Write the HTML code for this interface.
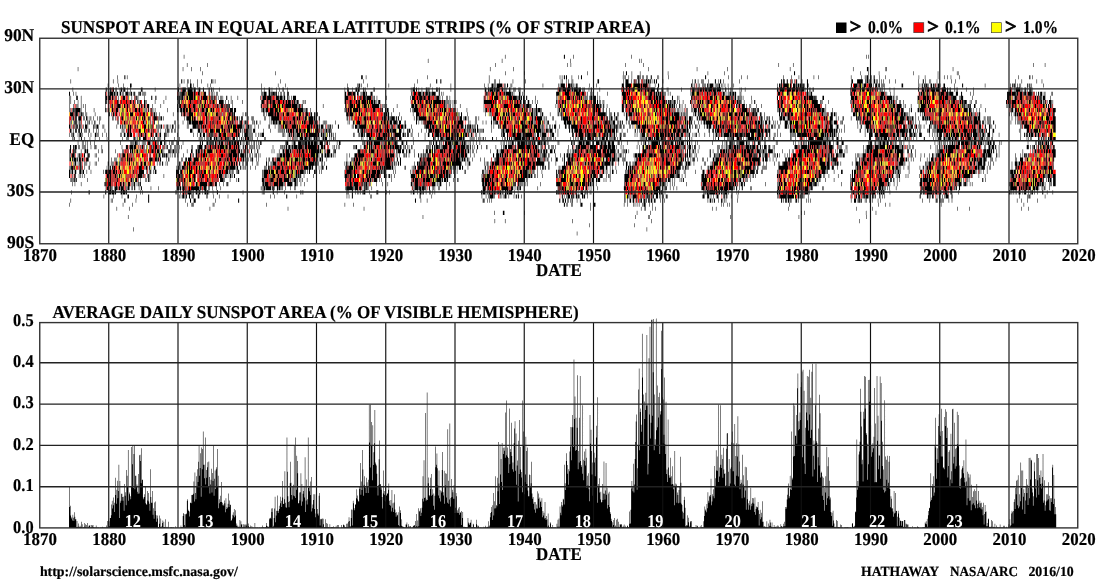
<!DOCTYPE html>
<html><head><meta charset="utf-8"><title>Sunspot butterfly diagram</title>
<style>html,body{margin:0;padding:0;background:#fff;overflow:hidden}svg{display:block}</style>
</head><body>
<svg width="1112" height="581" viewBox="0 0 1112 581" font-family="'Liberation Serif', serif" font-weight="bold" stroke="#000" stroke-width="0.2" style="text-rendering:geometricPrecision">
<rect width="1112" height="581" fill="#fff" stroke="none"/>
<g stroke="none"><g transform="translate(69.000 40.305) scale(0.51713 4.11000)" fill="none" stroke-width="1"><path stroke="#000" d="M222 4h1m620 0h1m113 0h2m16 0h1m111 0h1m454 0h1m3 0h1m-853 1h1m142 0h1m131 0h1m133 0h1m2 0h1m-879 1h1m38 0h1m556 0h1m138 0h1m6 0h1m105 0h1m33 0h1m261 0h1m27 0h1m464 0h1m21 0h1m-1871 1h1m202 0h1m15 0h1m17 0h1m559 0h1m44 0h1m260 0h1m93 0h1m58 0h1m120 0h1m121 0h1m26 0h3m33 0h2m128 0h1m-1452 1h1m140 0h1m444 0h1m35 0h1m121 0h1m69 0h1m4 0h2m9 0h1m15 0h1m53 0h1m76 0h1m31 0h1m134 0h2m126 0h1m15 0h1m19 0h1m66 0h1m46 0h1m36 0h1m1 0h1m-1627 1h1m13 0h2m3 0h1m452 0h3m6 0h1m118 0h1m118 0h1m136 0h1m3 0h1m3 0h2m2 0h2m9 0h1m12 0h1m4 0h2m79 0h1m1 0h1m2 0h1m5 0h1m5 0h1m10 0h3m1 0h1m1 0h1m3 0h2m5 0h1m1 0h1m6 0h2m11 0h1m1 0h1m18 0h1m70 0h2m43 0h1m24 0h1m10 0h1m69 0h1m15 0h1m13 0h1m28 0h1m8 0h1m62 0h1m19 0h1m6 0h1m1 0h1m1 0h3m5 0h1m4 0h2m9 0h1m10 0h1m64 0h1m11 0h1m24 0h1m11 0h1m5 0h1m6 0h1m16 0h1m113 0h1m20 0h2m4 0h1m-1861 1h1m81 0h1m8 0h1m122 0h2m3 0h1m6 0h2m3 0h1m13 0h1m7 0h1m18 0h2m1 0h1m3 0h1m125 0h1m160 0h1m103 0h1m36 0h2m6 0h2m92 0h1m9 0h1m1 0h1m7 0h1m25 0h1m23 0h1m68 0h1m2 0h1m7 0h1m2 0h1m6 0h1m1 0h1m46 0h1m1 0h2m47 0h1m3 0h6m5 0h1m4 0h2m1 0h1m1 0h1m2 0h2m1 0h1m2 0h1m1 0h1m2 0h2m2 0h3m1 0h3m1 0h2m2 0h1m3 0h2m2 0h2m11 0h1m56 0h1m4 0h2m4 0h1m6 0h1m1 0h2m9 0h1m12 0h2m5 0h1m2 0h2m4 0h1m30 0h1m80 0h2m2 0h3m4 0h2m5 0h2m2 0h1m2 0h1m3 0h2m9 0h1m9 0h2m84 0h3m8 0h11m5 0h2m1 0h3m1 0h1m2 0h1m1 0h1m3 0h3m2 0h1m1 0h1m3 0h1m3 0h1m3 0h1m10 0h1m11 0h1m43 0h1m8 0h2m3 0h1m6 0h1m2 0h1m11 0h1m27 0h1m7 0h1m115 0h1m11 0h1m28 0h1m9 0h1m-1807 1h1m19 0h1m9 0h1m12 0h3m93 0h1m13 0h1m5 0h3m3 0h1m7 0h1m19 0h1m4 0h1m98 0h1m31 0h1m13 0h1m119 0h1m18 0h1m1 0h1m1 0h2m2 0h1m11 0h1m40 0h1m49 0h1m29 0h1m39 0h1m64 0h1m6 0h1m5 0h1m1 0h3m1 0h1m1 0h1m2 0h11m4 0h2m3 0h2m5 0h1m1 0h1m59 0h1m29 0h1m2 0h1m1 0h8m3 0h1m2 0h5m1 0h2m1 0h1m1 0h1m3 0h2m1 0h1m22 0h1m13 0h1m48 0h4m3 0h11m4 0h14m1 0h3m1 0h9m2 0h1m1 0h1m9 0h1m5 0h2m62 0h2m1 0h1m2 0h1m3 0h1m2 0h1m2 0h1m5 0h2m1 0h1m1 0h1m3 0h2m1 0h1m1 0h7m3 0h1m2 0h1m1 0h1m1 0h3m2 0h1m2 0h1m3 0h1m5 0h1m10 0h1m84 0h1m2 0h3m1 0h2m2 0h11m2 0h3m3 0h5m1 0h2m1 0h3m1 0h3m2 0h3m1 0h1m4 0h3m82 0h2m4 0h7m1 0h1m1 0h4m1 0h1m1 0h1m1 0h5m4 0h7m2 0h1m3 0h4m2 0h3m3 0h1m1 0h1m1 0h2m33 0h3m29 0h1m2 0h1m3 0h2m2 0h2m1 0h3m1 0h2m4 0h3m2 0h2m1 0h2m2 0h1m1 0h3m1 0h1m6 0h3m18 0h1m14 0h2m42 0h1m48 0h1m3 0h2m1 0h2m1 0h1m3 0h1m2 0h1m2 0h1m12 0h2m2 0h2m2 0h1m22 0h1m-1878 1h1m63 0h2m2 0h1m3 0h2m1 0h1m1 0h3m3 0h2m6 0h1m1 0h3m2 0h4m4 0h1m4 0h1m20 0h2m1 0h1m23 0h1m43 0h3m3 0h1m2 0h7m2 0h1m1 0h9m2 0h4m4 0h1m1 0h3m5 0h2m9 0h2m3 0h2m2 0h1m10 0h1m81 0h1m4 0h1m8 0h3m3 0h1m8 0h1m5 0h1m5 0h2m7 0h1m110 0h1m4 0h3m7 0h1m5 0h3m1 0h4m7 0h2m2 0h1m15 0h2m70 0h1m1 0h1m1 0h4m2 0h2m3 0h1m5 0h1m7 0h2m1 0h1m1 0h2m5 0h1m7 0h3m2 0h2m21 0h1m65 0h3m3 0h2m1 0h8m1 0h3m1 0h7m4 0h3m2 0h2m1 0h1m5 0h2m1 0h1m4 0h1m1 0h1m1 0h1m5 0h1m1 0h2m7 0h1m64 0h1m1 0h4m1 0h1m1 0h8m1 0h6m1 0h1m1 0h3m1 0h8m1 0h5m2 0h1m2 0h2m8 0h1m3 0h2m3 0h1m11 0h1m41 0h1m2 0h3m3 0h3m3 0h2m1 0h2m1 0h5m4 0h1m1 0h5m1 0h3m1 0h1m2 0h4m1 0h5m1 0h9m4 0h3m5 0h1m1 0h2m7 0h1m1 0h1m25 0h1m16 0h1m3 0h5m1 0h1m1 0h1m1 0h3m1 0h5m1 0h3m1 0h6m1 0h8m1 0h6m1 0h9m3 0h1m4 0h2m4 0h1m3 0h1m17 0h1m2 0h1m6 0h1m61 0h3m2 0h10m4 0h9m1 0h6m1 0h6m1 0h3m1 0h6m1 0h1m3 0h2m2 0h1m2 0h1m3 0h2m71 0h2m1 0h8m1 0h1m1 0h1m1 0h1m1 0h3m1 0h6m4 0h4m1 0h1m2 0h1m1 0h3m3 0h2m1 0h2m2 0h1m2 0h2m2 0h1m3 0h1m9 0h1m7 0h1m46 0h2m5 0h5m1 0h2m1 0h5m1 0h2m1 0h8m1 0h7m5 0h8m2 0h2m3 0h2m7 0h1m2 0h1m2 0h1m16 0h1m13 0h1m69 0h3m1 0h1m3 0h1m1 0h1m1 0h8m1 0h2m2 0h1m2 0h1m1 0h2m2 0h1m3 0h3m1 0h2m-1863 1h2m6 0h1m4 0h1m56 0h2m3 0h1m1 0h1m1 0h7m1 0h2m1 0h1m1 0h3m3 0h3m2 0h1m1 0h1m3 0h5m1 0h1m1 0h1m1 0h3m2 0h1m1 0h2m6 0h1m1 0h3m2 0h1m1 0h1m1 0h1m2 0h1m60 0h1m2 0h1m1 0h2m1 0h7m1 0h1m1 0h1m1 0h11m1 0h4m4 0h4m2 0h1m2 0h1m1 0h5m5 0h2m3 0h1m1 0h1m2 0h1m4 0h1m1 0h1m84 0h1m1 0h2m1 0h5m4 0h3m1 0h2m1 0h5m1 0h3m3 0h1m3 0h2m4 0h2m5 0h3m108 0h3m3 0h8m1 0h6m3 0h3m4 0h1m1 0h1m1 0h5m1 0h2m7 0h4m75 0h2m3 0h4m2 0h1m1 0h6m1 0h1m1 0h3m2 0h5m1 0h3m1 0h2m1 0h7m6 0h2m3 0h1m2 0h1m81 0h3m1 0h2m1 0h1m2 0h1m2 0h5m2 0h4m3 0h4m4 0h3m1 0h11m1 0h2m2 0h1m9 0h3m3 0h1m65 0h7m1 0h1m2 0h1m5 0h8m2 0h1m1 0h1m3 0h1m1 0h2m1 0h8m1 0h1m2 0h5m2 0h1m2 0h1m5 0h1m1 0h2m9 0h1m19 0h1m27 0h8m2 0h2m2 0h2m4 0h1m6 0h3m6 0h1m1 0h2m2 0h1m2 0h3m2 0h2m1 0h6m1 0h1m1 0h3m1 0h3m1 0h3m1 0h2m1 0h2m1 0h1m1 0h1m1 0h1m4 0h1m3 0h1m39 0h1m1 0h6m3 0h6m2 0h2m4 0h1m1 0h1m3 0h3m1 0h2m3 0h1m1 0h2m1 0h5m2 0h1m2 0h1m3 0h1m2 0h4m2 0h1m3 0h1m1 0h1m1 0h2m3 0h3m1 0h3m7 0h1m1 0h1m69 0h1m1 0h4m1 0h1m2 0h3m6 0h4m1 0h1m3 0h4m5 0h3m3 0h1m2 0h1m1 0h1m8 0h4m2 0h1m1 0h3m74 0h3m1 0h1m2 0h2m2 0h1m2 0h1m2 0h3m2 0h1m2 0h1m4 0h2m4 0h4m3 0h1m1 0h1m1 0h1m1 0h1m3 0h1m2 0h2m1 0h7m1 0h1m2 0h1m6 0h1m6 0h1m48 0h2m1 0h3m1 0h4m1 0h2m1 0h2m1 0h1m1 0h1m4 0h5m1 0h2m2 0h1m1 0h3m1 0h8m1 0h1m1 0h5m1 0h8m5 0h4m6 0h2m16 0h1m5 0h1m64 0h8m1 0h8m1 0h4m2 0h5m1 0h2m1 0h4m1 0h1m1 0h8m1 0h2m2 0h1m2 0h1m3 0h2m2 0h4m3 0h1m1 0h1m12 0h2m-1901 1h1m1 0h1m10 0h3m6 0h1m46 0h4m2 0h5m2 0h3m2 0h1m1 0h1m1 0h1m2 0h1m6 0h1m1 0h5m3 0h1m2 0h1m5 0h1m4 0h1m1 0h1m1 0h2m1 0h1m11 0h1m13 0h2m6 0h2m18 0h1m21 0h3m1 0h3m1 0h4m1 0h1m1 0h1m2 0h4m1 0h8m1 0h4m3 0h1m3 0h1m2 0h2m2 0h8m1 0h1m2 0h2m1 0h2m1 0h2m1 0h2m1 0h1m1 0h1m2 0h1m3 0h1m1 0h1m2 0h1m6 0h2m7 0h1m12 0h1m43 0h1m3 0h8m1 0h9m1 0h1m3 0h1m2 0h6m1 0h6m2 0h3m4 0h2m1 0h1m4 0h1m2 0h6m94 0h7m1 0h1m4 0h1m1 0h1m2 0h2m1 0h1m4 0h1m3 0h3m2 0h6m1 0h9m1 0h2m2 0h2m4 0h1m17 0h1m46 0h1m2 0h6m4 0h3m1 0h7m1 0h5m1 0h1m2 0h5m2 0h1m1 0h1m2 0h1m1 0h1m1 0h6m1 0h1m4 0h1m6 0h1m1 0h1m4 0h1m65 0h2m1 0h1m3 0h1m3 0h1m4 0h2m2 0h8m2 0h1m1 0h1m1 0h1m1 0h2m4 0h2m4 0h7m1 0h8m1 0h1m1 0h4m1 0h2m2 0h2m4 0h2m16 0h1m39 0h1m2 0h1m2 0h1m1 0h2m1 0h1m8 0h7m1 0h2m2 0h3m1 0h2m2 0h2m1 0h4m1 0h2m1 0h1m1 0h1m1 0h2m1 0h1m1 0h1m3 0h1m1 0h4m1 0h1m1 0h4m2 0h1m4 0h1m44 0h6m2 0h1m1 0h2m4 0h3m17 0h1m3 0h1m1 0h1m1 0h1m2 0h1m1 0h7m3 0h4m1 0h5m1 0h4m1 0h5m1 0h1m13 0h2m8 0h1m2 0h1m23 0h3m1 0h1m1 0h2m2 0h2m2 0h2m4 0h2m4 0h1m4 0h2m3 0h6m2 0h2m2 0h3m2 0h2m4 0h5m1 0h1m1 0h8m1 0h1m1 0h1m1 0h1m1 0h1m1 0h3m3 0h2m1 0h1m1 0h1m1 0h1m2 0h1m15 0h1m49 0h2m5 0h3m1 0h2m11 0h1m4 0h1m1 0h3m6 0h2m10 0h4m1 0h4m1 0h9m1 0h3m1 0h1m11 0h3m52 0h6m1 0h5m2 0h1m2 0h1m3 0h2m5 0h1m1 0h1m4 0h1m4 0h1m2 0h1m2 0h1m1 0h2m2 0h1m1 0h1m1 0h6m1 0h4m2 0h11m2 0h2m3 0h1m1 0h1m39 0h4m1 0h1m2 0h1m1 0h7m1 0h5m5 0h4m4 0h1m1 0h1m1 0h1m2 0h4m2 0h2m1 0h7m1 0h1m1 0h1m1 0h2m1 0h8m5 0h1m1 0h1m1 0h4m18 0h1m66 0h5m1 0h2m1 0h1m3 0h1m1 0h4m1 0h2m2 0h5m1 0h1m1 0h1m4 0h3m1 0h1m1 0h3m1 0h2m4 0h3m2 0h2m1 0h2m1 0h3m2 0h5m9 0h1m-1897 1h1m1 0h1m6 0h1m6 0h1m5 0h1m46 0h3m2 0h1m5 0h1m2 0h1m2 0h1m5 0h3m5 0h2m7 0h2m2 0h1m2 0h4m3 0h2m2 0h1m3 0h2m1 0h1m1 0h2m6 0h3m1 0h1m16 0h1m16 0h1m26 0h2m1 0h2m2 0h2m2 0h1m3 0h1m5 0h1m2 0h2m1 0h2m1 0h1m7 0h2m1 0h1m1 0h2m1 0h1m3 0h1m1 0h3m5 0h2m1 0h2m2 0h5m2 0h1m5 0h9m3 0h1m5 0h1m4 0h1m2 0h1m18 0h1m36 0h5m1 0h1m2 0h1m1 0h3m2 0h4m1 0h6m2 0h1m1 0h5m5 0h3m1 0h1m1 0h3m1 0h6m2 0h2m1 0h4m1 0h1m1 0h3m8 0h1m1 0h1m2 0h1m75 0h3m1 0h1m1 0h1m2 0h5m2 0h1m4 0h4m1 0h4m1 0h1m1 0h9m1 0h3m1 0h2m2 0h4m1 0h3m1 0h1m1 0h1m2 0h4m59 0h1m2 0h1m2 0h4m3 0h3m1 0h4m3 0h1m3 0h5m1 0h3m1 0h3m2 0h16m1 0h3m1 0h2m1 0h2m1 0h1m1 0h1m2 0h1m1 0h1m3 0h1m2 0h2m1 0h1m53 0h16m2 0h2m2 0h3m7 0h2m2 0h2m2 0h1m2 0h1m3 0h1m3 0h2m2 0h2m2 0h3m2 0h3m1 0h1m1 0h2m1 0h1m2 0h5m4 0h3m6 0h1m4 0h1m3 0h1m36 0h2m1 0h1m2 0h2m1 0h1m1 0h4m2 0h3m1 0h1m2 0h2m3 0h1m3 0h2m2 0h3m6 0h1m4 0h1m1 0h2m1 0h4m3 0h1m3 0h2m4 0h4m2 0h2m2 0h1m1 0h1m4 0h1m1 0h1m36 0h2m1 0h3m2 0h1m1 0h1m1 0h3m1 0h4m2 0h1m2 0h1m1 0h1m21 0h1m2 0h1m1 0h4m2 0h4m2 0h3m1 0h2m1 0h1m3 0h5m1 0h2m2 0h2m1 0h3m1 0h1m1 0h2m1 0h3m3 0h1m3 0h1m6 0h1m13 0h2m1 0h1m1 0h1m2 0h1m1 0h1m3 0h4m1 0h3m1 0h3m4 0h2m1 0h5m5 0h1m1 0h3m4 0h1m4 0h3m5 0h1m1 0h1m2 0h2m3 0h2m5 0h4m4 0h4m1 0h3m1 0h1m4 0h1m14 0h1m4 0h2m42 0h1m1 0h2m1 0h2m1 0h4m3 0h1m5 0h1m7 0h2m1 0h1m3 0h2m1 0h2m7 0h1m2 0h1m2 0h3m4 0h1m1 0h2m2 0h12m5 0h2m1 0h1m11 0h1m42 0h1m1 0h1m1 0h4m2 0h1m1 0h1m5 0h1m3 0h3m6 0h5m6 0h1m2 0h3m1 0h1m3 0h3m1 0h2m1 0h2m5 0h1m4 0h1m1 0h3m1 0h3m1 0h3m1 0h1m2 0h1m5 0h2m5 0h1m27 0h2m1 0h1m1 0h4m1 0h3m1 0h3m1 0h3m1 0h2m4 0h1m11 0h1m6 0h4m2 0h1m1 0h1m1 0h1m1 0h1m1 0h2m1 0h2m1 0h6m2 0h2m1 0h1m2 0h3m1 0h4m1 0h5m6 0h1m2 0h1m7 0h2m57 0h2m1 0h4m1 0h2m1 0h9m3 0h2m1 0h1m1 0h4m2 0h1m1 0h1m3 0h2m2 0h4m3 0h2m3 0h1m3 0h2m4 0h4m2 0h2m1 0h2m2 0h1m3 0h5m2 0h1m-1902 1h1m6 0h1m4 0h1m1 0h1m1 0h1m5 0h1m3 0h1m3 0h1m38 0h1m5 0h1m5 0h3m2 0h1m2 0h2m1 0h7m2 0h1m3 0h3m1 0h1m1 0h3m1 0h1m6 0h2m1 0h2m7 0h2m2 0h2m1 0h1m2 0h3m3 0h4m6 0h1m15 0h1m31 0h2m2 0h4m2 0h1m1 0h5m1 0h1m1 0h1m2 0h2m2 0h1m2 0h6m4 0h1m1 0h2m1 0h2m1 0h2m1 0h3m3 0h2m1 0h2m3 0h1m2 0h1m3 0h1m1 0h2m1 0h2m1 0h2m2 0h5m1 0h2m1 0h1m1 0h3m1 0h3m5 0h1m54 0h2m3 0h2m2 0h2m1 0h3m3 0h2m2 0h8m1 0h2m2 0h2m1 0h1m1 0h4m3 0h12m1 0h11m1 0h1m1 0h2m1 0h1m1 0h2m39 0h1m42 0h2m1 0h1m2 0h1m1 0h8m1 0h2m4 0h6m4 0h2m1 0h6m2 0h2m1 0h1m3 0h15m2 0h1m2 0h1m1 0h1m2 0h1m3 0h1m19 0h1m27 0h6m1 0h4m1 0h2m1 0h1m3 0h4m1 0h1m1 0h2m3 0h2m3 0h2m1 0h1m2 0h4m2 0h2m1 0h1m1 0h2m7 0h3m1 0h1m1 0h1m3 0h1m1 0h2m4 0h1m13 0h1m45 0h1m3 0h1m2 0h1m1 0h1m1 0h2m1 0h4m2 0h1m1 0h3m6 0h1m3 0h1m2 0h9m6 0h2m3 0h12m1 0h2m2 0h1m2 0h1m1 0h1m1 0h7m1 0h2m9 0h2m36 0h1m3 0h1m1 0h1m1 0h3m1 0h2m2 0h1m1 0h2m3 0h1m4 0h1m1 0h1m7 0h1m4 0h1m1 0h2m1 0h1m2 0h2m3 0h1m2 0h2m1 0h2m1 0h2m1 0h1m1 0h2m2 0h3m1 0h7m1 0h2m1 0h1m2 0h2m5 0h1m28 0h4m3 0h4m2 0h2m1 0h2m2 0h2m5 0h1m1 0h1m3 0h1m4 0h2m3 0h2m1 0h1m2 0h1m3 0h1m3 0h1m1 0h3m4 0h2m4 0h4m1 0h6m1 0h1m2 0h3m1 0h4m1 0h4m1 0h2m2 0h1m5 0h2m3 0h1m5 0h1m11 0h1m3 0h2m3 0h1m1 0h2m1 0h4m2 0h1m1 0h1m1 0h2m2 0h2m1 0h2m5 0h4m1 0h1m4 0h1m1 0h2m6 0h1m1 0h2m4 0h2m3 0h5m1 0h3m1 0h1m5 0h2m1 0h1m1 0h3m3 0h6m3 0h1m5 0h1m1 0h1m10 0h1m9 0h1m30 0h3m3 0h4m4 0h1m4 0h2m2 0h2m3 0h1m2 0h1m3 0h3m1 0h1m2 0h3m2 0h1m3 0h4m1 0h3m1 0h1m3 0h1m2 0h2m1 0h13m2 0h1m7 0h1m50 0h1m1 0h2m1 0h4m2 0h2m3 0h3m2 0h2m9 0h5m3 0h1m11 0h1m1 0h1m2 0h3m7 0h1m3 0h2m1 0h3m1 0h6m2 0h10m4 0h1m2 0h1m10 0h1m14 0h2m2 0h10m1 0h1m1 0h4m9 0h1m4 0h1m5 0h1m2 0h2m1 0h3m2 0h1m2 0h1m1 0h1m1 0h1m2 0h5m3 0h2m1 0h1m2 0h3m1 0h1m1 0h1m1 0h3m1 0h2m1 0h1m1 0h1m1 0h2m1 0h3m6 0h3m10 0h1m49 0h1m1 0h1m2 0h3m2 0h4m2 0h2m1 0h2m2 0h1m1 0h1m3 0h2m1 0h3m7 0h1m3 0h1m2 0h1m1 0h1m3 0h2m1 0h1m3 0h2m6 0h4m2 0h2m2 0h2m2 0h3m1 0h1m-1901 1h1m1 0h1m2 0h1m1 0h3m1 0h10m1 0h1m7 0h1m16 0h1m21 0h2m1 0h1m2 0h2m5 0h3m2 0h1m1 0h5m3 0h1m3 0h2m1 0h2m5 0h2m3 0h2m3 0h1m2 0h1m1 0h5m2 0h4m3 0h1m2 0h2m2 0h2m3 0h2m2 0h1m1 0h2m1 0h1m3 0h1m23 0h1m18 0h2m1 0h1m2 0h4m1 0h5m1 0h4m2 0h5m2 0h1m1 0h4m4 0h2m2 0h1m2 0h6m1 0h1m1 0h4m4 0h4m1 0h3m6 0h1m3 0h1m1 0h2m4 0h1m1 0h2m1 0h1m1 0h3m2 0h6m2 0h4m49 0h1m1 0h4m2 0h5m3 0h8m2 0h6m1 0h3m10 0h2m2 0h1m1 0h1m1 0h1m2 0h1m4 0h7m1 0h11m1 0h1m1 0h1m1 0h2m1 0h1m5 0h1m65 0h2m1 0h2m1 0h3m1 0h4m2 0h10m1 0h3m1 0h1m2 0h1m5 0h3m2 0h1m1 0h1m1 0h1m4 0h6m2 0h1m5 0h2m1 0h3m4 0h2m1 0h4m9 0h1m32 0h1m3 0h1m1 0h10m4 0h2m1 0h1m1 0h1m1 0h1m4 0h3m2 0h1m1 0h4m1 0h2m1 0h1m4 0h1m1 0h2m1 0h3m1 0h3m1 0h5m2 0h1m1 0h1m2 0h3m2 0h2m1 0h2m3 0h1m18 0h1m32 0h1m2 0h4m4 0h3m1 0h1m5 0h1m1 0h5m4 0h1m5 0h2m2 0h2m3 0h2m2 0h1m1 0h2m5 0h2m2 0h1m1 0h2m1 0h1m1 0h1m1 0h3m2 0h1m1 0h1m1 0h3m3 0h1m1 0h1m2 0h3m2 0h1m1 0h4m1 0h5m1 0h1m31 0h1m1 0h3m2 0h2m1 0h5m3 0h1m2 0h1m7 0h4m4 0h1m1 0h2m3 0h1m3 0h1m4 0h2m3 0h2m2 0h1m4 0h1m1 0h4m1 0h2m2 0h5m4 0h2m5 0h1m5 0h1m23 0h4m3 0h1m2 0h1m1 0h1m1 0h2m1 0h1m1 0h5m2 0h3m2 0h2m4 0h1m1 0h1m2 0h1m7 0h2m6 0h1m1 0h1m1 0h2m1 0h3m1 0h1m1 0h1m2 0h2m2 0h1m2 0h2m4 0h2m1 0h4m2 0h2m1 0h1m1 0h1m2 0h1m2 0h1m1 0h1m2 0h1m3 0h1m3 0h1m4 0h1m1 0h1m6 0h1m1 0h1m2 0h6m2 0h3m1 0h2m2 0h4m1 0h1m3 0h1m3 0h1m3 0h3m2 0h1m5 0h2m3 0h1m1 0h2m9 0h1m3 0h2m1 0h1m3 0h2m1 0h2m7 0h1m2 0h1m1 0h2m1 0h11m2 0h2m3 0h1m1 0h1m1 0h3m1 0h2m2 0h3m36 0h1m1 0h4m3 0h5m5 0h1m2 0h5m11 0h2m13 0h2m1 0h4m1 0h2m1 0h4m1 0h3m1 0h2m1 0h8m1 0h6m2 0h1m12 0h1m36 0h1m1 0h1m3 0h8m1 0h2m3 0h4m2 0h4m3 0h1m4 0h1m1 0h3m2 0h1m5 0h1m3 0h2m1 0h2m1 0h1m3 0h4m3 0h2m2 0h5m2 0h1m1 0h2m1 0h6m2 0h5m11 0h1m2 0h2m11 0h3m1 0h10m3 0h1m1 0h1m2 0h4m2 0h3m1 0h3m1 0h1m3 0h1m2 0h4m5 0h2m1 0h2m2 0h1m1 0h1m1 0h1m2 0h1m1 0h4m6 0h4m1 0h1m1 0h1m3 0h8m2 0h4m1 0h1m2 0h1m6 0h1m4 0h1m11 0h1m47 0h1m1 0h4m3 0h4m2 0h2m1 0h1m2 0h2m5 0h1m3 0h1m1 0h1m1 0h3m3 0h1m6 0h2m1 0h2m2 0h2m2 0h2m1 0h1m2 0h2m5 0h4m3 0h1m1 0h6m-1906 1h7m1 0h1m1 0h5m2 0h1m1 0h1m1 0h2m1 0h2m4 0h1m1 0h1m15 0h1m26 0h2m3 0h1m2 0h3m3 0h2m5 0h1m2 0h2m1 0h1m1 0h1m2 0h1m1 0h1m3 0h1m2 0h6m6 0h1m5 0h3m4 0h5m1 0h1m9 0h2m1 0h1m1 0h3m2 0h1m4 0h1m26 0h1m8 0h1m6 0h2m2 0h4m1 0h1m2 0h1m1 0h9m8 0h2m1 0h1m2 0h2m1 0h1m3 0h1m1 0h4m1 0h1m1 0h2m5 0h2m2 0h1m2 0h4m1 0h2m2 0h1m1 0h1m1 0h1m1 0h1m1 0h1m3 0h1m2 0h5m1 0h3m1 0h3m15 0h1m4 0h2m33 0h2m4 0h1m2 0h11m1 0h4m1 0h5m2 0h2m2 0h3m4 0h6m1 0h1m2 0h1m7 0h1m1 0h1m3 0h5m1 0h1m1 0h2m3 0h5m1 0h1m2 0h1m1 0h2m4 0h2m1 0h1m1 0h2m55 0h5m1 0h8m2 0h2m6 0h3m1 0h3m3 0h1m2 0h2m1 0h1m1 0h1m3 0h1m4 0h2m4 0h1m7 0h1m5 0h1m1 0h2m1 0h3m1 0h3m4 0h1m15 0h1m25 0h1m5 0h7m3 0h1m2 0h2m2 0h1m4 0h1m1 0h1m1 0h2m2 0h2m3 0h2m2 0h3m2 0h2m6 0h1m1 0h2m2 0h1m1 0h1m1 0h1m1 0h2m1 0h1m4 0h1m4 0h2m1 0h2m1 0h1m3 0h2m10 0h1m34 0h1m6 0h1m2 0h2m4 0h1m1 0h7m5 0h1m1 0h1m1 0h4m2 0h3m1 0h3m3 0h2m1 0h5m4 0h2m4 0h1m1 0h1m4 0h4m2 0h1m1 0h2m1 0h1m1 0h5m2 0h2m1 0h3m5 0h1m2 0h3m13 0h1m14 0h2m2 0h1m1 0h2m1 0h1m4 0h3m2 0h1m2 0h1m3 0h1m6 0h4m1 0h2m9 0h1m5 0h1m2 0h2m2 0h1m4 0h1m2 0h2m3 0h2m1 0h15m1 0h1m5 0h1m1 0h1m1 0h1m4 0h2m4 0h1m1 0h1m10 0h1m3 0h3m2 0h7m1 0h2m2 0h1m1 0h3m1 0h2m6 0h1m1 0h1m2 0h1m4 0h1m1 0h3m1 0h1m4 0h1m3 0h3m4 0h1m1 0h3m11 0h3m1 0h2m2 0h1m1 0h3m1 0h10m1 0h1m2 0h2m2 0h1m1 0h2m2 0h1m1 0h1m10 0h1m2 0h3m3 0h2m1 0h6m2 0h3m1 0h2m1 0h1m1 0h3m5 0h1m7 0h1m1 0h1m2 0h2m4 0h1m1 0h3m1 0h1m1 0h3m2 0h7m1 0h1m2 0h6m2 0h3m1 0h5m1 0h2m2 0h7m1 0h1m1 0h1m1 0h5m1 0h4m5 0h2m1 0h1m4 0h1m28 0h2m2 0h3m1 0h1m2 0h4m1 0h5m1 0h5m1 0h1m6 0h1m6 0h2m3 0h1m1 0h5m3 0h1m4 0h3m2 0h1m1 0h1m1 0h1m2 0h1m1 0h2m4 0h4m2 0h1m1 0h1m1 0h2m1 0h1m4 0h4m2 0h3m1 0h1m32 0h5m1 0h2m3 0h3m1 0h1m4 0h3m1 0h1m1 0h8m2 0h2m2 0h3m5 0h2m2 0h1m3 0h1m1 0h1m8 0h2m3 0h1m2 0h3m2 0h7m1 0h2m2 0h5m1 0h4m1 0h1m1 0h1m2 0h1m11 0h1m9 0h1m3 0h1m2 0h3m2 0h1m1 0h2m1 0h1m1 0h1m1 0h1m1 0h1m1 0h1m2 0h2m3 0h1m1 0h6m3 0h1m2 0h1m1 0h1m2 0h1m2 0h1m4 0h1m3 0h2m1 0h1m3 0h1m2 0h2m7 0h2m3 0h1m1 0h2m2 0h3m1 0h3m1 0h1m1 0h1m1 0h1m3 0h1m2 0h3m56 0h1m3 0h1m4 0h1m1 0h3m1 0h3m1 0h4m1 0h1m1 0h2m5 0h3m1 0h1m4 0h2m6 0h1m2 0h1m2 0h1m5 0h1m1 0h3m5 0h3m1 0h3m1 0h1m1 0h1m2 0h3m-1906 1h1m3 0h1m1 0h1m1 0h2m2 0h3m3 0h6m4 0h2m3 0h2m1 0h1m3 0h1m1 0h1m4 0h1m7 0h1m2 0h1m2 0h1m22 0h2m3 0h1m3 0h1m1 0h1m5 0h4m4 0h2m1 0h1m1 0h1m2 0h1m1 0h2m2 0h1m1 0h1m3 0h3m2 0h2m1 0h1m3 0h2m1 0h4m5 0h3m1 0h1m5 0h7m1 0h2m2 0h2m1 0h2m2 0h1m27 0h1m12 0h1m3 0h9m1 0h3m1 0h4m4 0h1m4 0h1m3 0h1m6 0h3m2 0h2m7 0h2m1 0h1m1 0h1m2 0h1m1 0h4m5 0h1m1 0h2m3 0h1m1 0h4m3 0h3m1 0h3m1 0h2m1 0h2m2 0h1m3 0h3m11 0h1m5 0h2m1 0h1m21 0h2m8 0h1m2 0h16m4 0h1m1 0h2m3 0h1m3 0h1m3 0h1m2 0h1m2 0h6m2 0h3m1 0h3m1 0h1m1 0h1m2 0h2m1 0h4m3 0h9m1 0h3m1 0h1m5 0h2m52 0h2m2 0h1m1 0h1m2 0h2m1 0h1m2 0h1m4 0h1m1 0h2m4 0h1m1 0h1m1 0h6m1 0h2m2 0h1m1 0h2m3 0h2m3 0h1m1 0h1m1 0h2m3 0h1m3 0h2m1 0h6m2 0h3m1 0h2m1 0h7m2 0h2m2 0h2m4 0h1m24 0h1m3 0h3m2 0h15m1 0h1m1 0h1m1 0h2m3 0h2m1 0h2m4 0h2m1 0h1m1 0h2m4 0h1m2 0h1m3 0h3m2 0h2m1 0h2m1 0h1m3 0h2m3 0h1m2 0h2m2 0h5m3 0h1m1 0h3m1 0h1m2 0h1m13 0h1m1 0h1m3 0h1m23 0h1m3 0h6m7 0h3m1 0h2m1 0h2m1 0h3m4 0h3m2 0h3m2 0h1m2 0h2m4 0h3m5 0h1m2 0h1m1 0h3m8 0h1m1 0h3m2 0h3m2 0h10m3 0h1m1 0h1m2 0h1m11 0h2m15 0h2m1 0h10m1 0h3m2 0h1m3 0h2m1 0h1m3 0h2m2 0h1m3 0h2m1 0h1m7 0h2m3 0h1m4 0h3m4 0h1m1 0h1m1 0h1m2 0h1m2 0h5m2 0h2m2 0h3m3 0h2m1 0h3m3 0h1m2 0h3m1 0h1m15 0h3m3 0h1m2 0h2m2 0h1m2 0h1m4 0h2m2 0h1m1 0h1m7 0h1m2 0h1m2 0h2m2 0h1m4 0h1m6 0h1m3 0h1m4 0h1m3 0h5m1 0h6m1 0h2m1 0h2m1 0h4m2 0h8m1 0h2m1 0h1m1 0h1m2 0h1m1 0h3m1 0h1m3 0h5m1 0h1m8 0h2m2 0h2m1 0h1m1 0h10m1 0h1m1 0h2m1 0h3m2 0h3m4 0h1m1 0h2m2 0h1m1 0h2m1 0h2m2 0h1m1 0h2m1 0h3m6 0h3m1 0h1m1 0h1m4 0h1m1 0h4m6 0h4m1 0h1m1 0h2m2 0h2m2 0h3m1 0h1m1 0h1m1 0h1m1 0h1m2 0h1m5 0h3m1 0h1m2 0h1m4 0h2m2 0h2m5 0h1m12 0h1m1 0h4m1 0h5m3 0h1m1 0h4m1 0h2m4 0h2m7 0h2m10 0h3m1 0h1m3 0h4m1 0h3m6 0h1m2 0h1m1 0h4m6 0h4m1 0h2m1 0h1m3 0h6m6 0h1m3 0h1m8 0h2m14 0h1m9 0h3m1 0h3m1 0h2m3 0h4m3 0h4m1 0h1m1 0h1m2 0h3m9 0h1m3 0h1m2 0h4m2 0h2m3 0h3m1 0h1m4 0h3m3 0h4m1 0h2m1 0h1m1 0h9m1 0h1m2 0h4m1 0h1m1 0h2m1 0h3m4 0h1m4 0h1m7 0h4m1 0h2m1 0h4m1 0h2m3 0h2m2 0h1m1 0h1m2 0h1m2 0h1m1 0h2m1 0h1m3 0h1m3 0h1m2 0h2m1 0h3m3 0h1m4 0h1m1 0h1m5 0h2m3 0h1m1 0h1m1 0h4m1 0h4m1 0h3m1 0h3m1 0h2m1 0h1m1 0h6m1 0h5m7 0h1m1 0h1m4 0h2m1 0h1m1 0h1m41 0h1m6 0h1m2 0h1m1 0h1m1 0h1m1 0h1m1 0h2m3 0h2m3 0h1m10 0h2m3 0h1m5 0h3m4 0h4m2 0h1m2 0h7m6 0h6m-1908 1h1m2 0h2m4 0h2m1 0h3m2 0h1m2 0h2m1 0h1m7 0h1m3 0h1m2 0h2m4 0h1m4 0h2m7 0h1m34 0h1m1 0h1m7 0h1m2 0h3m1 0h1m1 0h1m1 0h1m2 0h1m5 0h1m3 0h1m5 0h2m8 0h3m2 0h1m4 0h1m2 0h1m1 0h1m2 0h1m2 0h2m7 0h1m30 0h2m14 0h1m8 0h2m1 0h4m1 0h13m1 0h8m2 0h1m3 0h3m2 0h1m2 0h2m2 0h3m1 0h1m1 0h1m2 0h2m1 0h1m9 0h1m3 0h1m1 0h3m2 0h3m1 0h3m1 0h2m2 0h1m3 0h1m2 0h1m1 0h4m3 0h1m1 0h2m1 0h1m10 0h1m2 0h2m3 0h2m5 0h1m18 0h1m2 0h1m2 0h4m1 0h4m1 0h1m1 0h4m3 0h6m1 0h3m1 0h1m1 0h4m2 0h1m1 0h4m1 0h1m2 0h2m2 0h1m3 0h3m1 0h4m2 0h1m1 0h1m1 0h8m1 0h2m1 0h3m1 0h1m3 0h1m6 0h1m2 0h2m2 0h1m16 0h1m23 0h1m2 0h1m6 0h2m1 0h1m4 0h6m2 0h1m1 0h1m1 0h1m1 0h4m4 0h1m3 0h4m5 0h2m2 0h2m3 0h1m1 0h3m1 0h1m1 0h2m1 0h1m2 0h2m1 0h1m1 0h5m2 0h7m1 0h1m2 0h4m7 0h2m20 0h2m3 0h1m5 0h1m2 0h1m1 0h3m1 0h12m3 0h4m4 0h1m1 0h1m1 0h2m2 0h2m3 0h1m1 0h3m1 0h1m2 0h1m2 0h1m4 0h4m1 0h1m1 0h11m10 0h1m2 0h1m9 0h1m1 0h1m12 0h1m5 0h1m9 0h2m2 0h1m2 0h2m1 0h4m3 0h2m5 0h5m1 0h3m3 0h2m1 0h1m5 0h1m1 0h3m1 0h3m4 0h5m2 0h2m3 0h1m1 0h4m1 0h5m2 0h1m1 0h1m3 0h7m2 0h2m2 0h1m2 0h1m2 0h3m13 0h1m15 0h5m1 0h8m1 0h1m2 0h4m4 0h2m1 0h1m1 0h1m1 0h3m8 0h1m1 0h3m1 0h1m1 0h1m1 0h1m2 0h1m3 0h1m1 0h1m1 0h4m1 0h1m4 0h2m1 0h7m1 0h3m1 0h1m1 0h1m1 0h5m4 0h1m1 0h1m2 0h2m2 0h2m6 0h1m4 0h2m3 0h13m2 0h3m6 0h1m1 0h3m2 0h2m2 0h1m2 0h1m3 0h1m3 0h3m4 0h1m1 0h2m7 0h1m2 0h5m2 0h15m1 0h1m1 0h2m1 0h2m4 0h2m1 0h3m1 0h2m2 0h3m1 0h2m4 0h1m7 0h1m4 0h1m4 0h3m1 0h13m3 0h2m1 0h4m5 0h3m3 0h1m1 0h3m1 0h2m2 0h1m1 0h1m3 0h2m1 0h1m1 0h1m3 0h1m1 0h2m1 0h2m2 0h11m2 0h1m1 0h1m2 0h3m1 0h2m3 0h5m1 0h5m1 0h3m2 0h1m2 0h4m3 0h3m6 0h1m2 0h1m4 0h1m4 0h1m8 0h6m2 0h1m1 0h5m1 0h2m2 0h6m2 0h1m5 0h2m2 0h5m3 0h3m2 0h2m2 0h2m5 0h1m2 0h2m2 0h2m6 0h1m1 0h2m1 0h2m2 0h5m1 0h1m2 0h6m7 0h1m1 0h2m28 0h1m4 0h2m3 0h3m2 0h11m4 0h3m2 0h2m5 0h1m1 0h3m2 0h2m4 0h2m1 0h1m1 0h1m2 0h1m4 0h2m1 0h1m2 0h6m1 0h9m2 0h1m5 0h3m1 0h2m1 0h2m2 0h1m3 0h1m6 0h1m12 0h1m7 0h3m1 0h2m1 0h2m1 0h2m1 0h1m1 0h1m1 0h2m1 0h3m2 0h1m1 0h1m3 0h3m1 0h2m1 0h3m1 0h2m2 0h3m3 0h1m2 0h1m2 0h2m5 0h2m2 0h1m3 0h4m1 0h3m1 0h1m1 0h10m1 0h3m3 0h3m2 0h1m3 0h1m2 0h2m1 0h1m5 0h2m32 0h1m8 0h1m3 0h1m1 0h1m1 0h2m1 0h1m1 0h5m1 0h4m1 0h1m2 0h4m1 0h3m4 0h1m1 0h1m1 0h1m2 0h5m1 0h3m1 0h1m4 0h2m1 0h3m1 0h10m-1908 1h2m1 0h1m3 0h2m1 0h1m1 0h1m1 0h3m2 0h2m1 0h2m4 0h1m2 0h4m1 0h1m10 0h2m1 0h1m2 0h4m8 0h1m1 0h1m24 0h1m6 0h2m2 0h2m2 0h1m1 0h1m2 0h1m1 0h2m1 0h4m2 0h1m2 0h1m1 0h2m2 0h2m3 0h1m7 0h4m1 0h1m2 0h2m1 0h2m1 0h3m7 0h2m2 0h2m2 0h3m5 0h1m2 0h1m1 0h2m3 0h1m3 0h2m1 0h1m3 0h1m5 0h1m15 0h1m1 0h1m8 0h8m1 0h3m1 0h2m1 0h2m2 0h2m1 0h3m1 0h1m1 0h1m4 0h2m2 0h1m2 0h2m3 0h1m1 0h2m2 0h2m1 0h4m1 0h1m1 0h1m1 0h1m1 0h1m1 0h4m1 0h4m1 0h6m2 0h10m1 0h1m1 0h1m4 0h1m2 0h3m1 0h1m2 0h1m5 0h1m6 0h1m19 0h2m10 0h1m5 0h1m2 0h2m1 0h1m2 0h3m1 0h6m1 0h1m1 0h1m2 0h1m1 0h9m1 0h2m2 0h2m1 0h1m6 0h1m4 0h7m1 0h3m3 0h2m1 0h5m1 0h2m2 0h5m3 0h1m4 0h2m1 0h1m1 0h2m2 0h1m10 0h2m25 0h1m2 0h1m2 0h5m1 0h1m1 0h14m2 0h2m3 0h1m2 0h4m7 0h2m2 0h3m2 0h1m2 0h2m1 0h1m1 0h1m1 0h2m2 0h1m2 0h2m1 0h2m2 0h1m2 0h1m2 0h5m2 0h4m1 0h1m1 0h3m10 0h1m24 0h1m1 0h8m1 0h3m1 0h5m3 0h3m1 0h1m1 0h4m2 0h2m3 0h2m1 0h1m2 0h1m1 0h2m3 0h3m1 0h1m4 0h6m2 0h5m1 0h1m2 0h2m2 0h3m1 0h4m2 0h2m2 0h1m1 0h1m2 0h2m25 0h1m4 0h1m8 0h2m1 0h2m2 0h1m1 0h7m3 0h1m2 0h1m3 0h2m2 0h3m5 0h2m3 0h1m1 0h5m1 0h6m3 0h2m1 0h3m2 0h7m1 0h5m1 0h1m1 0h2m1 0h1m4 0h1m1 0h1m4 0h2m3 0h1m3 0h4m6 0h1m10 0h2m1 0h1m2 0h1m1 0h2m2 0h13m3 0h3m2 0h1m1 0h3m1 0h1m1 0h2m3 0h2m1 0h1m1 0h1m1 0h1m1 0h7m2 0h3m1 0h2m5 0h4m1 0h1m1 0h4m1 0h2m1 0h1m1 0h2m1 0h3m1 0h3m2 0h1m1 0h2m1 0h1m3 0h2m9 0h1m1 0h1m4 0h1m6 0h1m1 0h6m1 0h1m1 0h8m1 0h3m1 0h1m1 0h1m2 0h1m3 0h3m6 0h3m1 0h1m1 0h1m5 0h1m1 0h3m1 0h3m2 0h1m1 0h2m2 0h1m1 0h3m1 0h3m2 0h2m3 0h4m1 0h1m2 0h2m1 0h2m2 0h3m3 0h1m5 0h2m1 0h1m4 0h1m8 0h1m4 0h3m1 0h5m3 0h2m3 0h3m1 0h3m1 0h4m1 0h4m1 0h2m1 0h3m2 0h2m2 0h3m2 0h1m1 0h3m1 0h2m1 0h3m1 0h2m5 0h1m2 0h4m1 0h3m1 0h2m1 0h1m1 0h1m3 0h1m1 0h2m1 0h3m2 0h4m1 0h2m3 0h1m5 0h1m1 0h1m3 0h3m2 0h1m1 0h1m5 0h1m2 0h1m9 0h5m2 0h1m2 0h3m2 0h1m1 0h1m2 0h7m1 0h1m2 0h1m5 0h2m2 0h2m3 0h4m3 0h1m2 0h1m6 0h6m2 0h1m5 0h1m1 0h4m1 0h1m2 0h6m6 0h1m1 0h3m11 0h1m25 0h1m5 0h2m6 0h1m1 0h7m1 0h1m2 0h2m1 0h1m2 0h1m1 0h1m7 0h1m3 0h1m1 0h1m2 0h4m1 0h3m1 0h1m1 0h3m1 0h3m1 0h3m1 0h3m2 0h1m3 0h1m3 0h4m1 0h1m1 0h1m2 0h1m1 0h1m1 0h5m2 0h1m2 0h3m3 0h1m1 0h1m1 0h1m5 0h1m9 0h2m1 0h1m1 0h1m3 0h2m1 0h2m1 0h2m2 0h4m2 0h7m1 0h2m2 0h2m4 0h1m3 0h1m2 0h4m2 0h1m1 0h1m3 0h2m3 0h4m2 0h1m1 0h3m5 0h2m1 0h4m3 0h1m2 0h5m7 0h2m6 0h3m2 0h1m6 0h1m47 0h1m2 0h1m1 0h1m2 0h10m5 0h2m3 0h1m1 0h1m1 0h2m1 0h2m1 0h2m3 0h3m2 0h1m1 0h2m1 0h1m7 0h2m1 0h5m-1906 1h2m1 0h1m2 0h1m3 0h3m3 0h3m2 0h2m4 0h1m2 0h2m4 0h2m7 0h1m5 0h1m2 0h1m12 0h1m32 0h1m1 0h1m1 0h1m6 0h3m1 0h3m6 0h1m1 0h1m4 0h1m1 0h4m6 0h3m3 0h1m1 0h2m1 0h1m2 0h2m1 0h2m2 0h1m3 0h1m2 0h1m3 0h1m8 0h1m2 0h2m1 0h2m4 0h2m4 0h2m28 0h4m1 0h1m9 0h5m2 0h2m2 0h1m4 0h2m2 0h1m2 0h8m4 0h8m3 0h3m1 0h3m1 0h1m1 0h2m1 0h4m5 0h9m1 0h2m2 0h2m2 0h1m2 0h2m1 0h5m1 0h2m1 0h1m2 0h1m2 0h4m16 0h1m12 0h1m14 0h1m1 0h1m1 0h1m2 0h2m2 0h2m3 0h2m1 0h3m1 0h5m1 0h3m2 0h5m2 0h4m1 0h2m1 0h5m2 0h6m1 0h1m1 0h1m3 0h1m2 0h7m1 0h2m2 0h2m2 0h1m1 0h1m1 0h3m1 0h2m1 0h3m1 0h1m50 0h3m2 0h1m1 0h4m1 0h2m1 0h1m1 0h2m3 0h1m1 0h1m1 0h3m2 0h2m1 0h1m1 0h4m2 0h5m3 0h1m2 0h1m3 0h4m1 0h4m1 0h8m5 0h5m4 0h1m6 0h2m1 0h3m4 0h1m16 0h1m9 0h1m3 0h8m1 0h2m1 0h10m3 0h1m1 0h2m3 0h10m3 0h2m1 0h4m1 0h2m1 0h2m1 0h2m1 0h2m4 0h4m2 0h2m1 0h1m1 0h2m1 0h1m1 0h1m1 0h2m1 0h3m2 0h3m2 0h1m1 0h1m1 0h1m1 0h2m15 0h1m18 0h1m1 0h4m1 0h1m1 0h6m4 0h1m1 0h2m1 0h4m2 0h1m1 0h2m3 0h2m1 0h7m3 0h1m1 0h2m1 0h3m2 0h1m1 0h4m1 0h10m1 0h2m1 0h1m1 0h1m2 0h4m1 0h2m1 0h5m5 0h1m4 0h1m21 0h2m3 0h3m2 0h8m1 0h6m1 0h2m3 0h2m1 0h4m5 0h2m3 0h2m3 0h1m4 0h1m1 0h5m3 0h5m1 0h8m1 0h6m2 0h2m1 0h1m7 0h1m9 0h1m14 0h2m3 0h1m3 0h1m2 0h2m1 0h5m1 0h1m3 0h5m3 0h1m3 0h2m2 0h4m2 0h1m1 0h3m1 0h2m2 0h5m1 0h3m2 0h3m3 0h7m1 0h7m1 0h1m1 0h7m1 0h4m3 0h1m14 0h2m19 0h2m5 0h3m2 0h2m1 0h5m4 0h2m1 0h2m2 0h2m3 0h7m3 0h2m7 0h2m1 0h2m2 0h1m1 0h2m1 0h1m1 0h2m1 0h2m3 0h1m1 0h14m1 0h6m1 0h5m2 0h6m1 0h4m14 0h1m23 0h4m1 0h5m1 0h5m1 0h2m2 0h3m2 0h5m1 0h4m5 0h3m1 0h1m1 0h3m1 0h2m2 0h4m2 0h4m2 0h5m2 0h10m1 0h3m1 0h2m1 0h1m2 0h1m3 0h1m5 0h1m29 0h2m8 0h1m3 0h3m2 0h1m2 0h2m1 0h1m1 0h3m2 0h2m1 0h1m1 0h4m4 0h4m4 0h1m1 0h1m1 0h1m1 0h3m1 0h2m1 0h1m3 0h7m1 0h11m1 0h3m2 0h5m3 0h2m2 0h1m3 0h1m3 0h1m1 0h1m13 0h2m1 0h2m5 0h1m1 0h1m1 0h1m1 0h1m1 0h13m1 0h4m2 0h1m1 0h1m3 0h1m1 0h6m2 0h1m1 0h1m1 0h2m1 0h3m1 0h1m3 0h9m2 0h2m2 0h2m1 0h8m1 0h1m1 0h1m1 0h3m1 0h4m1 0h1m1 0h1m1 0h2m4 0h2m5 0h3m48 0h1m2 0h1m11 0h5m2 0h3m1 0h1m1 0h9m1 0h3m2 0h1m5 0h1m3 0h3m2 0h1m2 0h3m2 0h5m-1907 1h1m2 0h1m1 0h1m1 0h2m7 0h1m2 0h4m1 0h1m11 0h1m4 0h1m7 0h3m1 0h1m1 0h1m7 0h1m7 0h1m26 0h1m1 0h1m4 0h3m3 0h4m1 0h5m9 0h1m4 0h2m1 0h3m1 0h1m2 0h3m1 0h1m7 0h3m2 0h1m3 0h4m3 0h1m1 0h2m6 0h3m1 0h1m2 0h1m17 0h1m30 0h1m7 0h1m4 0h3m3 0h4m2 0h1m1 0h1m1 0h1m1 0h3m1 0h3m1 0h1m1 0h1m1 0h2m3 0h1m1 0h5m3 0h6m1 0h1m1 0h1m2 0h1m1 0h1m1 0h4m3 0h1m1 0h2m1 0h4m5 0h1m3 0h7m1 0h1m1 0h2m1 0h1m1 0h1m6 0h1m4 0h1m2 0h1m1 0h1m1 0h4m36 0h2m2 0h1m5 0h1m1 0h3m1 0h2m2 0h3m2 0h1m1 0h7m1 0h4m2 0h2m2 0h4m1 0h16m1 0h4m3 0h3m1 0h2m1 0h2m2 0h2m3 0h2m2 0h2m2 0h1m3 0h1m34 0h2m8 0h2m2 0h5m1 0h2m3 0h7m2 0h3m7 0h2m2 0h4m1 0h1m2 0h6m1 0h3m1 0h3m3 0h2m2 0h1m1 0h13m3 0h3m1 0h2m3 0h3m4 0h1m1 0h1m11 0h1m12 0h1m5 0h3m5 0h2m2 0h1m1 0h8m1 0h3m1 0h1m1 0h2m2 0h1m1 0h3m2 0h3m2 0h5m1 0h3m1 0h5m2 0h1m1 0h2m2 0h3m1 0h4m2 0h2m3 0h3m5 0h1m2 0h1m5 0h1m41 0h2m1 0h4m4 0h2m2 0h1m3 0h1m1 0h7m2 0h9m1 0h1m1 0h3m1 0h14m2 0h2m1 0h1m3 0h4m2 0h1m2 0h9m8 0h2m1 0h4m7 0h1m27 0h3m4 0h3m2 0h10m3 0h3m1 0h7m1 0h3m2 0h4m1 0h1m1 0h2m1 0h2m1 0h1m4 0h5m1 0h4m2 0h4m1 0h1m2 0h3m2 0h1m6 0h2m1 0h1m3 0h1m1 0h2m18 0h1m3 0h1m5 0h1m2 0h7m2 0h1m1 0h2m1 0h1m3 0h1m2 0h3m3 0h7m1 0h9m1 0h4m1 0h5m1 0h6m1 0h2m2 0h6m1 0h1m1 0h5m4 0h2m2 0h1m1 0h3m5 0h1m3 0h1m1 0h2m4 0h1m10 0h1m8 0h1m7 0h1m2 0h1m1 0h3m2 0h2m3 0h2m1 0h1m1 0h11m1 0h3m3 0h2m1 0h8m1 0h7m1 0h3m1 0h9m2 0h6m4 0h1m1 0h7m1 0h3m1 0h1m4 0h3m3 0h2m7 0h1m1 0h1m4 0h1m4 0h1m19 0h2m1 0h1m2 0h1m1 0h2m3 0h8m1 0h10m2 0h3m1 0h2m1 0h1m1 0h1m1 0h8m1 0h2m2 0h8m1 0h2m1 0h3m1 0h1m1 0h3m1 0h3m1 0h3m2 0h1m2 0h1m51 0h1m7 0h2m1 0h4m4 0h7m2 0h18m1 0h1m1 0h3m2 0h5m1 0h1m1 0h4m2 0h1m2 0h6m2 0h3m4 0h5m1 0h2m1 0h3m2 0h1m4 0h5m14 0h1m5 0h1m4 0h1m3 0h2m2 0h1m1 0h4m3 0h2m1 0h1m1 0h4m1 0h3m1 0h3m1 0h5m1 0h6m1 0h2m1 0h4m2 0h4m1 0h6m1 0h3m2 0h9m1 0h1m1 0h1m1 0h2m2 0h4m1 0h1m4 0h5m5 0h1m11 0h1m41 0h1m6 0h2m2 0h3m2 0h3m1 0h5m3 0h3m2 0h3m5 0h4m1 0h2m2 0h1m4 0h1m1 0h5m-1896 1h1m2 0h2m8 0h1m3 0h2m5 0h1m9 0h1m9 0h1m7 0h1m14 0h1m29 0h1m7 0h1m1 0h1m1 0h1m8 0h1m1 0h2m1 0h1m2 0h1m2 0h2m1 0h1m4 0h7m7 0h1m3 0h1m2 0h2m4 0h1m2 0h2m2 0h1m6 0h2m17 0h1m9 0h1m37 0h1m1 0h1m1 0h1m1 0h1m3 0h1m4 0h2m1 0h1m2 0h4m4 0h3m1 0h3m1 0h1m1 0h1m1 0h1m1 0h3m2 0h1m1 0h4m1 0h3m1 0h1m1 0h1m3 0h5m2 0h1m1 0h1m3 0h1m3 0h2m2 0h1m2 0h3m1 0h5m1 0h1m2 0h2m9 0h1m13 0h2m43 0h1m3 0h1m4 0h1m1 0h2m2 0h1m1 0h1m1 0h1m3 0h7m2 0h5m1 0h1m1 0h4m2 0h1m3 0h4m3 0h1m1 0h1m1 0h1m4 0h1m1 0h2m1 0h5m5 0h1m2 0h1m3 0h2m2 0h1m49 0h1m2 0h1m7 0h1m3 0h5m2 0h2m2 0h1m1 0h1m1 0h12m1 0h3m5 0h3m1 0h2m1 0h5m1 0h3m2 0h1m3 0h5m22 0h1m22 0h1m15 0h3m1 0h1m4 0h2m3 0h5m1 0h2m2 0h9m1 0h6m3 0h2m1 0h3m1 0h7m1 0h3m10 0h1m1 0h1m1 0h1m1 0h1m1 0h1m4 0h1m2 0h1m2 0h1m1 0h1m3 0h2m3 0h1m12 0h2m6 0h1m11 0h1m3 0h1m1 0h1m2 0h2m2 0h2m2 0h2m2 0h1m1 0h14m1 0h7m1 0h3m1 0h4m2 0h1m1 0h4m1 0h1m1 0h3m7 0h1m1 0h3m1 0h2m1 0h1m2 0h2m2 0h1m1 0h2m4 0h1m2 0h1m28 0h1m5 0h1m3 0h1m2 0h1m2 0h1m2 0h7m2 0h2m3 0h8m1 0h2m5 0h2m2 0h1m2 0h1m1 0h1m2 0h6m2 0h4m3 0h1m1 0h1m1 0h1m1 0h2m1 0h3m3 0h1m4 0h3m36 0h1m2 0h1m1 0h2m1 0h1m1 0h1m1 0h2m2 0h6m1 0h2m2 0h3m1 0h6m1 0h1m1 0h6m1 0h3m4 0h1m2 0h3m2 0h2m2 0h2m1 0h2m1 0h1m1 0h1m1 0h4m1 0h1m5 0h1m4 0h1m2 0h2m3 0h1m41 0h1m3 0h1m4 0h2m10 0h1m5 0h1m1 0h1m1 0h1m1 0h2m2 0h3m5 0h6m1 0h3m3 0h1m4 0h1m2 0h13m1 0h3m1 0h4m3 0h1m1 0h3m2 0h1m1 0h1m6 0h1m1 0h1m6 0h2m31 0h2m7 0h1m10 0h1m5 0h1m4 0h1m3 0h10m3 0h1m2 0h13m2 0h1m1 0h2m1 0h2m1 0h1m1 0h1m3 0h2m1 0h1m5 0h3m1 0h1m4 0h1m53 0h2m11 0h2m1 0h3m1 0h2m1 0h2m1 0h1m1 0h7m2 0h2m1 0h1m3 0h1m1 0h1m2 0h2m1 0h2m3 0h2m1 0h1m6 0h1m1 0h3m2 0h2m2 0h1m2 0h1m4 0h1m5 0h1m13 0h2m16 0h1m4 0h1m3 0h2m1 0h4m4 0h3m1 0h2m1 0h1m1 0h5m2 0h3m1 0h1m1 0h4m1 0h2m3 0h1m1 0h2m2 0h2m3 0h2m1 0h7m1 0h1m1 0h1m2 0h5m2 0h1m1 0h1m1 0h2m1 0h4m2 0h1m2 0h1m2 0h2m1 0h1m4 0h2m53 0h1m12 0h1m2 0h1m3 0h1m1 0h1m12 0h2m1 0h1m2 0h2m2 0h2m2 0h1m1 0h1m2 0h3m1 0h5m1 0h5m-1891 1h1m7 0h1m1 0h1m4 0h1m2 0h1m5 0h1m7 0h1m49 0h1m19 0h2m1 0h1m1 0h1m2 0h4m1 0h1m2 0h1m5 0h1m2 0h2m2 0h1m3 0h5m1 0h1m2 0h1m4 0h3m2 0h1m1 0h1m2 0h4m4 0h2m1 0h1m6 0h1m3 0h1m1 0h2m5 0h1m2 0h2m8 0h1m32 0h2m2 0h2m6 0h1m1 0h2m1 0h2m1 0h3m1 0h3m2 0h3m1 0h1m1 0h1m1 0h3m1 0h4m3 0h2m1 0h1m1 0h2m1 0h4m1 0h3m1 0h6m1 0h4m2 0h2m3 0h1m1 0h1m3 0h2m1 0h2m1 0h1m4 0h1m3 0h2m3 0h1m3 0h1m2 0h2m1 0h1m45 0h1m1 0h4m7 0h1m2 0h4m5 0h7m1 0h3m1 0h6m1 0h4m1 0h5m1 0h5m2 0h1m2 0h1m1 0h6m3 0h1m1 0h2m1 0h2m2 0h1m14 0h1m3 0h2m1 0h1m41 0h1m1 0h1m1 0h2m3 0h3m1 0h2m1 0h4m2 0h13m2 0h1m1 0h1m1 0h1m1 0h2m1 0h1m2 0h6m1 0h1m3 0h1m1 0h5m1 0h1m7 0h3m1 0h1m4 0h2m12 0h1m30 0h2m2 0h1m2 0h2m3 0h3m4 0h2m2 0h1m2 0h1m3 0h4m1 0h7m1 0h2m1 0h1m1 0h8m1 0h1m1 0h1m2 0h3m1 0h4m2 0h1m3 0h1m2 0h1m4 0h1m6 0h1m5 0h1m40 0h1m3 0h1m2 0h1m3 0h1m2 0h1m2 0h1m1 0h1m1 0h4m3 0h1m3 0h5m1 0h10m1 0h2m1 0h2m1 0h3m2 0h2m1 0h4m3 0h1m1 0h5m1 0h2m1 0h1m1 0h4m2 0h1m1 0h1m18 0h1m1 0h1m23 0h2m1 0h1m1 0h2m6 0h1m1 0h6m1 0h4m2 0h8m1 0h1m3 0h3m4 0h7m2 0h4m1 0h1m1 0h4m3 0h5m1 0h1m1 0h4m7 0h2m1 0h1m3 0h1m10 0h1m20 0h1m5 0h1m3 0h1m2 0h3m4 0h1m2 0h1m2 0h14m1 0h2m3 0h2m1 0h2m1 0h4m1 0h3m1 0h1m1 0h5m1 0h1m2 0h2m2 0h2m1 0h3m1 0h6m2 0h1m3 0h2m2 0h2m3 0h1m6 0h1m3 0h1m28 0h1m18 0h1m4 0h1m2 0h2m4 0h3m1 0h2m2 0h2m4 0h2m1 0h1m1 0h10m3 0h3m2 0h2m5 0h1m3 0h2m5 0h4m1 0h1m6 0h1m1 0h1m20 0h1m1 0h1m31 0h1m2 0h1m6 0h1m8 0h2m1 0h1m2 0h1m2 0h2m1 0h24m1 0h7m1 0h2m2 0h4m5 0h1m4 0h1m1 0h2m1 0h1m5 0h4m48 0h2m1 0h1m1 0h2m5 0h2m2 0h1m2 0h1m1 0h4m2 0h5m1 0h1m1 0h4m3 0h3m2 0h1m1 0h1m2 0h2m5 0h1m2 0h2m4 0h1m9 0h1m49 0h1m5 0h1m6 0h1m2 0h1m2 0h1m1 0h1m2 0h1m3 0h1m1 0h1m2 0h3m2 0h2m2 0h2m1 0h4m2 0h6m1 0h8m1 0h2m1 0h2m1 0h1m1 0h6m3 0h3m1 0h4m2 0h1m2 0h1m1 0h1m2 0h3m1 0h3m1 0h1m2 0h3m9 0h1m2 0h1m51 0h1m13 0h1m1 0h1m3 0h3m1 0h2m1 0h3m1 0h1m2 0h4m1 0h2m2 0h1m2 0h3m-1901 1h2m4 0h2m1 0h4m3 0h1m1 0h1m4 0h1m1 0h1m1 0h1m1 0h1m3 0h1m6 0h1m6 0h1m1 0h2m10 0h1m38 0h1m7 0h4m2 0h1m1 0h6m1 0h5m4 0h1m2 0h1m1 0h1m1 0h3m1 0h1m3 0h1m2 0h1m2 0h1m3 0h2m1 0h2m2 0h5m2 0h1m1 0h1m4 0h1m1 0h1m1 0h1m2 0h1m1 0h2m5 0h2m6 0h2m2 0h1m4 0h1m3 0h1m19 0h2m9 0h1m1 0h8m4 0h4m1 0h1m1 0h1m2 0h3m2 0h3m1 0h4m2 0h4m1 0h9m1 0h5m2 0h5m4 0h3m1 0h3m1 0h3m1 0h1m5 0h2m2 0h3m2 0h1m3 0h2m1 0h1m1 0h1m2 0h2m3 0h1m2 0h1m2 0h1m25 0h1m13 0h1m2 0h2m2 0h2m2 0h3m2 0h4m1 0h1m1 0h2m1 0h8m1 0h9m1 0h2m1 0h5m1 0h18m1 0h3m3 0h5m1 0h2m4 0h1m2 0h1m7 0h1m2 0h1m3 0h1m2 0h1m2 0h1m26 0h1m1 0h1m1 0h3m7 0h1m5 0h4m2 0h2m2 0h3m1 0h2m1 0h2m2 0h3m1 0h1m4 0h2m1 0h2m1 0h1m1 0h4m4 0h3m1 0h4m1 0h4m1 0h8m1 0h4m3 0h1m2 0h2m3 0h1m2 0h1m4 0h2m27 0h1m1 0h1m1 0h1m1 0h1m1 0h1m2 0h2m2 0h2m1 0h6m1 0h2m2 0h1m1 0h10m3 0h5m2 0h1m1 0h4m3 0h5m1 0h9m1 0h2m1 0h3m2 0h2m3 0h1m2 0h1m5 0h2m6 0h1m9 0h2m16 0h1m10 0h1m3 0h2m1 0h4m2 0h9m1 0h1m2 0h2m2 0h1m1 0h14m2 0h9m1 0h1m2 0h3m1 0h5m1 0h1m4 0h2m1 0h1m4 0h2m5 0h2m4 0h1m1 0h2m3 0h1m24 0h1m7 0h2m5 0h2m1 0h6m1 0h10m1 0h1m1 0h2m2 0h12m2 0h1m5 0h5m1 0h8m1 0h6m1 0h7m2 0h1m8 0h1m3 0h1m26 0h1m4 0h1m5 0h3m2 0h1m1 0h4m1 0h3m2 0h9m4 0h2m1 0h3m1 0h3m1 0h1m1 0h1m3 0h2m1 0h3m2 0h1m1 0h2m2 0h1m1 0h9m1 0h1m1 0h1m1 0h1m1 0h3m1 0h1m2 0h1m2 0h5m2 0h1m3 0h3m6 0h1m35 0h2m1 0h1m4 0h1m1 0h1m3 0h1m2 0h2m1 0h1m1 0h5m2 0h1m1 0h5m1 0h4m1 0h2m2 0h3m1 0h1m1 0h1m1 0h8m1 0h3m1 0h6m1 0h1m1 0h3m3 0h2m2 0h1m3 0h5m3 0h1m1 0h2m5 0h1m2 0h1m38 0h6m1 0h1m1 0h1m3 0h12m1 0h2m1 0h3m1 0h3m1 0h4m1 0h5m1 0h2m2 0h1m1 0h2m2 0h4m1 0h1m2 0h8m1 0h1m7 0h2m2 0h2m1 0h1m8 0h1m1 0h1m31 0h1m4 0h1m1 0h11m1 0h1m2 0h8m1 0h11m3 0h3m1 0h3m3 0h5m1 0h8m1 0h1m1 0h1m1 0h3m1 0h1m2 0h1m3 0h1m2 0h1m1 0h1m4 0h1m1 0h1m32 0h1m9 0h1m2 0h1m3 0h1m2 0h1m1 0h1m3 0h2m1 0h3m1 0h15m1 0h7m4 0h2m1 0h3m2 0h3m1 0h2m1 0h2m1 0h2m2 0h1m3 0h1m2 0h3m1 0h3m1 0h1m6 0h1m1 0h1m5 0h4m2 0h5m2 0h2m5 0h1m53 0h4m3 0h1m3 0h1m1 0h3m2 0h1m3 0h2m2 0h3m2 0h4m1 0h2m1 0h5m1 0h1m2 0h1m2 0h3m-1906 1h1m1 0h2m4 0h3m1 0h2m9 0h1m6 0h3m1 0h3m20 0h1m5 0h2m24 0h1m13 0h1m1 0h1m3 0h2m2 0h1m1 0h1m2 0h2m1 0h3m1 0h2m3 0h4m1 0h1m1 0h1m5 0h1m1 0h1m2 0h1m1 0h1m2 0h2m4 0h5m2 0h2m2 0h5m2 0h4m2 0h1m8 0h3m1 0h2m2 0h3m1 0h2m1 0h1m4 0h1m15 0h1m7 0h3m6 0h3m1 0h4m2 0h2m1 0h2m1 0h2m2 0h1m1 0h10m1 0h1m2 0h1m2 0h2m2 0h1m3 0h2m5 0h3m1 0h1m1 0h1m2 0h3m1 0h12m1 0h1m1 0h4m2 0h2m2 0h1m1 0h3m2 0h2m1 0h1m4 0h2m5 0h1m4 0h2m26 0h1m3 0h1m9 0h1m6 0h3m1 0h1m1 0h7m1 0h3m2 0h2m4 0h2m1 0h2m1 0h4m2 0h5m1 0h1m1 0h2m2 0h1m1 0h3m1 0h16m1 0h3m2 0h1m2 0h1m1 0h1m3 0h6m6 0h1m1 0h3m42 0h6m2 0h2m1 0h1m3 0h3m4 0h2m1 0h8m1 0h1m2 0h3m3 0h1m1 0h1m2 0h2m1 0h1m2 0h2m1 0h1m2 0h1m2 0h2m4 0h1m1 0h1m3 0h2m1 0h6m2 0h4m4 0h2m3 0h3m7 0h1m17 0h1m4 0h4m2 0h5m1 0h2m2 0h3m1 0h1m6 0h7m1 0h3m1 0h1m2 0h1m1 0h5m3 0h4m1 0h1m1 0h8m1 0h6m1 0h3m1 0h1m1 0h3m2 0h1m3 0h1m1 0h1m5 0h1m26 0h1m11 0h3m3 0h1m1 0h7m2 0h2m1 0h2m3 0h1m2 0h1m2 0h8m1 0h3m2 0h1m2 0h3m2 0h2m1 0h1m2 0h4m1 0h3m1 0h1m2 0h4m1 0h2m1 0h4m1 0h1m1 0h2m2 0h4m1 0h3m5 0h5m3 0h2m24 0h1m1 0h1m3 0h1m2 0h1m1 0h2m1 0h4m1 0h3m3 0h4m1 0h1m3 0h1m1 0h5m1 0h3m1 0h1m1 0h7m1 0h9m3 0h7m1 0h5m1 0h10m1 0h1m3 0h2m6 0h1m2 0h1m1 0h2m1 0h2m3 0h1m20 0h1m5 0h8m2 0h1m1 0h2m1 0h1m1 0h2m1 0h2m6 0h1m1 0h1m2 0h9m1 0h4m1 0h1m2 0h1m1 0h4m2 0h1m2 0h4m3 0h1m3 0h1m1 0h2m2 0h1m3 0h1m2 0h2m2 0h2m1 0h1m2 0h1m1 0h2m2 0h1m4 0h1m22 0h2m4 0h1m7 0h1m1 0h1m3 0h4m1 0h5m1 0h3m1 0h2m1 0h1m1 0h1m1 0h2m1 0h2m1 0h4m1 0h2m1 0h2m3 0h4m1 0h5m1 0h7m1 0h5m2 0h1m1 0h1m1 0h6m1 0h2m2 0h4m1 0h1m1 0h1m3 0h9m2 0h1m15 0h1m13 0h1m4 0h1m2 0h1m9 0h7m3 0h4m1 0h7m1 0h3m1 0h1m1 0h6m3 0h2m4 0h4m2 0h1m1 0h2m1 0h1m1 0h1m1 0h6m6 0h1m2 0h1m3 0h7m4 0h1m3 0h1m31 0h1m2 0h1m1 0h1m1 0h5m1 0h4m2 0h10m2 0h1m2 0h1m6 0h5m1 0h3m1 0h6m1 0h1m2 0h3m1 0h12m1 0h1m6 0h3m4 0h2m6 0h1m39 0h1m2 0h1m1 0h1m2 0h6m2 0h1m2 0h3m1 0h11m1 0h1m2 0h2m1 0h1m1 0h1m2 0h1m1 0h1m1 0h1m3 0h1m4 0h9m2 0h3m6 0h2m1 0h1m2 0h1m1 0h1m4 0h6m1 0h6m1 0h3m2 0h2m4 0h1m4 0h1m45 0h1m18 0h1m3 0h4m3 0h3m3 0h3m2 0h3m1 0h4m2 0h2m3 0h8m-1907 1h1m1 0h1m1 0h6m6 0h1m1 0h2m1 0h1m1 0h1m4 0h2m4 0h1m1 0h3m10 0h1m2 0h1m39 0h1m4 0h1m1 0h1m2 0h6m3 0h3m2 0h2m2 0h1m1 0h1m1 0h1m1 0h1m4 0h1m3 0h2m3 0h2m7 0h2m4 0h2m9 0h3m1 0h2m1 0h2m1 0h1m2 0h3m1 0h2m1 0h3m1 0h1m3 0h1m3 0h1m4 0h2m4 0h1m10 0h1m12 0h2m3 0h2m4 0h3m1 0h2m1 0h1m2 0h2m2 0h4m2 0h3m2 0h2m8 0h1m1 0h1m5 0h1m5 0h4m5 0h2m1 0h1m1 0h8m1 0h9m1 0h2m2 0h8m1 0h2m6 0h1m2 0h1m2 0h1m4 0h1m1 0h2m3 0h1m2 0h1m32 0h1m1 0h1m2 0h5m1 0h5m1 0h9m3 0h1m1 0h1m4 0h1m2 0h1m3 0h2m2 0h2m1 0h4m6 0h2m2 0h1m1 0h8m1 0h5m1 0h1m4 0h3m2 0h1m1 0h2m1 0h6m2 0h3m2 0h1m2 0h1m22 0h1m4 0h1m9 0h6m1 0h12m2 0h1m5 0h1m3 0h2m2 0h1m1 0h2m4 0h3m2 0h1m3 0h1m1 0h2m2 0h1m2 0h2m1 0h3m1 0h9m3 0h1m1 0h1m4 0h1m7 0h2m2 0h2m4 0h1m10 0h1m6 0h2m3 0h2m2 0h2m1 0h1m1 0h2m2 0h3m1 0h2m3 0h2m2 0h2m6 0h1m1 0h2m3 0h2m1 0h1m2 0h1m2 0h3m1 0h3m2 0h3m1 0h4m1 0h5m1 0h2m1 0h7m1 0h5m6 0h1m6 0h1m36 0h2m4 0h6m1 0h3m1 0h3m2 0h4m1 0h2m2 0h1m1 0h2m1 0h1m2 0h2m3 0h1m3 0h1m1 0h5m2 0h2m7 0h1m5 0h3m1 0h1m1 0h7m1 0h1m4 0h1m2 0h2m1 0h5m1 0h1m3 0h2m11 0h1m9 0h1m6 0h2m3 0h4m1 0h2m1 0h1m1 0h4m7 0h4m1 0h2m2 0h1m2 0h4m1 0h1m5 0h1m2 0h2m1 0h1m6 0h2m2 0h7m2 0h2m1 0h14m1 0h1m2 0h3m1 0h1m1 0h1m3 0h1m1 0h2m1 0h1m2 0h1m4 0h1m15 0h1m1 0h5m1 0h6m2 0h5m1 0h2m1 0h1m3 0h8m1 0h5m2 0h1m2 0h1m2 0h1m1 0h3m1 0h2m1 0h1m1 0h2m1 0h4m1 0h1m1 0h1m1 0h3m2 0h1m2 0h2m2 0h7m1 0h1m1 0h1m2 0h3m1 0h2m2 0h3m2 0h1m5 0h1m2 0h1m25 0h2m6 0h2m1 0h1m1 0h1m1 0h2m1 0h2m2 0h3m1 0h2m1 0h2m1 0h1m1 0h4m1 0h1m6 0h5m1 0h1m5 0h1m2 0h4m1 0h4m1 0h2m1 0h1m1 0h6m1 0h2m1 0h3m1 0h2m3 0h4m2 0h1m1 0h1m2 0h6m3 0h1m6 0h1m2 0h1m1 0h1m2 0h2m2 0h1m10 0h1m4 0h1m3 0h1m6 0h6m3 0h7m4 0h1m1 0h4m1 0h2m3 0h1m5 0h2m2 0h5m1 0h1m2 0h2m2 0h4m3 0h3m1 0h1m1 0h3m2 0h3m1 0h2m4 0h4m1 0h1m1 0h2m1 0h1m2 0h4m21 0h1m2 0h1m1 0h1m2 0h1m3 0h1m1 0h6m5 0h1m1 0h1m1 0h1m3 0h11m1 0h7m2 0h2m1 0h6m1 0h4m4 0h2m1 0h1m1 0h1m1 0h5m3 0h5m9 0h1m3 0h1m2 0h2m5 0h1m10 0h1m6 0h1m8 0h1m5 0h2m1 0h1m3 0h2m1 0h6m1 0h1m1 0h5m1 0h2m2 0h6m1 0h1m2 0h1m3 0h1m1 0h2m1 0h3m3 0h1m2 0h1m2 0h2m1 0h6m3 0h3m6 0h3m3 0h1m1 0h1m1 0h1m2 0h1m2 0h6m1 0h2m1 0h7m1 0h1m8 0h2m3 0h1m31 0h1m9 0h1m3 0h1m2 0h3m1 0h2m2 0h2m3 0h1m1 0h1m4 0h2m1 0h1m1 0h1m1 0h1m8 0h1m1 0h1m1 0h1m1 0h2m3 0h2m1 0h1m2 0h1m1 0h6m-1907 1h3m2 0h2m1 0h5m1 0h2m2 0h4m2 0h3m1 0h1m3 0h5m19 0h1m24 0h1m5 0h1m1 0h1m1 0h1m5 0h1m1 0h2m1 0h2m1 0h1m2 0h2m1 0h3m1 0h2m1 0h4m2 0h1m1 0h1m1 0h1m11 0h1m1 0h1m4 0h1m1 0h1m4 0h7m1 0h1m2 0h4m1 0h3m2 0h2m10 0h1m3 0h2m23 0h1m1 0h1m5 0h3m2 0h7m4 0h10m2 0h1m1 0h2m3 0h2m1 0h2m5 0h1m1 0h1m4 0h1m3 0h1m3 0h1m3 0h6m2 0h1m1 0h2m1 0h2m1 0h4m2 0h5m2 0h1m2 0h2m1 0h1m2 0h2m4 0h2m1 0h3m2 0h2m3 0h1m4 0h2m1 0h2m6 0h1m3 0h1m14 0h1m4 0h2m5 0h3m2 0h1m1 0h1m1 0h6m1 0h2m2 0h2m1 0h2m2 0h6m1 0h1m1 0h2m1 0h2m2 0h8m1 0h3m1 0h1m1 0h6m1 0h2m1 0h6m1 0h1m3 0h4m1 0h4m2 0h1m1 0h3m1 0h2m7 0h1m38 0h1m8 0h1m1 0h1m1 0h3m1 0h5m1 0h4m1 0h3m3 0h3m1 0h1m3 0h2m2 0h3m3 0h2m1 0h3m7 0h4m2 0h1m1 0h1m2 0h9m1 0h2m2 0h1m1 0h1m4 0h2m4 0h2m36 0h4m1 0h1m1 0h3m1 0h1m1 0h10m5 0h3m4 0h1m1 0h2m1 0h2m1 0h1m2 0h3m1 0h2m2 0h1m1 0h2m2 0h4m1 0h4m1 0h8m1 0h1m1 0h3m1 0h3m1 0h1m2 0h2m1 0h1m6 0h1m14 0h1m7 0h1m12 0h1m6 0h2m1 0h6m1 0h1m2 0h1m1 0h5m1 0h2m3 0h1m1 0h1m5 0h1m1 0h1m1 0h1m2 0h3m1 0h2m1 0h1m2 0h3m1 0h3m5 0h4m1 0h1m1 0h1m1 0h2m1 0h2m2 0h1m2 0h7m1 0h1m1 0h1m1 0h1m1 0h2m1 0h1m2 0h2m6 0h1m7 0h4m9 0h1m2 0h2m5 0h6m1 0h5m1 0h2m3 0h3m4 0h1m7 0h1m2 0h2m6 0h1m2 0h4m3 0h1m2 0h1m5 0h1m1 0h1m2 0h3m3 0h4m3 0h4m1 0h6m1 0h1m1 0h1m1 0h3m6 0h1m1 0h1m1 0h2m18 0h1m2 0h3m2 0h5m1 0h1m4 0h1m2 0h1m1 0h1m1 0h3m2 0h1m3 0h1m10 0h1m2 0h1m1 0h1m1 0h4m3 0h4m1 0h1m1 0h1m2 0h2m2 0h1m2 0h1m1 0h4m1 0h1m1 0h1m1 0h4m1 0h2m2 0h2m2 0h1m1 0h1m4 0h1m2 0h1m1 0h3m5 0h1m9 0h2m7 0h1m10 0h3m2 0h7m1 0h3m1 0h1m3 0h1m1 0h3m2 0h2m1 0h2m1 0h4m1 0h1m1 0h1m5 0h2m1 0h1m1 0h2m7 0h8m1 0h4m1 0h16m4 0h1m1 0h2m2 0h5m4 0h1m5 0h1m5 0h1m17 0h3m2 0h5m3 0h4m1 0h5m1 0h1m2 0h3m2 0h1m13 0h2m1 0h1m5 0h1m1 0h4m1 0h1m3 0h6m5 0h1m2 0h1m1 0h4m2 0h2m1 0h9m1 0h1m34 0h1m1 0h1m4 0h2m2 0h1m1 0h5m1 0h2m1 0h5m2 0h1m2 0h1m1 0h4m2 0h1m1 0h3m1 0h1m1 0h3m3 0h2m1 0h1m2 0h1m2 0h3m1 0h1m2 0h2m1 0h2m2 0h1m1 0h4m3 0h8m1 0h1m1 0h3m2 0h1m4 0h1m4 0h1m12 0h1m12 0h1m3 0h1m3 0h5m3 0h3m2 0h1m1 0h4m2 0h4m2 0h1m3 0h1m4 0h3m1 0h1m2 0h3m4 0h2m1 0h1m2 0h3m5 0h1m2 0h1m1 0h1m3 0h3m2 0h4m1 0h5m1 0h3m1 0h6m2 0h5m1 0h1m7 0h1m1 0h2m6 0h1m37 0h1m1 0h1m6 0h6m4 0h1m2 0h3m1 0h1m2 0h1m1 0h1m2 0h1m6 0h4m1 0h2m2 0h1m2 0h1m1 0h2m1 0h3m3 0h3m3 0h2m1 0h2m-1901 1h1m4 0h1m1 0h3m3 0h1m2 0h3m1 0h1m4 0h1m2 0h1m1 0h1m5 0h1m9 0h1m2 0h1m21 0h2m4 0h1m1 0h1m1 0h1m3 0h1m1 0h3m2 0h2m2 0h1m2 0h1m2 0h1m5 0h1m2 0h3m3 0h1m2 0h2m3 0h2m2 0h1m3 0h1m1 0h3m1 0h1m1 0h4m2 0h1m3 0h1m1 0h2m3 0h1m7 0h1m3 0h1m2 0h1m2 0h2m5 0h1m2 0h1m22 0h2m1 0h1m5 0h5m1 0h2m2 0h2m3 0h2m1 0h5m3 0h1m3 0h1m1 0h1m1 0h1m1 0h1m1 0h2m5 0h1m1 0h2m1 0h1m6 0h1m2 0h1m1 0h1m2 0h3m1 0h1m8 0h2m1 0h1m1 0h1m2 0h4m1 0h5m1 0h2m2 0h2m1 0h1m2 0h2m4 0h1m1 0h1m3 0h1m1 0h2m9 0h1m8 0h1m1 0h1m15 0h2m2 0h1m4 0h1m1 0h1m1 0h7m1 0h1m3 0h1m1 0h1m1 0h3m3 0h2m1 0h3m4 0h1m2 0h3m1 0h1m2 0h3m1 0h1m1 0h1m2 0h2m2 0h2m1 0h4m1 0h1m5 0h12m1 0h3m1 0h1m1 0h1m5 0h1m1 0h1m3 0h1m38 0h1m2 0h2m1 0h1m3 0h3m1 0h1m2 0h1m1 0h5m1 0h5m1 0h1m3 0h2m5 0h2m2 0h2m2 0h1m3 0h8m3 0h4m1 0h1m1 0h1m4 0h12m1 0h1m1 0h2m2 0h2m2 0h1m2 0h2m2 0h2m26 0h1m4 0h3m1 0h3m1 0h3m1 0h5m1 0h2m1 0h5m4 0h6m6 0h1m1 0h2m3 0h7m2 0h5m1 0h2m1 0h19m8 0h1m3 0h1m1 0h3m27 0h1m2 0h1m2 0h2m3 0h1m1 0h1m1 0h4m1 0h9m1 0h1m2 0h2m1 0h4m2 0h2m4 0h3m1 0h2m2 0h2m7 0h2m2 0h1m1 0h3m4 0h1m4 0h8m1 0h1m1 0h4m1 0h17m8 0h2m12 0h1m15 0h2m2 0h3m1 0h7m1 0h2m2 0h1m2 0h1m3 0h2m1 0h1m4 0h1m2 0h1m1 0h4m2 0h3m1 0h1m1 0h4m1 0h1m3 0h1m2 0h1m1 0h4m3 0h4m1 0h12m1 0h1m1 0h3m9 0h1m9 0h1m4 0h3m3 0h1m1 0h1m4 0h1m1 0h1m1 0h5m3 0h1m2 0h2m6 0h2m1 0h1m2 0h1m4 0h1m1 0h1m1 0h1m4 0h2m7 0h1m1 0h1m1 0h2m1 0h1m4 0h9m2 0h2m5 0h1m1 0h2m2 0h7m1 0h1m4 0h1m1 0h3m1 0h4m1 0h1m5 0h1m19 0h1m1 0h1m10 0h1m2 0h2m1 0h8m1 0h1m2 0h2m4 0h2m2 0h5m2 0h1m1 0h1m2 0h3m6 0h1m1 0h7m1 0h3m5 0h2m1 0h1m1 0h1m2 0h5m2 0h4m1 0h1m1 0h1m1 0h4m1 0h1m5 0h1m4 0h1m15 0h1m7 0h1m1 0h1m4 0h1m1 0h9m1 0h3m4 0h1m1 0h2m2 0h2m3 0h1m2 0h4m1 0h1m2 0h2m5 0h3m2 0h1m1 0h1m1 0h2m3 0h2m8 0h11m1 0h1m1 0h6m5 0h1m1 0h1m1 0h3m1 0h4m4 0h1m21 0h1m6 0h6m1 0h2m3 0h3m1 0h6m3 0h2m5 0h1m1 0h2m1 0h1m3 0h2m1 0h3m2 0h3m1 0h1m3 0h1m2 0h1m6 0h1m2 0h1m5 0h1m2 0h1m1 0h2m1 0h8m1 0h1m1 0h1m7 0h1m31 0h2m1 0h1m2 0h6m1 0h1m1 0h3m1 0h1m3 0h1m1 0h3m1 0h1m3 0h1m8 0h1m6 0h1m2 0h2m1 0h3m1 0h1m2 0h2m4 0h2m10 0h2m3 0h5m2 0h1m1 0h2m3 0h1m1 0h9m2 0h4m6 0h1m2 0h1m5 0h1m35 0h1m5 0h5m1 0h1m1 0h2m1 0h5m2 0h1m6 0h1m1 0h1m2 0h1m1 0h2m1 0h1m4 0h1m1 0h1m1 0h1m2 0h2m7 0h1m1 0h1m1 0h2m1 0h2m2 0h1m3 0h2m1 0h1m-1903 1h2m1 0h5m1 0h2m1 0h1m3 0h1m1 0h1m1 0h2m1 0h2m4 0h1m7 0h2m33 0h1m5 0h2m2 0h2m1 0h4m6 0h3m4 0h1m2 0h1m8 0h1m6 0h1m2 0h1m1 0h1m1 0h1m5 0h6m4 0h1m2 0h3m1 0h1m2 0h2m1 0h1m5 0h3m41 0h1m2 0h3m1 0h1m2 0h6m1 0h2m1 0h2m1 0h3m2 0h3m6 0h3m1 0h1m1 0h3m5 0h1m1 0h1m7 0h1m2 0h3m3 0h2m2 0h1m1 0h2m2 0h1m5 0h1m2 0h4m2 0h6m1 0h12m2 0h3m4 0h2m3 0h1m1 0h1m2 0h1m8 0h1m9 0h1m17 0h2m1 0h1m3 0h3m2 0h2m1 0h1m4 0h2m1 0h7m1 0h1m1 0h4m2 0h2m3 0h3m4 0h3m4 0h2m3 0h3m1 0h1m1 0h1m1 0h3m2 0h9m1 0h4m1 0h3m4 0h1m6 0h1m3 0h1m1 0h2m1 0h1m4 0h2m35 0h1m1 0h3m1 0h10m1 0h2m1 0h3m1 0h1m1 0h1m2 0h1m2 0h1m2 0h1m7 0h1m1 0h1m3 0h1m1 0h2m4 0h1m2 0h2m2 0h2m1 0h3m1 0h2m1 0h3m2 0h10m1 0h3m3 0h1m18 0h2m12 0h1m2 0h1m1 0h3m3 0h14m1 0h1m1 0h4m1 0h3m3 0h2m2 0h2m4 0h3m1 0h1m1 0h3m1 0h1m2 0h4m3 0h1m1 0h2m1 0h3m2 0h2m1 0h3m2 0h1m3 0h4m2 0h2m9 0h1m32 0h2m3 0h1m1 0h1m2 0h3m1 0h2m2 0h2m1 0h2m5 0h1m1 0h1m1 0h1m1 0h1m6 0h2m5 0h2m2 0h1m2 0h1m1 0h2m3 0h1m3 0h2m2 0h1m1 0h1m1 0h4m1 0h7m1 0h2m2 0h7m3 0h1m5 0h1m3 0h3m2 0h2m5 0h2m18 0h1m1 0h1m3 0h8m1 0h2m4 0h3m3 0h1m3 0h2m2 0h2m1 0h1m1 0h1m4 0h1m1 0h1m7 0h1m3 0h2m2 0h2m2 0h1m3 0h1m1 0h3m3 0h9m3 0h3m5 0h1m3 0h1m6 0h1m19 0h2m2 0h2m1 0h3m1 0h4m1 0h2m1 0h1m1 0h2m2 0h1m4 0h1m5 0h1m1 0h1m1 0h3m2 0h1m2 0h1m2 0h1m8 0h1m4 0h3m1 0h1m4 0h1m2 0h2m1 0h2m3 0h1m1 0h2m1 0h4m2 0h10m3 0h1m1 0h1m2 0h2m1 0h2m1 0h1m24 0h1m12 0h2m2 0h7m1 0h3m1 0h1m1 0h1m3 0h1m3 0h1m1 0h2m2 0h1m1 0h1m3 0h1m4 0h1m1 0h3m11 0h2m1 0h1m2 0h3m1 0h1m1 0h13m1 0h1m2 0h3m1 0h1m3 0h2m7 0h1m1 0h1m1 0h1m1 0h1m1 0h1m23 0h19m2 0h2m3 0h2m3 0h1m5 0h2m2 0h2m1 0h1m9 0h1m2 0h1m1 0h2m1 0h3m1 0h1m5 0h2m1 0h1m5 0h12m1 0h5m4 0h4m7 0h1m34 0h1m1 0h4m1 0h4m1 0h3m3 0h1m1 0h1m4 0h1m1 0h2m1 0h1m1 0h1m1 0h1m4 0h1m1 0h3m1 0h2m1 0h2m2 0h2m4 0h5m1 0h3m3 0h5m1 0h1m1 0h4m1 0h1m1 0h1m1 0h1m5 0h1m7 0h1m1 0h1m20 0h1m5 0h2m2 0h1m2 0h4m1 0h4m2 0h2m1 0h1m3 0h1m2 0h3m3 0h1m1 0h1m1 0h4m1 0h1m1 0h2m13 0h1m1 0h1m3 0h1m2 0h1m2 0h2m1 0h1m2 0h3m5 0h3m3 0h1m1 0h1m1 0h2m3 0h4m1 0h4m1 0h1m1 0h7m4 0h1m3 0h1m1 0h1m41 0h1m6 0h3m1 0h3m3 0h3m2 0h1m3 0h2m5 0h1m3 0h3m8 0h3m6 0h3m1 0h7m1 0h1m2 0h6m1 0h2m-1904 1h2m1 0h1m1 0h3m3 0h3m6 0h4m1 0h1m1 0h2m5 0h1m7 0h1m23 0h1m3 0h5m1 0h6m1 0h1m1 0h4m1 0h3m5 0h3m2 0h2m12 0h2m3 0h1m1 0h2m2 0h1m3 0h1m2 0h10m4 0h1m2 0h1m2 0h1m1 0h2m4 0h1m2 0h3m38 0h6m2 0h4m3 0h1m1 0h1m3 0h2m2 0h7m6 0h3m3 0h2m1 0h3m3 0h5m3 0h1m2 0h2m1 0h1m3 0h2m8 0h1m1 0h4m1 0h3m4 0h6m2 0h2m1 0h1m2 0h2m6 0h2m1 0h2m45 0h2m1 0h8m1 0h3m1 0h7m3 0h5m2 0h1m2 0h6m1 0h1m2 0h6m2 0h1m1 0h4m2 0h1m1 0h3m2 0h2m1 0h8m1 0h1m1 0h1m3 0h1m2 0h2m8 0h3m7 0h1m3 0h1m44 0h1m2 0h11m1 0h2m1 0h2m4 0h1m1 0h1m7 0h4m4 0h3m1 0h3m1 0h1m1 0h9m1 0h7m1 0h2m1 0h1m1 0h3m1 0h1m14 0h1m3 0h1m28 0h1m2 0h1m2 0h2m3 0h7m3 0h4m1 0h1m2 0h1m1 0h4m1 0h1m1 0h1m7 0h3m1 0h3m1 0h1m3 0h4m1 0h5m1 0h5m1 0h1m2 0h2m3 0h1m1 0h2m3 0h1m14 0h2m32 0h3m2 0h1m1 0h1m2 0h1m2 0h2m6 0h2m1 0h1m3 0h3m7 0h1m1 0h1m6 0h1m5 0h1m1 0h3m3 0h2m2 0h2m1 0h1m4 0h5m1 0h9m1 0h1m1 0h1m1 0h2m2 0h1m1 0h2m5 0h1m8 0h1m27 0h2m2 0h3m1 0h7m2 0h2m1 0h1m5 0h1m2 0h1m1 0h1m1 0h1m1 0h1m4 0h1m1 0h1m2 0h1m9 0h1m2 0h1m4 0h2m1 0h1m1 0h8m2 0h1m2 0h2m3 0h1m3 0h3m3 0h1m1 0h1m5 0h1m3 0h3m5 0h1m17 0h2m2 0h3m1 0h4m1 0h2m1 0h4m3 0h1m2 0h1m1 0h1m2 0h1m2 0h2m3 0h1m6 0h1m1 0h1m4 0h1m8 0h2m2 0h1m6 0h1m4 0h2m3 0h1m2 0h1m1 0h2m1 0h3m1 0h4m1 0h3m1 0h1m8 0h1m1 0h1m19 0h1m13 0h3m1 0h1m5 0h4m2 0h3m1 0h1m3 0h1m1 0h3m2 0h1m2 0h3m3 0h2m2 0h1m3 0h1m1 0h1m4 0h1m2 0h2m1 0h5m1 0h1m1 0h5m1 0h2m3 0h4m1 0h5m2 0h9m3 0h3m7 0h1m1 0h1m28 0h2m2 0h1m1 0h6m2 0h5m5 0h1m4 0h1m4 0h1m11 0h1m3 0h1m2 0h2m2 0h4m1 0h1m3 0h1m1 0h2m1 0h1m2 0h2m1 0h1m1 0h4m2 0h8m2 0h2m12 0h1m13 0h3m18 0h2m2 0h5m1 0h2m1 0h2m1 0h2m3 0h1m1 0h2m1 0h1m6 0h3m3 0h3m3 0h2m1 0h1m3 0h3m2 0h2m1 0h3m1 0h1m3 0h1m2 0h2m4 0h1m1 0h3m2 0h2m2 0h4m1 0h1m16 0h1m21 0h4m5 0h1m1 0h1m2 0h4m1 0h2m5 0h1m1 0h1m1 0h1m1 0h6m1 0h1m3 0h3m2 0h1m6 0h1m1 0h2m1 0h2m3 0h2m4 0h4m3 0h1m1 0h5m1 0h6m2 0h7m1 0h5m2 0h1m2 0h1m1 0h1m2 0h1m4 0h1m6 0h1m44 0h6m1 0h4m2 0h2m4 0h3m3 0h2m4 0h1m1 0h2m2 0h2m2 0h1m2 0h4m1 0h1m1 0h1m1 0h1m3 0h3m2 0h1m1 0h2m1 0h2m1 0h2m2 0h3m1 0h5m-1903 1h2m4 0h1m3 0h3m6 0h1m2 0h1m2 0h1m4 0h1m42 0h5m1 0h3m1 0h1m2 0h2m1 0h2m1 0h2m2 0h3m2 0h2m6 0h2m1 0h1m2 0h1m1 0h1m3 0h2m4 0h1m1 0h1m1 0h1m1 0h9m1 0h1m1 0h1m5 0h1m1 0h2m1 0h1m26 0h1m23 0h2m2 0h5m1 0h3m5 0h1m5 0h3m6 0h5m4 0h1m2 0h3m2 0h5m5 0h1m3 0h2m1 0h1m6 0h1m4 0h2m2 0h6m1 0h1m3 0h2m1 0h1m2 0h1m3 0h3m2 0h1m2 0h2m53 0h2m1 0h6m3 0h1m1 0h2m1 0h1m1 0h6m2 0h1m1 0h4m2 0h1m1 0h2m2 0h4m1 0h1m2 0h4m2 0h2m1 0h2m2 0h2m1 0h3m1 0h3m1 0h2m5 0h1m17 0h1m60 0h6m1 0h2m1 0h4m1 0h2m1 0h4m2 0h4m3 0h1m1 0h2m6 0h4m1 0h4m1 0h9m1 0h7m1 0h1m6 0h3m2 0h1m2 0h1m1 0h2m2 0h1m5 0h1m31 0h9m4 0h3m3 0h3m1 0h2m1 0h2m2 0h5m1 0h8m1 0h3m3 0h2m1 0h8m2 0h2m1 0h6m1 0h2m1 0h1m6 0h2m51 0h1m1 0h2m1 0h3m1 0h7m1 0h2m1 0h4m1 0h1m8 0h1m2 0h2m3 0h2m3 0h3m6 0h1m3 0h2m4 0h2m2 0h2m1 0h1m1 0h3m2 0h9m1 0h4m1 0h3m4 0h2m3 0h1m9 0h1m26 0h3m2 0h2m1 0h1m1 0h3m2 0h5m4 0h1m2 0h3m8 0h3m2 0h3m1 0h1m5 0h3m2 0h1m2 0h3m2 0h4m2 0h5m1 0h1m1 0h1m2 0h1m1 0h5m7 0h1m3 0h2m1 0h1m27 0h9m1 0h1m1 0h5m2 0h1m1 0h1m1 0h1m1 0h2m4 0h1m1 0h2m1 0h1m6 0h1m1 0h1m5 0h2m1 0h1m1 0h1m4 0h1m1 0h1m1 0h3m1 0h1m8 0h1m3 0h1m1 0h2m1 0h10m2 0h2m1 0h5m4 0h1m5 0h1m31 0h5m1 0h4m1 0h2m1 0h1m3 0h5m3 0h1m3 0h1m2 0h1m1 0h1m6 0h1m2 0h1m1 0h4m5 0h1m6 0h5m2 0h2m2 0h2m1 0h7m1 0h3m1 0h1m2 0h1m2 0h1m3 0h2m3 0h1m41 0h2m1 0h4m5 0h1m2 0h1m5 0h1m1 0h2m6 0h1m2 0h1m1 0h3m4 0h1m3 0h1m1 0h1m10 0h1m1 0h1m8 0h1m1 0h4m1 0h1m1 0h6m4 0h1m1 0h1m7 0h1m17 0h1m23 0h1m2 0h2m2 0h3m3 0h2m1 0h2m1 0h2m1 0h1m1 0h1m1 0h1m10 0h1m4 0h2m3 0h1m4 0h3m1 0h3m1 0h1m1 0h1m3 0h1m1 0h1m1 0h3m1 0h4m2 0h3m5 0h1m2 0h2m1 0h2m11 0h1m3 0h1m21 0h1m6 0h2m2 0h3m1 0h3m1 0h2m2 0h1m1 0h1m5 0h1m7 0h1m1 0h1m1 0h3m1 0h1m4 0h2m9 0h1m1 0h1m1 0h1m2 0h1m2 0h2m2 0h3m1 0h1m3 0h14m2 0h2m12 0h1m11 0h1m48 0h1m1 0h6m1 0h1m1 0h2m3 0h3m2 0h1m2 0h2m2 0h1m2 0h1m4 0h3m1 0h1m2 0h4m2 0h1m4 0h4m5 0h4m1 0h1m1 0h1m1 0h6m2 0h1m1 0h6m-1905 1h2m1 0h1m1 0h1m1 0h2m1 0h2m20 0h1m34 0h1m1 0h2m2 0h2m1 0h3m2 0h2m1 0h1m1 0h1m1 0h1m1 0h2m3 0h1m5 0h1m1 0h1m2 0h1m3 0h1m1 0h1m3 0h3m1 0h2m3 0h4m2 0h1m3 0h1m9 0h1m1 0h1m2 0h2m1 0h1m50 0h1m1 0h5m1 0h1m1 0h3m2 0h3m1 0h1m2 0h1m2 0h4m1 0h2m2 0h4m7 0h2m1 0h2m1 0h1m1 0h1m6 0h3m2 0h2m5 0h1m1 0h1m1 0h1m1 0h1m1 0h2m3 0h7m1 0h1m10 0h1m12 0h1m2 0h2m44 0h4m1 0h2m1 0h1m4 0h2m1 0h7m3 0h1m1 0h4m1 0h7m2 0h11m2 0h2m2 0h1m1 0h5m1 0h2m3 0h1m2 0h1m2 0h1m8 0h1m73 0h2m1 0h1m2 0h1m1 0h4m3 0h2m1 0h1m10 0h1m3 0h4m2 0h2m1 0h5m1 0h2m1 0h2m2 0h7m4 0h1m3 0h1m18 0h1m38 0h1m1 0h4m1 0h6m1 0h2m2 0h2m2 0h5m1 0h9m2 0h1m1 0h3m1 0h2m1 0h10m1 0h2m2 0h5m1 0h2m10 0h1m7 0h2m45 0h5m1 0h9m1 0h3m1 0h2m1 0h1m1 0h2m1 0h4m7 0h2m1 0h2m1 0h4m2 0h1m1 0h1m2 0h1m1 0h1m1 0h2m2 0h1m1 0h2m2 0h14m2 0h1m1 0h1m58 0h2m4 0h10m7 0h4m2 0h2m6 0h1m4 0h2m5 0h4m1 0h1m3 0h4m1 0h2m1 0h4m4 0h2m1 0h5m7 0h1m3 0h1m7 0h1m27 0h8m1 0h1m1 0h4m2 0h1m2 0h1m1 0h1m3 0h2m2 0h1m2 0h1m3 0h1m5 0h1m1 0h1m2 0h2m2 0h1m2 0h2m6 0h2m2 0h5m3 0h1m1 0h1m1 0h3m2 0h4m1 0h1m2 0h1m4 0h1m9 0h1m2 0h1m2 0h2m34 0h11m3 0h3m2 0h2m11 0h4m2 0h4m2 0h3m1 0h2m5 0h1m2 0h1m1 0h1m1 0h5m2 0h1m1 0h1m1 0h4m3 0h2m2 0h1m1 0h1m2 0h1m4 0h1m54 0h1m1 0h3m3 0h1m1 0h3m3 0h1m1 0h1m1 0h1m6 0h1m4 0h1m5 0h1m1 0h5m1 0h3m2 0h3m3 0h4m1 0h1m1 0h6m3 0h4m2 0h2m9 0h1m16 0h1m31 0h1m1 0h8m1 0h1m2 0h1m3 0h2m1 0h4m3 0h1m10 0h1m3 0h1m5 0h1m1 0h1m2 0h8m1 0h1m3 0h7m3 0h3m3 0h2m5 0h1m4 0h1m39 0h4m1 0h10m1 0h7m1 0h3m4 0h3m7 0h3m2 0h3m5 0h3m1 0h2m4 0h2m1 0h11m1 0h1m3 0h1m5 0h1m1 0h1m2 0h1m25 0h2m4 0h1m48 0h2m1 0h8m4 0h1m3 0h1m1 0h1m1 0h2m1 0h1m4 0h3m1 0h1m2 0h2m1 0h1m1 0h3m1 0h4m1 0h1m1 0h1m1 0h5m1 0h2m5 0h1m2 0h3m1 0h3m3 0h5m-1902 1h1m4 0h1m11 0h1m44 0h1m1 0h3m3 0h6m2 0h1m3 0h1m2 0h2m5 0h4m2 0h3m2 0h1m1 0h1m2 0h4m3 0h1m1 0h1m1 0h3m3 0h1m2 0h2m1 0h2m68 0h1m1 0h1m2 0h3m4 0h2m1 0h2m1 0h1m1 0h2m8 0h2m6 0h4m4 0h14m2 0h1m1 0h7m1 0h1m2 0h4m5 0h1m6 0h1m5 0h1m1 0h2m66 0h3m1 0h8m2 0h2m1 0h1m1 0h1m2 0h9m1 0h8m1 0h1m1 0h1m4 0h10m4 0h4m1 0h1m6 0h1m6 0h1m81 0h2m1 0h2m1 0h4m3 0h9m1 0h1m3 0h2m1 0h2m1 0h2m1 0h4m1 0h1m1 0h1m1 0h1m11 0h1m11 0h1m9 0h1m44 0h3m1 0h1m2 0h7m1 0h2m3 0h1m1 0h1m1 0h3m1 0h1m1 0h2m4 0h2m2 0h7m1 0h1m2 0h1m2 0h1m1 0h3m9 0h1m5 0h1m63 0h4m1 0h5m1 0h4m1 0h1m2 0h5m1 0h1m1 0h1m6 0h1m1 0h4m1 0h2m3 0h2m7 0h1m1 0h1m1 0h2m1 0h3m4 0h2m1 0h1m1 0h2m2 0h1m5 0h1m2 0h1m24 0h1m30 0h9m1 0h2m7 0h1m4 0h2m1 0h7m1 0h1m1 0h6m2 0h3m2 0h7m1 0h2m1 0h3m1 0h3m1 0h1m1 0h1m5 0h1m54 0h2m1 0h3m3 0h1m3 0h1m5 0h1m2 0h2m9 0h1m1 0h1m1 0h4m5 0h1m3 0h2m2 0h5m5 0h1m1 0h2m1 0h2m1 0h1m1 0h4m1 0h1m2 0h1m5 0h1m4 0h1m2 0h1m23 0h1m27 0h1m2 0h8m2 0h2m1 0h1m2 0h3m3 0h3m2 0h1m1 0h4m4 0h1m2 0h2m1 0h7m1 0h4m1 0h1m1 0h3m1 0h3m1 0h2m3 0h1m2 0h4m2 0h2m39 0h1m23 0h1m1 0h3m1 0h3m1 0h1m1 0h6m9 0h1m1 0h1m2 0h1m1 0h2m3 0h6m1 0h1m1 0h2m5 0h1m1 0h2m2 0h6m1 0h2m1 0h5m2 0h1m44 0h1m17 0h2m1 0h2m3 0h2m1 0h2m1 0h4m2 0h3m2 0h3m9 0h1m2 0h1m1 0h1m2 0h3m3 0h2m2 0h11m1 0h1m2 0h1m1 0h3m1 0h1m7 0h1m5 0h1m43 0h5m3 0h2m1 0h1m1 0h7m2 0h1m1 0h2m4 0h2m1 0h2m1 0h1m3 0h1m2 0h2m1 0h1m1 0h2m1 0h2m3 0h3m1 0h1m1 0h1m1 0h1m1 0h1m1 0h2m1 0h2m2 0h6m3 0h1m1 0h4m1 0h1m5 0h1m3 0h1m71 0h1m1 0h6m1 0h2m1 0h2m1 0h5m2 0h1m1 0h2m1 0h3m1 0h7m4 0h3m1 0h3m1 0h2m1 0h6m1 0h2m1 0h4m2 0h1m8 0h1m1 0h2m3 0h5m-1837 1h1m1 0h4m2 0h2m1 0h2m4 0h6m2 0h3m1 0h6m3 0h1m1 0h1m1 0h4m4 0h2m3 0h2m7 0h1m3 0h2m17 0h1m14 0h1m34 0h5m1 0h3m2 0h5m1 0h2m1 0h1m3 0h2m2 0h16m1 0h2m1 0h1m3 0h6m3 0h1m1 0h1m5 0h1m7 0h1m7 0h1m77 0h1m1 0h1m2 0h4m1 0h10m2 0h3m1 0h1m4 0h3m1 0h3m2 0h2m5 0h1m9 0h1m7 0h2m96 0h1m1 0h13m1 0h2m1 0h6m2 0h4m1 0h1m3 0h2m1 0h3m1 0h2m6 0h1m78 0h2m2 0h8m1 0h4m1 0h6m1 0h2m5 0h2m5 0h2m2 0h1m6 0h1m1 0h1m12 0h1m70 0h6m3 0h3m2 0h2m2 0h3m3 0h2m6 0h1m3 0h14m1 0h1m2 0h5m3 0h1m3 0h2m1 0h1m1 0h3m32 0h1m38 0h2m1 0h3m1 0h5m2 0h3m1 0h1m2 0h2m1 0h1m4 0h2m1 0h1m2 0h3m2 0h3m6 0h2m3 0h3m3 0h1m3 0h1m12 0h1m50 0h4m2 0h2m1 0h1m2 0h1m1 0h3m5 0h3m4 0h2m2 0h2m2 0h1m1 0h1m1 0h2m1 0h1m1 0h1m1 0h1m2 0h1m4 0h4m1 0h9m1 0h1m2 0h2m2 0h1m1 0h3m6 0h1m6 0h1m5 0h1m47 0h6m2 0h4m1 0h2m1 0h2m1 0h3m2 0h6m1 0h4m1 0h6m1 0h9m1 0h9m1 0h1m3 0h2m4 0h1m4 0h2m14 0h1m1 0h1m50 0h4m1 0h2m3 0h1m1 0h3m3 0h1m1 0h1m4 0h2m1 0h2m1 0h5m2 0h2m1 0h4m1 0h1m1 0h3m1 0h8m2 0h2m1 0h3m19 0h2m52 0h4m7 0h1m2 0h5m1 0h1m1 0h1m1 0h1m1 0h4m5 0h2m4 0h3m3 0h4m3 0h6m1 0h2m1 0h2m1 0h1m3 0h1m3 0h1m12 0h1m47 0h2m1 0h3m1 0h15m1 0h1m1 0h2m1 0h3m1 0h1m1 0h2m2 0h1m1 0h1m1 0h2m1 0h4m2 0h1m1 0h2m1 0h5m1 0h1m2 0h2m1 0h2m4 0h2m97 0h13m4 0h2m1 0h4m1 0h3m1 0h5m1 0h5m2 0h1m1 0h5m1 0h4m1 0h1m5 0h1m1 0h1m2 0h2m8 0h1m-1893 1h1m33 0h2m30 0h2m4 0h6m1 0h4m1 0h3m9 0h3m1 0h5m1 0h2m26 0h1m3 0h1m63 0h2m7 0h1m4 0h3m2 0h2m2 0h8m2 0h2m4 0h3m1 0h1m1 0h3m4 0h1m3 0h4m1 0h2m1 0h1m7 0h1m7 0h2m48 0h1m36 0h1m2 0h2m16 0h2m6 0h1m13 0h1m30 0h1m2 0h1m1 0h1m83 0h1m1 0h1m1 0h1m6 0h2m4 0h1m3 0h1m2 0h1m2 0h1m3 0h1m1 0h4m8 0h1m12 0h1m1 0h2m14 0h1m1 0h1m4 0h1m41 0h1m3 0h3m5 0h1m4 0h3m1 0h1m1 0h2m4 0h1m6 0h2m4 0h1m3 0h1m89 0h2m1 0h5m1 0h1m2 0h2m1 0h2m1 0h2m1 0h3m1 0h3m2 0h2m1 0h2m1 0h3m2 0h2m3 0h2m1 0h3m1 0h7m4 0h1m6 0h1m73 0h3m1 0h3m1 0h1m1 0h2m1 0h2m2 0h2m1 0h5m2 0h2m2 0h3m2 0h1m1 0h2m2 0h1m3 0h1m1 0h4m3 0h2m2 0h2m4 0h1m1 0h1m64 0h2m5 0h3m3 0h3m2 0h2m1 0h2m2 0h1m7 0h3m1 0h4m1 0h4m1 0h2m1 0h4m1 0h1m1 0h8m2 0h3m1 0h2m5 0h1m74 0h1m1 0h2m2 0h4m1 0h12m1 0h3m1 0h1m1 0h2m2 0h2m1 0h2m1 0h6m2 0h1m15 0h1m2 0h1m74 0h2m1 0h3m1 0h1m4 0h3m1 0h4m1 0h2m6 0h2m2 0h2m4 0h4m3 0h1m1 0h2m1 0h1m1 0h8m1 0h1m81 0h1m1 0h3m1 0h1m1 0h1m1 0h1m1 0h3m1 0h2m1 0h1m1 0h5m3 0h1m3 0h2m1 0h3m1 0h6m4 0h1m2 0h3m1 0h3m1 0h3m10 0h1m58 0h3m2 0h2m1 0h2m2 0h12m1 0h2m2 0h4m1 0h1m1 0h1m1 0h3m3 0h1m1 0h1m1 0h4m1 0h1m4 0h1m1 0h2m12 0h1m97 0h2m1 0h1m1 0h1m2 0h1m2 0h1m2 0h1m2 0h1m1 0h3m4 0h1m2 0h4m4 0h1m3 0h1m1 0h3m3 0h1m4 0h1m9 0h2m7 0h1m10 0h1m-1836 1h1m17 0h1m16 0h1m10 0h3m14 0h1m22 0h2m58 0h1m2 0h1m2 0h4m1 0h1m1 0h2m4 0h2m3 0h2m1 0h1m8 0h3m13 0h1m1 0h1m11 0h1m10 0h1m16 0h1m81 0h1m7 0h1m22 0h2m18 0h1m96 0h1m3 0h1m5 0h2m33 0h1m1 0h1m93 0h2m21 0h1m96 0h1m7 0h1m4 0h1m1 0h8m1 0h1m10 0h1m1 0h1m3 0h1m2 0h4m4 0h1m9 0h1m3 0h2m2 0h2m5 0h1m77 0h2m2 0h1m4 0h1m1 0h5m2 0h3m1 0h2m3 0h3m1 0h2m1 0h1m4 0h2m1 0h3m4 0h1m71 0h2m3 0h3m2 0h1m3 0h1m1 0h8m1 0h1m5 0h1m1 0h2m1 0h1m4 0h2m1 0h3m1 0h2m2 0h2m1 0h2m4 0h4m2 0h1m2 0h1m4 0h1m4 0h2m1 0h1m67 0h4m5 0h4m3 0h1m4 0h1m4 0h1m1 0h3m9 0h1m1 0h2m2 0h2m7 0h1m12 0h1m76 0h2m1 0h1m1 0h13m1 0h13m2 0h2m3 0h3m1 0h2m3 0h2m1 0h1m7 0h1m83 0h1m4 0h1m2 0h3m2 0h4m4 0h1m1 0h3m1 0h6m1 0h1m1 0h2m2 0h3m2 0h2m7 0h2m4 0h1m3 0h1m67 0h2m12 0h3m2 0h1m1 0h1m2 0h3m6 0h1m3 0h3m4 0h1m3 0h1m1 0h6m5 0h1m1 0h1m129 0h1m14 0h1m1 0h1m1 0h2m28 0h1m-1885 1h1m77 0h1m2 0h1m22 0h2m20 0h1m23 0h2m70 0h1m8 0h2m5 0h4m38 0h1m43 0h2m340 0h2m9 0h1m11 0h1m107 0h2m1 0h1m5 0h1m3 0h1m3 0h1m130 0h2m4 0h3m2 0h2m2 0h1m1 0h1m3 0h1m2 0h2m8 0h1m5 0h1m85 0h2m3 0h1m4 0h3m3 0h3m4 0h2m4 0h1m1 0h3m2 0h1m1 0h2m1 0h2m3 0h3m2 0h3m3 0h2m1 0h1m8 0h1m7 0h1m83 0h1m3 0h3m2 0h1m2 0h2m6 0h1m5 0h2m1 0h1m2 0h1m2 0h1m21 0h1m84 0h2m2 0h1m3 0h3m2 0h3m2 0h2m7 0h1m1 0h2m2 0h1m15 0h1m2 0h1m3 0h1m78 0h1m5 0h4m3 0h2m1 0h2m1 0h2m6 0h1m2 0h1m4 0h1m1 0h2m2 0h1m10 0h1m4 0h1m80 0h1m13 0h1m11 0h2m1 0h1m3 0h1m1 0h1m1 0h1m1 0h1m1 0h1m9 0h1m5 0h1m125 0h1m7 0h1m11 0h1m18 0h1m-1873 1h1m103 0h1m17 0h1m106 0h1m7 0h2m1 0h1m37 0h1m1 0h1m100 0h1m151 0h1m16 0h1m406 0h2m2 0h1m1 0h1m7 0h1m1 0h1m15 0h4m15 0h1m6 0h3m55 0h1m6 0h1m10 0h1m2 0h1m3 0h1m3 0h1m5 0h1m2 0h4m7 0h1m5 0h1m132 0h1m3 0h1m7 0h1m3 0h1m115 0h1m171 0h1m12 0h1m8 0h1m98 0h1m159 0h1m-1755 1h1m23 0h1m155 0h1m150 0h1m146 0h1m437 0h1m97 0h1m6 0h2m13 0h1m5 0h1m109 0h1m6 0h1m139 0h1m130 0h1m30 0h1m164 0h1m22 0h1m99 0h1m13 0h1m-1034 1h1m16 0h3m38 0h1m217 0h1m25 0h1m291 0h1m5 0h1m118 0h1m18 0h1m-1447 1h1m569 0h1m410 0h1m24 0h1m1 0h1m156 0h1m131 0h1m130 0h1m-720 1h1m19 0h1m129 0h1m152 0h1m401 0h1m-523 1h1m86 0h1m-970 1h1m992 0h1m-136 1h1"/><path stroke="#f00" d="M1094 10h1m12 0h1m1 0h1m287 0h1m6 0h1m-566 1h1m121 0h1m125 0h2m16 0h1m3 0h1m9 0h1m92 0h1m166 0h1m17 0h1m118 0h2m9 0h1m14 0h4m130 0h1m-1594 1h1m133 0h1m615 0h1m1 0h2m109 0h1m6 0h1m8 0h1m6 0h1m99 0h2m5 0h1m3 0h3m2 0h1m2 0h1m10 0h1m5 0h1m3 0h1m1 0h2m4 0h1m5 0h1m79 0h1m8 0h1m5 0h1m5 0h1m3 0h1m15 0h1m128 0h1m10 0h4m9 0h1m6 0h1m6 0h1m101 0h1m8 0h1m1 0h1m1 0h1m1 0h1m10 0h1m1 0h2m4 0h1m4 0h1m3 0h2m3 0h1m85 0h1m9 0h1m5 0h1m2 0h1m20 0h1m134 0h1m-1751 1h1m137 0h1m15 0h1m13 0h1m4 0h4m4 0h1m2 0h1m2 0h1m12 0h1m265 0h1m8 0h1m117 0h2m4 0h2m1 0h1m12 0h1m116 0h1m6 0h1m1 0h1m2 0h2m6 0h1m5 0h2m4 0h4m114 0h5m8 0h2m1 0h1m2 0h2m1 0h1m11 0h1m1 0h2m5 0h2m78 0h2m2 0h2m3 0h3m1 0h2m1 0h3m3 0h1m2 0h1m1 0h1m1 0h1m3 0h1m1 0h2m7 0h1m6 0h1m1 0h1m14 0h1m65 0h1m7 0h2m2 0h3m2 0h1m1 0h3m3 0h1m2 0h3m4 0h1m5 0h1m2 0h2m1 0h3m1 0h1m107 0h1m4 0h1m1 0h2m5 0h1m7 0h1m1 0h1m6 0h2m2 0h1m3 0h3m1 0h2m1 0h1m1 0h4m1 0h2m89 0h1m1 0h2m3 0h1m1 0h1m3 0h1m3 0h1m2 0h2m1 0h4m10 0h3m1 0h1m3 0h1m1 0h2m2 0h1m3 0h1m7 0h1m65 0h1m6 0h1m7 0h1m4 0h1m1 0h1m2 0h1m5 0h1m2 0h1m2 0h1m3 0h1m8 0h1m1 0h1m126 0h1m13 0h2m5 0h1m9 0h1m11 0h2m-1792 1h1m6 0h1m3 0h1m2 0h1m1 0h1m8 0h2m1 0h1m6 0h2m1 0h1m13 0h1m95 0h1m2 0h1m13 0h1m8 0h3m1 0h1m3 0h2m8 0h1m1 0h1m3 0h1m8 0h1m89 0h1m9 0h1m9 0h1m1 0h3m2 0h1m140 0h1m1 0h4m1 0h1m1 0h1m3 0h1m3 0h2m2 0h2m3 0h2m16 0h1m84 0h4m3 0h1m7 0h1m5 0h1m1 0h2m5 0h2m1 0h1m1 0h2m3 0h1m94 0h1m1 0h1m4 0h2m1 0h4m3 0h1m8 0h2m3 0h1m1 0h1m4 0h1m4 0h3m7 0h1m88 0h1m2 0h1m2 0h1m1 0h3m2 0h3m7 0h1m2 0h2m6 0h2m2 0h1m4 0h1m4 0h1m74 0h1m7 0h2m1 0h1m2 0h4m3 0h8m1 0h4m1 0h3m7 0h1m1 0h2m1 0h1m7 0h3m4 0h1m10 0h1m5 0h1m54 0h1m1 0h1m2 0h2m2 0h2m2 0h3m3 0h4m1 0h4m2 0h3m6 0h1m3 0h2m7 0h4m7 0h1m8 0h1m5 0h1m88 0h3m3 0h1m2 0h5m2 0h4m6 0h1m3 0h6m2 0h3m1 0h1m1 0h2m1 0h1m4 0h1m4 0h1m87 0h1m5 0h2m2 0h1m1 0h1m4 0h5m3 0h4m1 0h2m4 0h1m4 0h1m2 0h2m1 0h1m1 0h1m11 0h2m64 0h1m1 0h2m1 0h1m7 0h1m5 0h4m5 0h2m1 0h1m5 0h2m4 0h2m2 0h1m7 0h1m1 0h1m1 0h1m114 0h1m4 0h1m8 0h1m2 0h2m5 0h1m1 0h1m1 0h1m1 0h2m3 0h1m1 0h1m3 0h1m2 0h4m3 0h1m3 0h1m-1799 1h1m1 0h3m1 0h2m1 0h1m2 0h5m5 0h3m2 0h7m2 0h2m1 0h2m4 0h2m3 0h2m11 0h2m78 0h2m1 0h1m1 0h1m1 0h1m2 0h2m1 0h2m2 0h1m2 0h1m1 0h7m2 0h1m1 0h1m2 0h1m1 0h1m3 0h1m4 0h3m3 0h1m2 0h2m6 0h1m1 0h1m91 0h1m2 0h1m1 0h1m3 0h2m4 0h1m6 0h2m1 0h1m5 0h5m3 0h1m1 0h1m3 0h1m7 0h1m2 0h1m102 0h1m1 0h1m1 0h2m5 0h2m1 0h4m4 0h1m6 0h1m9 0h1m6 0h2m78 0h2m1 0h1m5 0h1m1 0h1m3 0h1m4 0h3m1 0h1m1 0h1m5 0h1m3 0h1m3 0h1m17 0h1m3 0h1m93 0h2m2 0h2m3 0h1m2 0h4m3 0h1m2 0h2m1 0h2m1 0h3m2 0h2m2 0h2m3 0h1m3 0h2m3 0h1m1 0h1m74 0h2m2 0h1m1 0h1m4 0h2m5 0h2m3 0h1m2 0h3m2 0h2m3 0h2m1 0h3m1 0h1m2 0h1m4 0h1m4 0h1m3 0h3m2 0h1m57 0h2m9 0h1m1 0h1m3 0h1m4 0h2m2 0h1m1 0h1m4 0h4m1 0h2m3 0h2m1 0h1m3 0h1m1 0h2m1 0h1m4 0h1m5 0h2m3 0h1m2 0h1m1 0h3m5 0h1m49 0h1m4 0h1m3 0h1m1 0h1m4 0h1m7 0h2m1 0h1m2 0h1m5 0h5m5 0h4m1 0h1m1 0h1m4 0h1m1 0h1m1 0h1m1 0h1m1 0h2m2 0h1m1 0h1m3 0h4m4 0h3m80 0h1m2 0h1m2 0h1m4 0h3m1 0h1m2 0h2m1 0h1m1 0h1m1 0h3m5 0h1m7 0h2m2 0h2m1 0h2m1 0h2m3 0h3m2 0h1m3 0h1m78 0h1m4 0h2m1 0h1m1 0h4m2 0h2m4 0h3m8 0h1m1 0h2m1 0h1m1 0h2m3 0h1m1 0h1m1 0h1m3 0h1m5 0h3m1 0h1m1 0h4m1 0h1m11 0h1m48 0h1m8 0h1m3 0h1m3 0h1m3 0h3m5 0h7m1 0h6m4 0h2m1 0h1m3 0h1m1 0h1m5 0h1m6 0h2m2 0h1m1 0h1m4 0h1m88 0h1m4 0h1m2 0h1m9 0h3m2 0h1m1 0h1m4 0h2m1 0h1m1 0h1m1 0h1m3 0h1m5 0h2m2 0h3m1 0h3m2 0h4m11 0h1m-1880 1h1m1 0h1m62 0h1m3 0h2m5 0h1m1 0h2m2 0h1m7 0h1m2 0h2m4 0h1m1 0h1m3 0h1m1 0h2m2 0h2m2 0h1m2 0h1m2 0h1m5 0h1m3 0h1m1 0h1m5 0h1m67 0h2m1 0h1m5 0h1m3 0h2m2 0h2m1 0h2m6 0h2m1 0h1m7 0h1m6 0h3m2 0h1m2 0h3m1 0h1m2 0h3m1 0h1m2 0h1m2 0h1m3 0h1m5 0h1m4 0h1m70 0h2m2 0h2m2 0h1m5 0h1m2 0h2m11 0h2m9 0h3m12 0h1m16 0h1m88 0h1m2 0h1m1 0h1m8 0h1m3 0h3m6 0h1m1 0h1m3 0h1m7 0h1m4 0h3m18 0h1m69 0h1m4 0h3m4 0h1m1 0h1m2 0h2m4 0h2m4 0h1m5 0h2m4 0h1m2 0h7m8 0h1m71 0h2m1 0h2m1 0h1m1 0h1m2 0h1m4 0h2m8 0h2m2 0h3m1 0h2m9 0h6m2 0h2m13 0h1m5 0h2m1 0h1m64 0h1m1 0h1m3 0h1m10 0h1m1 0h3m2 0h1m2 0h4m3 0h2m6 0h1m5 0h3m1 0h2m2 0h1m2 0h1m2 0h1m1 0h1m7 0h1m54 0h1m6 0h2m2 0h1m2 0h2m4 0h1m3 0h1m1 0h1m3 0h4m2 0h1m1 0h1m2 0h1m1 0h1m2 0h1m1 0h1m1 0h3m1 0h1m3 0h4m2 0h4m4 0h1m6 0h1m6 0h1m46 0h1m2 0h1m1 0h1m1 0h1m2 0h1m5 0h1m1 0h1m8 0h1m2 0h2m7 0h1m1 0h2m1 0h1m1 0h1m3 0h1m2 0h2m1 0h1m2 0h4m2 0h3m9 0h1m1 0h3m6 0h1m3 0h1m1 0h1m72 0h3m6 0h2m1 0h3m3 0h2m6 0h2m1 0h2m6 0h1m5 0h1m1 0h2m5 0h1m3 0h1m1 0h1m1 0h1m1 0h2m2 0h1m13 0h2m57 0h2m9 0h2m2 0h3m3 0h2m5 0h1m2 0h3m5 0h3m1 0h4m2 0h2m1 0h2m1 0h1m1 0h2m3 0h5m3 0h3m14 0h1m57 0h1m6 0h9m1 0h1m1 0h2m1 0h1m1 0h3m1 0h2m2 0h1m3 0h2m1 0h2m3 0h1m1 0h2m5 0h3m2 0h1m1 0h2m5 0h1m97 0h1m4 0h2m2 0h1m5 0h1m2 0h2m2 0h1m3 0h7m1 0h3m2 0h1m3 0h3m2 0h1m1 0h3m2 0h6m5 0h1m6 0h1m6 0h1m-1899 1h1m70 0h1m6 0h1m3 0h2m1 0h1m5 0h1m4 0h1m8 0h3m2 0h1m1 0h1m2 0h2m2 0h2m1 0h1m5 0h2m4 0h3m1 0h1m9 0h1m5 0h1m66 0h1m5 0h1m5 0h2m1 0h1m4 0h4m2 0h1m2 0h2m6 0h1m8 0h1m5 0h1m3 0h1m1 0h4m1 0h3m4 0h4m1 0h1m2 0h1m6 0h1m74 0h3m8 0h2m10 0h2m3 0h1m1 0h3m2 0h2m1 0h1m3 0h1m2 0h2m1 0h1m7 0h1m96 0h1m3 0h1m4 0h1m11 0h1m3 0h1m1 0h2m2 0h4m3 0h2m1 0h1m1 0h1m1 0h4m6 0h2m1 0h5m2 0h1m72 0h4m2 0h1m1 0h1m1 0h1m1 0h3m4 0h1m2 0h1m7 0h1m1 0h1m1 0h2m1 0h1m2 0h1m3 0h1m9 0h1m2 0h1m1 0h2m3 0h2m5 0h1m61 0h3m4 0h1m1 0h5m1 0h1m7 0h2m1 0h1m2 0h2m2 0h2m3 0h2m3 0h1m1 0h1m2 0h5m5 0h1m2 0h1m1 0h1m1 0h1m6 0h1m1 0h1m3 0h1m5 0h1m60 0h1m6 0h2m1 0h2m1 0h1m2 0h4m4 0h4m1 0h1m2 0h2m2 0h3m1 0h4m2 0h2m3 0h2m1 0h2m1 0h1m1 0h1m4 0h1m2 0h2m5 0h1m48 0h2m1 0h1m1 0h1m2 0h1m1 0h1m6 0h1m9 0h1m2 0h1m1 0h2m3 0h1m2 0h2m2 0h2m1 0h1m3 0h1m1 0h1m6 0h1m3 0h2m2 0h2m1 0h1m3 0h4m2 0h1m4 0h1m3 0h1m3 0h1m19 0h1m27 0h1m2 0h1m5 0h1m1 0h3m1 0h3m2 0h2m4 0h1m1 0h3m4 0h2m5 0h9m1 0h3m2 0h1m1 0h1m1 0h1m2 0h1m7 0h2m1 0h2m1 0h1m2 0h1m11 0h1m3 0h1m60 0h1m6 0h1m3 0h1m1 0h2m5 0h3m2 0h1m8 0h1m1 0h2m3 0h4m3 0h1m4 0h1m2 0h1m4 0h1m3 0h1m2 0h1m70 0h1m1 0h1m8 0h1m2 0h3m4 0h2m8 0h4m1 0h1m3 0h2m1 0h4m2 0h3m5 0h1m3 0h1m4 0h1m1 0h1m2 0h2m6 0h1m1 0h1m9 0h1m47 0h3m1 0h1m2 0h1m5 0h1m3 0h1m6 0h1m2 0h2m4 0h1m1 0h1m1 0h1m2 0h1m2 0h1m2 0h1m1 0h1m1 0h1m2 0h1m4 0h6m4 0h1m1 0h1m3 0h1m89 0h1m13 0h2m4 0h2m2 0h5m3 0h1m1 0h1m1 0h1m4 0h2m1 0h4m1 0h1m5 0h2m2 0h2m4 0h1m3 0h2m2 0h1m4 0h3m1 0h1m-1902 1h1m8 0h1m8 0h1m65 0h1m4 0h2m2 0h1m2 0h2m5 0h1m1 0h1m4 0h1m1 0h3m9 0h1m2 0h3m1 0h5m3 0h4m7 0h3m4 0h2m2 0h1m58 0h1m4 0h1m2 0h1m1 0h1m10 0h4m5 0h1m1 0h1m3 0h1m1 0h3m1 0h1m6 0h1m3 0h1m5 0h1m3 0h1m4 0h1m2 0h2m1 0h1m3 0h1m1 0h1m1 0h1m3 0h2m5 0h1m82 0h1m4 0h1m5 0h2m2 0h2m3 0h1m1 0h2m6 0h1m1 0h2m1 0h4m1 0h2m4 0h2m7 0h1m2 0h1m1 0h1m7 0h2m75 0h1m8 0h1m3 0h3m1 0h2m7 0h3m1 0h2m4 0h1m2 0h1m2 0h4m2 0h4m1 0h2m2 0h3m1 0h5m71 0h3m2 0h1m2 0h2m1 0h2m5 0h1m2 0h2m3 0h2m2 0h2m3 0h2m2 0h5m5 0h1m2 0h1m1 0h1m1 0h1m2 0h1m1 0h4m1 0h4m70 0h3m1 0h1m7 0h4m10 0h1m7 0h2m3 0h1m5 0h4m2 0h3m2 0h1m1 0h1m1 0h2m4 0h2m1 0h1m2 0h1m64 0h2m5 0h2m1 0h2m2 0h2m1 0h5m5 0h1m2 0h3m1 0h2m1 0h2m1 0h2m1 0h2m5 0h2m1 0h4m2 0h1m3 0h2m2 0h1m58 0h1m10 0h2m1 0h1m3 0h1m2 0h3m1 0h2m3 0h2m1 0h2m1 0h1m1 0h1m3 0h1m2 0h3m8 0h3m1 0h1m3 0h3m1 0h2m1 0h4m3 0h1m2 0h2m1 0h1m67 0h1m1 0h1m3 0h5m1 0h2m3 0h1m2 0h1m1 0h1m3 0h1m1 0h1m2 0h1m3 0h1m1 0h1m3 0h1m8 0h1m2 0h1m6 0h2m3 0h1m5 0h1m11 0h1m1 0h1m1 0h1m61 0h2m4 0h1m5 0h1m8 0h5m2 0h1m1 0h3m2 0h3m1 0h1m5 0h3m1 0h4m3 0h1m2 0h1m3 0h2m4 0h4m12 0h1m62 0h1m1 0h2m1 0h1m3 0h1m10 0h2m3 0h1m3 0h3m4 0h2m1 0h3m1 0h1m1 0h8m2 0h3m1 0h2m3 0h2m10 0h2m48 0h2m1 0h1m2 0h1m1 0h1m1 0h1m1 0h1m1 0h1m1 0h1m3 0h3m1 0h1m6 0h1m1 0h1m1 0h2m1 0h1m1 0h2m1 0h2m3 0h1m2 0h1m1 0h1m2 0h1m1 0h1m4 0h1m2 0h2m3 0h2m2 0h1m3 0h1m7 0h1m9 0h2m81 0h1m4 0h1m4 0h3m5 0h1m1 0h4m2 0h2m1 0h3m1 0h2m2 0h1m1 0h2m4 0h1m3 0h2m1 0h2m3 0h1m3 0h1m3 0h2m-1902 1h3m6 0h1m13 0h1m67 0h1m1 0h1m4 0h2m4 0h2m6 0h1m1 0h1m2 0h1m3 0h1m1 0h1m1 0h2m8 0h1m1 0h1m4 0h1m4 0h1m1 0h2m6 0h1m2 0h2m7 0h1m69 0h1m4 0h1m2 0h1m2 0h1m1 0h1m1 0h1m1 0h1m1 0h5m4 0h2m3 0h6m2 0h1m1 0h1m1 0h2m1 0h1m4 0h2m4 0h1m3 0h2m1 0h1m4 0h1m5 0h1m3 0h1m85 0h4m4 0h3m1 0h3m1 0h3m1 0h2m1 0h2m6 0h2m3 0h1m3 0h1m1 0h1m1 0h2m7 0h1m81 0h1m5 0h1m2 0h1m1 0h4m1 0h1m2 0h4m1 0h1m8 0h1m2 0h2m1 0h1m2 0h3m2 0h3m1 0h1m1 0h1m2 0h3m1 0h3m9 0h1m76 0h1m3 0h1m2 0h3m2 0h1m2 0h1m1 0h2m2 0h1m4 0h1m5 0h1m1 0h1m1 0h1m3 0h1m3 0h1m2 0h1m1 0h3m2 0h3m2 0h1m2 0h1m73 0h5m7 0h1m2 0h1m4 0h3m9 0h1m1 0h2m3 0h3m4 0h1m1 0h2m1 0h2m1 0h1m8 0h3m1 0h1m8 0h2m60 0h1m3 0h1m2 0h2m3 0h1m1 0h3m2 0h1m3 0h2m2 0h1m1 0h7m2 0h3m1 0h4m3 0h4m1 0h1m1 0h1m4 0h2m5 0h2m3 0h1m46 0h1m2 0h1m2 0h2m1 0h1m1 0h2m2 0h2m1 0h1m1 0h3m1 0h3m1 0h1m2 0h1m3 0h1m2 0h3m2 0h1m1 0h1m6 0h1m1 0h1m1 0h2m1 0h3m5 0h1m6 0h1m10 0h2m8 0h1m4 0h1m1 0h1m2 0h1m31 0h1m10 0h1m4 0h1m8 0h2m1 0h1m1 0h1m2 0h1m9 0h1m4 0h1m3 0h1m2 0h3m3 0h1m1 0h1m1 0h4m1 0h1m4 0h2m1 0h2m7 0h1m2 0h1m3 0h2m3 0h1m1 0h1m1 0h1m1 0h1m1 0h1m4 0h2m58 0h1m2 0h4m2 0h5m1 0h1m2 0h9m4 0h1m1 0h1m1 0h1m9 0h5m1 0h2m6 0h6m4 0h1m2 0h1m65 0h2m5 0h3m4 0h1m1 0h1m1 0h2m7 0h4m3 0h2m1 0h2m8 0h3m5 0h4m4 0h2m4 0h1m17 0h1m45 0h3m2 0h2m3 0h2m2 0h1m4 0h1m1 0h3m1 0h3m1 0h2m2 0h1m3 0h1m1 0h1m1 0h4m1 0h1m1 0h3m1 0h1m2 0h3m1 0h1m1 0h1m4 0h1m4 0h1m3 0h1m3 0h1m4 0h1m86 0h1m1 0h1m1 0h1m2 0h3m2 0h3m1 0h3m1 0h1m3 0h2m2 0h3m2 0h4m3 0h4m16 0h6m-1901 1h1m22 0h1m74 0h4m2 0h1m3 0h1m1 0h1m1 0h1m2 0h1m2 0h2m1 0h1m1 0h3m1 0h2m1 0h2m3 0h1m1 0h5m6 0h2m6 0h1m4 0h2m86 0h1m8 0h2m1 0h2m4 0h2m1 0h2m2 0h2m3 0h1m1 0h1m1 0h2m2 0h1m1 0h4m1 0h2m1 0h1m2 0h2m5 0h2m3 0h1m3 0h1m3 0h1m1 0h1m1 0h1m9 0h1m11 0h1m62 0h1m8 0h1m3 0h1m1 0h1m4 0h2m1 0h1m4 0h1m1 0h1m3 0h2m1 0h2m4 0h1m4 0h2m1 0h1m1 0h1m8 0h1m8 0h1m72 0h3m6 0h2m1 0h1m3 0h1m4 0h2m1 0h1m1 0h1m6 0h1m3 0h1m2 0h2m2 0h2m6 0h1m1 0h1m2 0h1m1 0h1m3 0h1m68 0h1m3 0h1m12 0h3m7 0h1m1 0h1m1 0h1m3 0h1m2 0h3m1 0h1m3 0h1m1 0h2m2 0h1m1 0h3m5 0h1m1 0h1m12 0h1m2 0h1m65 0h1m2 0h4m6 0h1m3 0h3m2 0h1m1 0h2m1 0h1m2 0h1m3 0h1m5 0h2m6 0h1m3 0h2m6 0h1m10 0h3m11 0h1m55 0h1m5 0h1m2 0h1m2 0h1m1 0h1m1 0h1m3 0h8m1 0h1m5 0h1m1 0h1m1 0h2m1 0h1m3 0h1m1 0h1m6 0h3m3 0h1m7 0h1m57 0h2m4 0h2m2 0h1m5 0h1m4 0h1m4 0h2m2 0h1m7 0h1m2 0h1m2 0h7m2 0h1m5 0h2m15 0h1m1 0h1m2 0h1m2 0h2m1 0h1m9 0h1m46 0h3m2 0h1m4 0h2m2 0h1m3 0h3m1 0h1m3 0h1m2 0h2m1 0h1m1 0h1m1 0h1m6 0h3m4 0h1m2 0h2m11 0h2m3 0h2m3 0h1m2 0h3m84 0h2m3 0h1m1 0h1m2 0h1m6 0h2m4 0h2m2 0h2m4 0h3m1 0h1m7 0h4m3 0h1m2 0h1m2 0h2m16 0h1m45 0h1m4 0h2m11 0h2m1 0h1m10 0h2m1 0h1m3 0h2m2 0h4m2 0h1m1 0h1m2 0h1m1 0h3m5 0h2m6 0h1m9 0h1m2 0h1m7 0h1m2 0h1m42 0h1m2 0h1m2 0h1m1 0h1m1 0h1m2 0h1m3 0h2m1 0h1m2 0h1m7 0h1m3 0h1m2 0h2m3 0h1m1 0h1m2 0h1m1 0h2m2 0h1m1 0h3m2 0h2m1 0h1m6 0h1m5 0h1m10 0h1m82 0h1m5 0h1m4 0h1m1 0h1m5 0h1m3 0h2m3 0h1m1 0h1m1 0h2m5 0h1m3 0h1m1 0h4m2 0h1m3 0h1m-1894 1h1m4 0h1m15 0h1m85 0h1m4 0h1m4 0h2m2 0h1m1 0h1m2 0h1m4 0h1m2 0h1m2 0h4m7 0h1m9 0h2m18 0h1m68 0h1m5 0h2m2 0h1m3 0h1m1 0h1m1 0h4m2 0h2m1 0h2m3 0h2m1 0h1m2 0h2m2 0h1m6 0h1m1 0h1m1 0h1m1 0h1m4 0h1m11 0h2m16 0h1m69 0h2m10 0h1m1 0h1m1 0h2m1 0h1m9 0h1m2 0h1m5 0h6m1 0h4m7 0h1m4 0h2m2 0h1m20 0h1m77 0h1m4 0h2m1 0h2m4 0h1m1 0h5m2 0h2m3 0h1m2 0h1m3 0h1m1 0h1m1 0h1m2 0h2m1 0h1m6 0h2m2 0h1m8 0h2m55 0h1m9 0h3m5 0h1m5 0h1m2 0h1m6 0h2m1 0h1m3 0h2m3 0h1m1 0h1m1 0h2m6 0h2m78 0h1m2 0h1m7 0h2m2 0h2m1 0h3m2 0h1m4 0h5m2 0h2m8 0h1m6 0h3m2 0h1m3 0h1m8 0h1m13 0h1m64 0h3m3 0h2m1 0h1m3 0h1m1 0h1m3 0h2m2 0h1m3 0h1m1 0h1m7 0h2m3 0h1m2 0h4m5 0h1m1 0h1m4 0h1m48 0h1m10 0h1m1 0h1m8 0h1m3 0h1m1 0h1m1 0h2m1 0h3m4 0h5m3 0h1m3 0h2m1 0h1m2 0h1m3 0h1m3 0h1m5 0h2m5 0h1m3 0h2m2 0h1m8 0h2m55 0h3m7 0h1m4 0h1m4 0h1m2 0h1m3 0h2m2 0h2m3 0h2m1 0h1m10 0h1m2 0h3m1 0h1m1 0h2m8 0h1m2 0h1m1 0h1m2 0h2m1 0h1m6 0h2m7 0h1m5 0h2m46 0h1m2 0h1m1 0h2m7 0h1m1 0h2m1 0h5m6 0h2m5 0h2m2 0h2m1 0h6m6 0h2m1 0h3m3 0h1m4 0h1m1 0h1m78 0h1m1 0h2m2 0h1m1 0h1m4 0h2m2 0h3m1 0h3m1 0h1m1 0h2m4 0h1m3 0h1m1 0h1m3 0h1m7 0h1m4 0h1m1 0h3m1 0h1m6 0h1m1 0h1m16 0h1m43 0h2m4 0h2m7 0h1m2 0h2m2 0h2m1 0h1m1 0h3m1 0h2m5 0h1m1 0h1m1 0h3m2 0h3m4 0h2m1 0h1m3 0h5m2 0h1m4 0h2m3 0h1m7 0h2m75 0h1m13 0h4m7 0h1m1 0h1m2 0h1m2 0h1m3 0h2m3 0h2m6 0h5m4 0h1m-1902 1h1m108 0h2m4 0h1m4 0h2m1 0h2m1 0h1m1 0h4m1 0h1m6 0h1m6 0h3m1 0h1m2 0h1m2 0h1m2 0h1m2 0h2m1 0h2m90 0h1m1 0h1m1 0h2m2 0h2m1 0h1m9 0h3m11 0h1m3 0h1m3 0h1m1 0h1m2 0h1m6 0h2m10 0h1m2 0h1m10 0h1m85 0h1m5 0h1m10 0h1m5 0h1m2 0h1m15 0h1m3 0h1m10 0h1m7 0h1m77 0h1m4 0h1m2 0h3m1 0h1m1 0h1m3 0h2m2 0h1m1 0h1m4 0h2m5 0h2m2 0h2m1 0h3m88 0h1m2 0h1m10 0h3m1 0h1m2 0h1m13 0h2m2 0h1m4 0h1m2 0h1m2 0h1m2 0h1m2 0h4m13 0h1m74 0h4m1 0h1m10 0h1m2 0h3m2 0h1m8 0h1m5 0h1m3 0h2m1 0h1m22 0h1m64 0h1m6 0h1m2 0h3m2 0h1m4 0h5m2 0h2m4 0h2m1 0h4m1 0h1m5 0h1m1 0h1m14 0h1m55 0h1m2 0h1m5 0h1m2 0h2m5 0h3m2 0h2m2 0h1m5 0h2m1 0h1m3 0h1m2 0h2m5 0h1m3 0h2m3 0h2m8 0h1m9 0h1m71 0h4m6 0h1m2 0h3m7 0h3m2 0h1m1 0h3m4 0h1m2 0h2m1 0h1m2 0h1m1 0h1m2 0h1m2 0h2m2 0h1m21 0h1m5 0h1m66 0h1m7 0h2m5 0h1m4 0h5m5 0h1m3 0h1m2 0h1m11 0h2m5 0h2m82 0h1m4 0h1m4 0h1m2 0h1m1 0h1m4 0h4m4 0h3m4 0h1m5 0h1m2 0h1m1 0h2m8 0h1m84 0h1m4 0h2m1 0h1m1 0h3m8 0h2m1 0h1m1 0h1m6 0h1m1 0h3m9 0h2m2 0h2m2 0h1m12 0h1m10 0h1m86 0h2m5 0h1m13 0h2m1 0h2m1 0h2m1 0h3m3 0h2m1 0h2m3 0h1m-1786 1h1m7 0h4m5 0h2m3 0h1m3 0h1m1 0h1m4 0h1m2 0h1m4 0h1m3 0h2m10 0h1m94 0h1m1 0h1m9 0h1m1 0h1m2 0h2m8 0h3m8 0h1m1 0h2m1 0h1m1 0h1m4 0h3m1 0h1m2 0h1m105 0h1m20 0h1m3 0h2m4 0h1m16 0h1m102 0h2m3 0h5m1 0h1m2 0h2m4 0h1m1 0h2m6 0h1m3 0h1m3 0h1m1 0h1m5 0h1m75 0h2m14 0h1m1 0h1m2 0h2m1 0h1m3 0h2m4 0h1m5 0h1m10 0h1m1 0h1m12 0h1m10 0h1m68 0h1m1 0h3m1 0h1m7 0h2m15 0h1m14 0h2m28 0h1m52 0h1m4 0h1m10 0h1m1 0h1m11 0h1m9 0h1m7 0h1m2 0h3m16 0h1m70 0h1m2 0h2m1 0h2m3 0h3m17 0h1m4 0h1m5 0h1m10 0h1m6 0h1m9 0h2m66 0h2m23 0h1m2 0h1m20 0h1m19 0h2m17 0h1m69 0h1m10 0h2m3 0h1m2 0h1m1 0h1m1 0h1m8 0h1m19 0h1m96 0h1m19 0h1m1 0h1m3 0h2m13 0h1m10 0h1m75 0h1m1 0h1m18 0h1m9 0h1m4 0h1m5 0h1m6 0h1m16 0h1m107 0h1m8 0h3m6 0h1m2 0h2m4 0h1m1 0h1m5 0h1m-1753 1h1m1 0h2m1 0h1m137 0h1m3 0h2m1 0h1m12 0h1m29 0h1m87 0h1m46 0h1m115 0h1m17 0h3m17 0h1m112 0h2m140 0h1m12 0h1m6 0h4m99 0h1m2 0h1m112 0h1m23 0h1m5 0h1m2 0h2m4 0h1m2 0h1m128 0h1m36 0h2m77 0h2m3 0h2m9 0h1m14 0h2m113 0h1m29 0h2m3 0h2m31 0h1m89 0h1m9 0h2m3 0h2m2 0h1m11 0h1m11 0h1m125 0h1m15 0h1m-1752 1h1m10 0h4m3 0h1m115 0h1m12 0h1m4 0h1m4 0h1m15 0h1m173 0h1m76 0h1m6 0h1m20 0h1m5 0h1m4 0h1m10 0h2m97 0h1m6 0h1m25 0h1m136 0h1m253 0h1m2 0h1m4 0h1m3 0h1m13 0h1m148 0h1m93 0h1m174 0h1m122 0h1m15 0h1m8 0h1m16 0h1m128 0h1m11 0h2m-1786 1h1m15 0h1m1 0h1m2 0h1m2 0h1m5 0h1m11 0h3m5 0h2m5 0h2m3 0h2m5 0h1m82 0h1m3 0h2m3 0h2m3 0h1m4 0h2m4 0h1m15 0h1m6 0h4m3 0h1m3 0h1m17 0h1m108 0h1m8 0h1m18 0h1m15 0h1m3 0h2m72 0h2m13 0h2m3 0h1m1 0h4m5 0h1m6 0h4m3 0h1m9 0h1m102 0h2m14 0h3m5 0h1m101 0h1m2 0h1m5 0h1m14 0h2m9 0h1m1 0h2m3 0h1m15 0h1m2 0h1m56 0h1m12 0h1m10 0h1m1 0h1m2 0h1m13 0h2m1 0h1m2 0h1m6 0h1m87 0h1m3 0h2m9 0h3m3 0h1m7 0h1m1 0h1m2 0h1m3 0h1m3 0h2m1 0h1m2 0h2m1 0h1m9 0h1m9 0h1m92 0h1m13 0h2m3 0h1m1 0h1m23 0h1m81 0h1m19 0h1m3 0h1m3 0h1m4 0h1m8 0h2m4 0h2m4 0h1m2 0h1m16 0h1m70 0h1m27 0h1m3 0h3m24 0h1m3 0h1m70 0h1m23 0h1m7 0h1m2 0h1m6 0h2m3 0h1m9 0h1m1 0h3m1 0h2m7 0h1m110 0h1m8 0h1m7 0h1m7 0h1m3 0h1m-1897 1h1m100 0h2m2 0h2m1 0h1m12 0h2m9 0h5m1 0h1m4 0h1m5 0h4m5 0h2m3 0h1m84 0h1m2 0h1m5 0h2m12 0h1m2 0h1m2 0h1m2 0h2m1 0h3m2 0h5m3 0h1m1 0h1m1 0h1m4 0h1m12 0h1m1 0h1m11 0h1m10 0h1m68 0h1m12 0h1m2 0h4m2 0h1m2 0h1m4 0h2m5 0h1m1 0h1m2 0h2m5 0h1m30 0h1m65 0h2m2 0h1m1 0h3m4 0h2m3 0h1m8 0h1m2 0h1m3 0h3m1 0h1m1 0h2m2 0h1m1 0h1m3 0h1m1 0h2m2 0h1m2 0h1m1 0h2m82 0h1m2 0h5m7 0h1m3 0h1m1 0h2m1 0h1m5 0h3m6 0h1m8 0h1m6 0h1m77 0h2m2 0h1m2 0h3m1 0h1m2 0h2m8 0h1m7 0h1m3 0h2m2 0h1m1 0h2m8 0h1m1 0h2m4 0h1m2 0h1m80 0h3m4 0h1m1 0h2m2 0h1m9 0h1m1 0h1m7 0h1m10 0h2m7 0h1m68 0h1m9 0h1m1 0h1m2 0h1m1 0h1m2 0h1m2 0h2m1 0h1m3 0h1m1 0h2m14 0h1m1 0h2m1 0h1m4 0h2m1 0h2m5 0h2m1 0h3m4 0h1m4 0h1m71 0h1m12 0h1m3 0h1m2 0h1m2 0h1m4 0h1m2 0h1m2 0h3m4 0h1m5 0h1m7 0h1m6 0h1m1 0h1m76 0h1m1 0h5m7 0h3m4 0h1m7 0h1m5 0h1m8 0h1m2 0h4m4 0h2m1 0h1m2 0h1m3 0h1m6 0h1m1 0h1m74 0h2m10 0h1m2 0h2m1 0h6m5 0h1m3 0h1m8 0h1m94 0h2m1 0h1m4 0h1m11 0h1m1 0h2m6 0h2m1 0h1m1 0h1m1 0h3m1 0h1m2 0h1m9 0h2m7 0h2m2 0h1m1 0h2m1 0h1m1 0h2m93 0h1m5 0h1m6 0h2m3 0h3m3 0h2m3 0h1m4 0h2m2 0h3m-1896 1h1m7 0h1m12 0h3m68 0h2m4 0h1m6 0h2m4 0h2m2 0h2m3 0h1m4 0h3m1 0h3m7 0h7m2 0h1m2 0h1m2 0h1m3 0h5m69 0h1m11 0h1m2 0h1m1 0h2m2 0h2m4 0h2m4 0h1m2 0h8m1 0h1m1 0h1m1 0h3m1 0h5m4 0h5m2 0h1m1 0h1m8 0h1m9 0h1m91 0h1m9 0h3m3 0h4m1 0h2m1 0h3m2 0h2m2 0h1m4 0h6m2 0h2m1 0h1m90 0h1m12 0h2m1 0h5m1 0h3m8 0h4m3 0h2m1 0h3m1 0h1m2 0h2m1 0h2m2 0h1m3 0h1m9 0h1m66 0h1m2 0h1m4 0h2m2 0h6m1 0h1m2 0h3m2 0h1m1 0h2m1 0h2m3 0h1m3 0h2m3 0h1m4 0h1m5 0h1m10 0h1m75 0h2m4 0h1m2 0h1m2 0h1m4 0h2m2 0h3m5 0h1m6 0h1m3 0h2m2 0h2m1 0h1m2 0h2m3 0h1m1 0h1m7 0h1m1 0h3m66 0h6m5 0h1m2 0h2m1 0h2m4 0h1m1 0h5m1 0h1m3 0h1m1 0h6m2 0h1m8 0h2m2 0h1m16 0h2m53 0h2m5 0h1m2 0h1m1 0h3m8 0h1m5 0h2m2 0h1m1 0h1m2 0h1m3 0h1m2 0h1m1 0h1m2 0h1m4 0h1m1 0h1m1 0h1m4 0h1m1 0h2m2 0h2m9 0h1m1 0h1m69 0h2m3 0h1m2 0h1m2 0h1m6 0h1m1 0h6m5 0h1m2 0h2m3 0h1m5 0h1m4 0h1m2 0h1m1 0h1m6 0h1m9 0h1m20 0h1m44 0h2m7 0h3m7 0h4m6 0h1m2 0h3m1 0h5m2 0h2m5 0h1m1 0h2m2 0h2m4 0h3m3 0h1m10 0h1m2 0h1m62 0h4m1 0h1m1 0h1m1 0h3m11 0h1m7 0h2m2 0h1m6 0h1m4 0h2m1 0h1m2 0h1m1 0h1m1 0h1m14 0h1m9 0h1m62 0h1m5 0h1m10 0h1m2 0h1m3 0h1m8 0h1m1 0h1m1 0h2m5 0h1m6 0h3m3 0h6m3 0h3m1 0h1m4 0h1m1 0h2m91 0h3m1 0h1m1 0h3m3 0h1m1 0h1m4 0h7m1 0h1m1 0h1m5 0h1m3 0h1m1 0h2m1 0h1m-1878 1h1m5 0h1m1 0h1m69 0h1m2 0h1m1 0h2m6 0h1m2 0h1m4 0h2m1 0h1m3 0h1m3 0h2m1 0h3m5 0h3m1 0h1m1 0h2m9 0h1m1 0h2m8 0h1m64 0h2m10 0h1m2 0h1m3 0h2m2 0h1m3 0h4m3 0h4m1 0h3m2 0h1m2 0h2m7 0h2m1 0h1m2 0h1m2 0h1m4 0h2m5 0h2m1 0h2m4 0h2m3 0h3m63 0h1m2 0h1m8 0h1m9 0h2m6 0h1m4 0h1m18 0h1m6 0h1m2 0h1m6 0h1m1 0h3m4 0h1m76 0h1m5 0h1m4 0h1m3 0h2m4 0h1m1 0h2m3 0h1m5 0h2m2 0h1m3 0h7m4 0h2m1 0h1m1 0h2m9 0h1m2 0h2m55 0h1m5 0h1m1 0h1m12 0h3m6 0h1m1 0h1m2 0h1m2 0h1m1 0h2m6 0h2m4 0h2m4 0h1m4 0h1m69 0h1m14 0h1m1 0h2m1 0h1m5 0h1m2 0h3m3 0h3m1 0h1m1 0h1m1 0h1m1 0h2m6 0h1m1 0h2m3 0h1m3 0h5m4 0h1m1 0h1m1 0h1m2 0h1m2 0h2m16 0h1m51 0h1m8 0h3m3 0h3m7 0h2m1 0h2m3 0h5m2 0h1m8 0h2m1 0h5m1 0h1m13 0h3m55 0h2m5 0h1m1 0h4m1 0h2m3 0h1m6 0h1m1 0h1m2 0h3m1 0h5m1 0h2m1 0h1m1 0h1m4 0h3m4 0h1m1 0h1m1 0h2m3 0h1m1 0h2m1 0h1m4 0h1m1 0h1m6 0h1m70 0h1m3 0h1m1 0h1m1 0h1m1 0h1m3 0h1m3 0h1m2 0h1m4 0h1m1 0h1m1 0h5m2 0h1m1 0h1m2 0h1m1 0h4m9 0h1m4 0h1m17 0h1m57 0h3m4 0h1m7 0h2m3 0h2m1 0h8m1 0h2m1 0h1m2 0h1m1 0h4m9 0h3m6 0h2m4 0h1m2 0h1m18 0h1m45 0h1m7 0h1m2 0h1m5 0h2m1 0h2m1 0h1m4 0h2m1 0h1m3 0h1m1 0h1m3 0h2m3 0h1m1 0h2m1 0h2m3 0h1m1 0h2m2 0h1m3 0h1m1 0h1m6 0h1m8 0h1m57 0h1m4 0h2m1 0h1m4 0h2m4 0h2m1 0h1m3 0h1m1 0h2m3 0h1m2 0h1m4 0h3m2 0h1m1 0h2m3 0h5m1 0h2m1 0h1m1 0h3m9 0h1m9 0h1m88 0h1m2 0h1m10 0h2m1 0h2m1 0h3m4 0h1m2 0h2m4 0h1m2 0h1m4 0h2m3 0h1m4 0h1m-1902 1h2m4 0h1m18 0h1m61 0h1m1 0h1m8 0h1m1 0h2m1 0h2m1 0h3m1 0h1m1 0h1m5 0h2m1 0h1m4 0h1m3 0h2m1 0h1m3 0h1m3 0h1m7 0h1m2 0h2m1 0h1m4 0h1m1 0h3m55 0h1m8 0h2m2 0h3m2 0h1m5 0h3m1 0h3m1 0h1m1 0h1m1 0h1m1 0h1m2 0h5m1 0h1m2 0h1m1 0h2m2 0h2m1 0h2m1 0h1m2 0h1m3 0h1m1 0h4m1 0h3m4 0h1m1 0h1m5 0h1m5 0h1m3 0h1m2 0h1m77 0h3m1 0h1m1 0h1m3 0h3m2 0h1m3 0h1m2 0h1m1 0h1m4 0h1m1 0h2m3 0h1m1 0h1m1 0h2m2 0h2m2 0h1m6 0h2m2 0h1m88 0h1m5 0h1m7 0h1m5 0h4m3 0h1m2 0h2m1 0h3m8 0h1m6 0h1m1 0h1m1 0h4m12 0h1m57 0h1m9 0h1m2 0h1m5 0h4m6 0h1m2 0h2m2 0h1m3 0h2m7 0h2m5 0h1m80 0h1m4 0h1m9 0h1m1 0h2m2 0h1m4 0h2m2 0h4m3 0h1m3 0h1m3 0h1m1 0h4m2 0h1m6 0h1m2 0h1m1 0h4m8 0h1m1 0h1m4 0h1m62 0h1m7 0h1m3 0h1m2 0h1m2 0h2m4 0h4m1 0h2m7 0h1m3 0h1m1 0h1m4 0h1m1 0h3m1 0h1m2 0h1m5 0h2m27 0h1m41 0h3m1 0h2m2 0h1m1 0h3m3 0h1m1 0h2m1 0h3m2 0h1m4 0h3m2 0h2m1 0h3m2 0h1m1 0h1m2 0h1m1 0h4m9 0h2m2 0h3m1 0h1m1 0h1m3 0h1m68 0h1m10 0h2m4 0h1m3 0h2m6 0h1m1 0h1m1 0h2m3 0h1m1 0h4m1 0h1m7 0h1m3 0h1m2 0h2m4 0h1m2 0h1m5 0h2m4 0h1m3 0h1m58 0h1m3 0h4m1 0h1m2 0h2m4 0h1m1 0h2m10 0h5m4 0h1m1 0h1m1 0h1m2 0h3m2 0h3m1 0h1m1 0h2m11 0h1m10 0h2m56 0h2m3 0h1m6 0h3m2 0h2m1 0h2m1 0h1m6 0h1m2 0h1m3 0h1m8 0h1m5 0h5m1 0h2m1 0h4m2 0h2m1 0h1m66 0h1m1 0h1m5 0h3m1 0h1m5 0h1m1 0h1m1 0h3m1 0h2m3 0h1m1 0h3m2 0h2m2 0h1m3 0h1m1 0h2m2 0h2m4 0h2m1 0h1m1 0h2m1 0h2m2 0h2m7 0h1m1 0h1m2 0h1m86 0h1m5 0h2m1 0h3m1 0h2m1 0h1m1 0h2m1 0h1m6 0h2m1 0h1m1 0h1m1 0h1m3 0h3m1 0h3m1 0h1m1 0h1m2 0h1m3 0h1m1 0h3m2 0h1m-1894 1h1m4 0h3m3 0h1m5 0h1m58 0h1m4 0h4m1 0h1m5 0h1m2 0h2m1 0h2m2 0h2m3 0h5m2 0h1m2 0h1m1 0h1m1 0h5m6 0h4m6 0h1m72 0h1m2 0h1m6 0h2m3 0h6m3 0h1m6 0h2m1 0h1m1 0h1m1 0h3m1 0h2m3 0h1m5 0h1m2 0h2m5 0h1m1 0h5m1 0h2m5 0h1m6 0h1m79 0h1m4 0h4m2 0h1m7 0h1m1 0h1m4 0h2m2 0h3m3 0h4m3 0h4m2 0h2m4 0h1m1 0h1m1 0h1m3 0h2m85 0h1m13 0h1m3 0h1m1 0h1m1 0h2m1 0h2m1 0h1m3 0h6m1 0h1m1 0h1m1 0h1m1 0h1m2 0h4m1 0h2m2 0h2m2 0h1m3 0h1m6 0h1m61 0h1m14 0h1m1 0h1m4 0h1m3 0h2m7 0h4m3 0h1m1 0h1m3 0h1m1 0h2m5 0h1m2 0h1m79 0h1m3 0h1m2 0h2m2 0h1m5 0h2m5 0h1m1 0h4m1 0h1m9 0h1m2 0h1m2 0h1m3 0h2m2 0h2m2 0h2m3 0h1m4 0h1m7 0h1m2 0h2m7 0h1m58 0h1m2 0h2m1 0h1m5 0h1m1 0h2m7 0h1m3 0h2m3 0h1m1 0h5m1 0h1m1 0h3m2 0h2m2 0h2m1 0h3m1 0h1m3 0h3m66 0h1m2 0h1m1 0h1m2 0h2m3 0h1m2 0h4m2 0h1m6 0h1m2 0h1m5 0h1m2 0h1m1 0h2m2 0h2m4 0h1m1 0h4m1 0h1m3 0h1m6 0h1m2 0h1m4 0h2m73 0h1m5 0h1m1 0h3m1 0h3m7 0h1m1 0h3m1 0h1m1 0h2m1 0h1m3 0h1m2 0h8m2 0h1m2 0h1m3 0h1m1 0h1m13 0h1m1 0h1m69 0h2m2 0h3m2 0h1m3 0h2m2 0h1m2 0h1m3 0h1m2 0h4m3 0h1m1 0h2m4 0h1m3 0h1m1 0h4m3 0h1m2 0h2m76 0h1m8 0h3m1 0h1m1 0h3m2 0h1m2 0h1m1 0h1m1 0h1m3 0h2m1 0h1m3 0h1m2 0h1m2 0h2m2 0h2m1 0h1m5 0h1m3 0h1m9 0h1m63 0h1m4 0h2m5 0h2m1 0h2m3 0h1m1 0h1m1 0h1m1 0h1m4 0h1m4 0h7m1 0h1m2 0h2m1 0h1m1 0h3m1 0h1m2 0h2m2 0h1m1 0h1m4 0h2m1 0h2m3 0h3m1 0h1m4 0h3m81 0h1m3 0h3m3 0h2m1 0h3m2 0h5m1 0h2m4 0h5m1 0h2m3 0h1m1 0h4m3 0h1m9 0h2m6 0h1m-1827 1h1m6 0h1m1 0h1m4 0h1m3 0h1m1 0h3m3 0h1m4 0h6m4 0h1m2 0h2m2 0h1m2 0h2m1 0h3m2 0h1m16 0h1m67 0h2m4 0h1m1 0h1m13 0h4m3 0h3m2 0h1m3 0h3m9 0h2m4 0h1m1 0h1m2 0h1m2 0h3m1 0h1m1 0h1m4 0h1m3 0h4m83 0h1m13 0h1m5 0h2m1 0h2m6 0h1m1 0h2m9 0h1m11 0h2m2 0h1m88 0h2m11 0h1m2 0h1m2 0h4m1 0h1m1 0h2m2 0h2m5 0h4m7 0h1m1 0h1m9 0h1m70 0h1m3 0h2m7 0h3m4 0h1m4 0h1m6 0h1m1 0h2m2 0h3m3 0h1m3 0h1m1 0h3m4 0h1m5 0h1m7 0h2m73 0h1m2 0h6m2 0h1m1 0h3m3 0h5m3 0h1m1 0h2m1 0h3m1 0h2m2 0h1m1 0h1m3 0h3m2 0h1m6 0h2m6 0h1m16 0h1m54 0h1m7 0h2m4 0h1m1 0h1m1 0h1m1 0h1m2 0h1m1 0h1m4 0h1m3 0h1m1 0h2m2 0h1m4 0h3m1 0h2m1 0h1m5 0h1m1 0h1m8 0h2m1 0h2m2 0h1m4 0h2m51 0h1m4 0h1m7 0h3m4 0h1m4 0h2m2 0h2m4 0h2m6 0h1m3 0h1m2 0h1m3 0h1m2 0h1m2 0h1m2 0h3m1 0h1m6 0h2m1 0h2m1 0h1m2 0h1m3 0h1m62 0h2m4 0h2m3 0h1m1 0h3m1 0h1m3 0h1m7 0h3m2 0h1m10 0h2m1 0h2m10 0h1m15 0h1m6 0h1m56 0h1m1 0h1m6 0h2m5 0h1m2 0h1m2 0h1m1 0h2m1 0h1m1 0h2m1 0h3m1 0h2m1 0h4m1 0h3m1 0h2m2 0h2m4 0h1m1 0h2m2 0h1m4 0h2m2 0h1m1 0h1m4 0h2m71 0h1m2 0h1m2 0h3m1 0h1m2 0h1m2 0h1m3 0h1m3 0h3m3 0h2m3 0h1m1 0h3m3 0h2m8 0h2m2 0h2m2 0h4m1 0h1m58 0h2m5 0h1m8 0h1m1 0h1m1 0h1m3 0h1m8 0h1m2 0h2m3 0h2m2 0h3m1 0h1m1 0h1m2 0h1m4 0h1m3 0h1m1 0h1m4 0h3m7 0h1m15 0h1m11 0h1m75 0h1m2 0h1m3 0h3m2 0h4m1 0h1m2 0h2m2 0h2m1 0h1m5 0h1m3 0h1m1 0h3m3 0h1m2 0h1m5 0h1m2 0h1m10 0h5m-1905 1h2m4 0h1m61 0h2m5 0h1m3 0h1m1 0h2m2 0h1m2 0h1m7 0h1m4 0h1m1 0h1m4 0h1m1 0h2m1 0h1m1 0h3m2 0h2m1 0h1m3 0h1m1 0h1m11 0h1m3 0h1m61 0h1m9 0h2m2 0h1m1 0h4m4 0h2m1 0h3m5 0h1m2 0h1m1 0h2m3 0h2m5 0h5m1 0h1m1 0h1m2 0h1m1 0h6m1 0h4m2 0h1m9 0h1m84 0h3m6 0h1m6 0h1m2 0h1m4 0h2m1 0h1m2 0h2m4 0h1m7 0h2m2 0h1m107 0h1m2 0h1m4 0h1m13 0h3m1 0h1m2 0h3m2 0h1m4 0h1m4 0h1m9 0h1m7 0h1m69 0h2m4 0h1m5 0h1m2 0h1m2 0h2m19 0h2m11 0h2m77 0h1m11 0h1m2 0h1m4 0h1m1 0h6m3 0h2m3 0h1m3 0h3m5 0h4m1 0h3m2 0h1m1 0h2m2 0h1m3 0h1m5 0h2m71 0h1m1 0h1m11 0h2m3 0h1m3 0h1m1 0h6m8 0h1m3 0h1m5 0h2m1 0h2m3 0h2m11 0h1m1 0h1m61 0h1m1 0h1m5 0h2m1 0h1m1 0h1m1 0h1m3 0h1m1 0h1m1 0h1m5 0h2m2 0h1m1 0h1m2 0h3m5 0h1m1 0h2m1 0h1m3 0h1m3 0h1m1 0h1m1 0h1m1 0h4m2 0h2m1 0h1m2 0h1m72 0h1m2 0h1m1 0h3m5 0h2m2 0h3m1 0h1m2 0h1m1 0h1m2 0h3m1 0h2m1 0h1m5 0h1m2 0h1m2 0h2m1 0h1m11 0h1m16 0h1m57 0h1m4 0h3m1 0h1m1 0h2m1 0h3m3 0h1m2 0h6m1 0h2m6 0h3m1 0h3m1 0h1m2 0h1m5 0h2m4 0h3m2 0h3m6 0h1m1 0h1m72 0h3m2 0h1m2 0h1m2 0h1m1 0h1m1 0h1m2 0h1m2 0h6m3 0h2m2 0h3m2 0h3m3 0h1m3 0h1m1 0h1m1 0h3m1 0h1m5 0h1m4 0h2m56 0h2m4 0h2m3 0h1m3 0h1m5 0h1m1 0h3m1 0h1m2 0h6m3 0h1m6 0h3m2 0h3m1 0h3m1 0h1m3 0h1m2 0h1m2 0h1m2 0h2m3 0h1m2 0h2m15 0h1m85 0h1m2 0h1m1 0h1m4 0h1m1 0h2m2 0h2m1 0h1m2 0h4m3 0h1m1 0h2m4 0h2m1 0h2m6 0h5m15 0h2m-1826 1h2m2 0h1m3 0h2m2 0h1m1 0h1m1 0h1m1 0h1m2 0h3m2 0h2m1 0h1m1 0h1m4 0h3m1 0h1m2 0h2m13 0h1m81 0h1m1 0h1m3 0h2m3 0h1m2 0h1m2 0h1m7 0h2m7 0h4m2 0h1m2 0h1m1 0h1m2 0h5m3 0h2m3 0h4m1 0h1m1 0h1m1 0h1m1 0h1m2 0h1m90 0h1m1 0h4m2 0h1m7 0h2m2 0h1m4 0h1m7 0h2m12 0h1m108 0h1m1 0h2m1 0h1m4 0h3m2 0h1m1 0h8m3 0h3m4 0h2m2 0h1m5 0h1m5 0h1m75 0h1m4 0h1m6 0h1m2 0h2m2 0h2m5 0h1m9 0h2m102 0h1m9 0h1m3 0h1m2 0h1m1 0h1m2 0h1m4 0h1m1 0h2m1 0h2m2 0h1m2 0h1m7 0h1m2 0h1m6 0h1m2 0h1m2 0h2m74 0h3m3 0h3m10 0h1m1 0h2m2 0h1m5 0h1m2 0h1m1 0h1m1 0h2m1 0h4m5 0h1m5 0h1m1 0h2m5 0h1m74 0h1m6 0h2m1 0h2m1 0h1m2 0h2m2 0h2m1 0h1m3 0h1m2 0h1m2 0h2m1 0h1m2 0h1m2 0h2m1 0h2m2 0h3m1 0h2m2 0h2m5 0h3m1 0h1m1 0h1m81 0h1m6 0h1m2 0h6m1 0h2m1 0h1m4 0h1m6 0h1m3 0h1m2 0h4m2 0h2m3 0h1m5 0h2m1 0h1m11 0h1m64 0h1m2 0h1m3 0h2m2 0h1m3 0h1m3 0h1m1 0h1m2 0h2m1 0h2m1 0h3m2 0h4m2 0h1m10 0h1m3 0h3m6 0h1m85 0h1m1 0h2m1 0h2m3 0h1m4 0h3m1 0h3m3 0h4m2 0h2m1 0h5m1 0h1m1 0h2m8 0h1m1 0h3m91 0h1m3 0h2m1 0h1m3 0h4m1 0h1m5 0h1m4 0h2m1 0h1m6 0h3m3 0h1m19 0h2m86 0h1m2 0h1m9 0h1m1 0h1m1 0h3m1 0h1m4 0h1m2 0h3m9 0h1m10 0h1m1 0h1m1 0h1m5 0h1m-1810 1h3m6 0h2m2 0h2m1 0h2m2 0h1m1 0h3m4 0h1m4 0h1m5 0h1m4 0h1m89 0h1m1 0h2m3 0h1m5 0h1m2 0h1m4 0h1m1 0h2m3 0h1m2 0h4m7 0h3m15 0h1m1 0h1m7 0h1m1 0h1m105 0h2m2 0h1m3 0h2m9 0h1m12 0h1m115 0h3m2 0h1m2 0h1m4 0h2m10 0h1m1 0h3m2 0h1m14 0h1m85 0h1m7 0h1m2 0h3m1 0h1m5 0h1m1 0h1m2 0h4m2 0h2m108 0h1m4 0h1m1 0h2m5 0h1m3 0h3m2 0h1m1 0h1m4 0h1m2 0h1m1 0h1m2 0h3m1 0h2m2 0h1m11 0h1m83 0h1m3 0h6m1 0h2m1 0h1m12 0h1m6 0h2m12 0h1m2 0h1m73 0h1m3 0h3m2 0h2m1 0h2m1 0h2m5 0h3m1 0h1m1 0h2m4 0h1m6 0h1m1 0h1m1 0h3m9 0h5m1 0h1m83 0h1m9 0h2m2 0h1m1 0h2m3 0h3m3 0h2m1 0h1m4 0h4m2 0h1m2 0h1m7 0h1m4 0h1m5 0h1m6 0h1m81 0h1m3 0h1m8 0h1m1 0h7m3 0h2m1 0h1m4 0h1m6 0h1m1 0h1m2 0h1m2 0h2m4 0h2m82 0h1m7 0h1m8 0h1m4 0h1m3 0h5m2 0h2m1 0h2m3 0h2m3 0h3m3 0h1m11 0h1m1 0h2m70 0h2m2 0h1m1 0h1m7 0h2m4 0h1m1 0h2m2 0h1m2 0h1m1 0h2m6 0h1m4 0h1m2 0h3m3 0h1m3 0h1m3 0h1m2 0h1m110 0h1m5 0h1m5 0h2m1 0h1m2 0h1m3 0h1m7 0h4m10 0h1m-1799 1h1m5 0h1m16 0h1m11 0h2m115 0h1m2 0h1m2 0h2m2 0h2m21 0h2m300 0h1m5 0h1m97 0h1m29 0h1m112 0h1m5 0h2m2 0h2m3 0h3m2 0h6m1 0h1m1 0h1m14 0h1m1 0h2m93 0h1m3 0h1m5 0h2m9 0h1m1 0h3m3 0h1m2 0h1m3 0h2m3 0h1m1 0h4m4 0h1m3 0h1m74 0h2m2 0h1m1 0h2m1 0h1m3 0h4m4 0h4m2 0h2m2 0h2m1 0h1m1 0h1m2 0h1m1 0h1m3 0h1m2 0h2m6 0h1m95 0h1m5 0h1m2 0h1m2 0h1m3 0h2m11 0h1m6 0h1m9 0h1m98 0h1m4 0h1m5 0h3m1 0h1m1 0h4m5 0h1m5 0h2m2 0h1m4 0h1m1 0h1m3 0h1m8 0h1m84 0h1m2 0h4m1 0h2m5 0h1m1 0h1m1 0h1m6 0h5m2 0h4m3 0h3m6 0h1m81 0h1m6 0h1m17 0h1m2 0h1m3 0h1m1 0h1m2 0h1m2 0h1m1 0h1m2 0h1m4 0h2m1 0h1m8 0h1m1 0h1m122 0h1m1 0h1m3 0h1m4 0h1m3 0h1m5 0h1m-1636 1h1m3 0h1m3 0h1m586 0h1m2 0h1m7 0h1m6 0h1m116 0h1m4 0h1m2 0h2m2 0h1m5 0h1m3 0h2m3 0h1m2 0h1m96 0h3m1 0h1m3 0h3m3 0h2m2 0h1m2 0h1m2 0h6m4 0h1m4 0h1m4 0h1m7 0h1m121 0h1m3 0h1m120 0h1m1 0h4m3 0h1m4 0h1m2 0h6m2 0h2m3 0h1m6 0h1m8 0h1m92 0h1m3 0h1m3 0h1m1 0h1m6 0h1m1 0h1m5 0h3m1 0h3m6 0h1m6 0h1m96 0h2m12 0h1m2 0h1m5 0h1m1 0h1m9 0h1m1 0h1m6 0h1m-871 1h2m117 0h1m135 0h1m12 0h1m1 0h2m1 0h2m1 0h1m4 0h3m11 0h1m136 0h1m111 0h1m31 0h2m103 0h1m3 0h1m3 0h2m10 0h2m142 0h1m-581 1h1m4 0h2"/><path stroke="#ff0" d="M1090 11h1m301 0h1m139 0h1m-439 1h4m434 0h1m7 0h1m9 0h1m-1323 1h1m28 0h1m565 0h1m125 0h1m2 0h1m19 0h1m6 0h1m105 0h1m6 0h1m7 0h2m1 0h1m5 0h1m7 0h2m91 0h1m1 0h1m169 0h2m1 0h2m8 0h2m6 0h2m119 0h1m1 0h1m5 0h1m10 0h4m16 0h1m2 0h1m88 0h1m10 0h2m10 0h1m-1580 1h1m16 0h1m108 0h1m5 0h1m13 0h3m22 0h1m279 0h1m259 0h1m9 0h1m12 0h1m6 0h2m4 0h1m100 0h1m9 0h2m18 0h1m14 0h1m105 0h1m4 0h1m4 0h3m1 0h1m109 0h1m23 0h1m7 0h2m11 0h1m120 0h1m5 0h4m18 0h1m110 0h1m3 0h2m8 0h1m8 0h2m1 0h1m2 0h2m110 0h1m6 0h1m2 0h1m1 0h1m141 0h1m25 0h1m-1763 1h1m129 0h1m6 0h1m3 0h2m29 0h2m9 0h1m12 0h1m280 0h1m15 0h1m86 0h1m20 0h1m15 0h1m132 0h1m13 0h1m8 0h1m102 0h1m5 0h1m1 0h1m13 0h1m5 0h2m2 0h1m8 0h2m8 0h1m63 0h2m15 0h1m4 0h3m4 0h1m2 0h3m2 0h1m1 0h3m11 0h1m82 0h1m9 0h1m5 0h1m15 0h1m9 0h1m1 0h1m4 0h1m1 0h1m9 0h1m3 0h1m113 0h1m1 0h1m5 0h1m1 0h1m1 0h1m5 0h1m2 0h2m14 0h1m4 0h1m93 0h1m3 0h1m6 0h3m6 0h1m2 0h1m10 0h1m7 0h1m72 0h1m6 0h1m14 0h1m4 0h4m30 0h1m149 0h1m5 0h1m-1776 1h1m15 0h1m3 0h1m13 0h2m8 0h1m4 0h1m93 0h1m21 0h1m2 0h1m5 0h1m126 0h1m14 0h1m6 0h1m1 0h1m127 0h1m14 0h1m10 0h1m1 0h1m9 0h1m3 0h1m95 0h1m15 0h1m2 0h1m7 0h1m8 0h1m110 0h1m3 0h3m2 0h1m26 0h1m95 0h2m4 0h2m5 0h1m3 0h1m4 0h2m3 0h2m1 0h1m4 0h2m21 0h1m77 0h2m1 0h2m4 0h2m8 0h1m6 0h1m2 0h1m33 0h2m65 0h1m7 0h2m7 0h3m8 0h1m5 0h1m1 0h2m20 0h1m101 0h1m6 0h1m6 0h3m6 0h1m3 0h1m2 0h1m3 0h1m4 0h1m11 0h1m85 0h1m18 0h3m1 0h2m16 0h2m2 0h1m15 0h2m6 0h1m3 0h1m53 0h1m13 0h1m15 0h1m4 0h1m18 0h1m22 0h1m3 0h1m107 0h2m3 0h1m20 0h1m2 0h1m23 0h1m-1809 1h2m18 0h1m1 0h1m2 0h1m2 0h2m6 0h1m5 0h1m21 0h1m86 0h1m21 0h1m16 0h2m1 0h1m9 0h1m9 0h1m111 0h1m5 0h3m12 0h1m2 0h1m3 0h1m115 0h1m19 0h1m122 0h1m4 0h1m6 0h1m5 0h1m14 0h1m6 0h1m98 0h2m4 0h2m8 0h1m4 0h1m12 0h2m12 0h2m70 0h1m17 0h2m18 0h1m13 0h1m7 0h1m82 0h1m4 0h2m2 0h2m1 0h1m6 0h2m1 0h2m6 0h1m1 0h2m6 0h1m5 0h1m9 0h1m73 0h1m14 0h1m5 0h1m5 0h2m4 0h1m1 0h1m20 0h1m6 0h3m96 0h3m12 0h2m1 0h4m3 0h1m1 0h1m2 0h3m4 0h1m120 0h3m17 0h1m6 0h1m4 0h2m6 0h1m10 0h1m72 0h1m8 0h1m1 0h1m1 0h1m8 0h1m1 0h1m7 0h1m6 0h1m20 0h2m108 0h1m11 0h2m8 0h1m7 0h1m3 0h1m10 0h1m2 0h1m-1885 1h1m97 0h2m6 0h2m7 0h2m7 0h2m21 0h1m4 0h3m84 0h1m4 0h3m5 0h1m13 0h1m4 0h1m1 0h3m3 0h1m1 0h1m20 0h2m112 0h1m21 0h1m1 0h1m7 0h1m101 0h1m5 0h1m5 0h1m11 0h1m3 0h1m1 0h1m14 0h2m84 0h1m8 0h2m1 0h1m8 0h1m18 0h1m1 0h1m3 0h1m21 0h1m59 0h1m23 0h1m1 0h1m1 0h1m4 0h1m10 0h1m17 0h1m4 0h1m14 0h1m64 0h2m9 0h1m8 0h1m10 0h1m8 0h1m3 0h2m10 0h1m91 0h1m3 0h1m6 0h1m8 0h1m4 0h3m15 0h1m2 0h1m73 0h2m3 0h1m16 0h3m1 0h1m4 0h1m5 0h1m12 0h1m9 0h1m21 0h1m92 0h1m1 0h1m6 0h1m1 0h1m27 0h1m3 0h1m4 0h1m75 0h1m9 0h1m6 0h1m12 0h1m7 0h2m109 0h1m14 0h1m13 0h2m1 0h1m2 0h1m6 0h2m1 0h1m5 0h3m5 0h2m4 0h2m103 0h1m5 0h2m13 0h1m7 0h1m4 0h3m7 0h1m-1781 1h2m2 0h1m4 0h1m4 0h1m10 0h2m5 0h2m8 0h1m2 0h1m83 0h1m13 0h1m1 0h1m3 0h1m15 0h1m22 0h3m4 0h1m9 0h2m147 0h1m88 0h1m17 0h1m124 0h1m13 0h1m6 0h1m3 0h3m1 0h1m9 0h1m99 0h1m3 0h1m9 0h1m6 0h2m3 0h1m13 0h1m1 0h1m11 0h4m80 0h1m3 0h1m10 0h1m1 0h1m35 0h2m70 0h1m12 0h1m5 0h1m2 0h1m3 0h1m4 0h1m2 0h1m1 0h3m1 0h2m3 0h1m21 0h1m2 0h1m69 0h1m6 0h2m5 0h1m6 0h1m1 0h1m2 0h1m2 0h1m2 0h1m7 0h2m22 0h1m7 0h1m100 0h1m12 0h1m12 0h1m3 0h1m9 0h1m19 0h1m86 0h4m4 0h1m1 0h1m9 0h2m8 0h1m8 0h1m9 0h1m1 0h1m66 0h1m4 0h1m2 0h1m21 0h1m12 0h1m138 0h1m1 0h3m8 0h1m15 0h2m1 0h2m-1883 1h1m97 0h1m10 0h1m2 0h1m2 0h1m8 0h1m4 0h1m1 0h1m13 0h2m2 0h1m14 0h1m123 0h1m2 0h1m2 0h1m3 0h1m106 0h2m28 0h1m7 0h1m103 0h1m14 0h1m8 0h1m3 0h2m6 0h2m9 0h1m1 0h1m11 0h1m95 0h3m7 0h1m16 0h1m5 0h1m95 0h1m18 0h1m1 0h1m9 0h2m11 0h1m3 0h1m26 0h1m59 0h1m5 0h2m24 0h1m19 0h1m78 0h1m2 0h2m2 0h1m4 0h1m2 0h1m2 0h2m3 0h1m2 0h2m4 0h1m1 0h1m12 0h1m37 0h1m65 0h2m21 0h1m3 0h1m1 0h1m5 0h1m107 0h1m2 0h2m9 0h2m1 0h1m4 0h1m7 0h1m11 0h2m5 0h1m2 0h2m99 0h1m5 0h1m2 0h3m21 0h1m5 0h1m2 0h1m98 0h1m1 0h1m3 0h1m15 0h1m2 0h1m7 0h1m9 0h2m118 0h1m10 0h2m-1759 1h1m2 0h1m10 0h1m9 0h1m1 0h1m2 0h2m8 0h1m1 0h1m3 0h1m2 0h1m7 0h1m115 0h1m15 0h1m17 0h1m99 0h1m27 0h1m2 0h1m128 0h1m2 0h1m24 0h1m108 0h1m6 0h1m4 0h2m2 0h1m7 0h1m98 0h1m22 0h1m12 0h1m1 0h1m22 0h1m104 0h1m6 0h1m23 0h1m61 0h1m37 0h1m10 0h1m3 0h1m1 0h1m10 0h1m1 0h1m5 0h1m120 0h1m2 0h1m18 0h1m10 0h1m99 0h2m4 0h1m6 0h1m122 0h1m3 0h2m30 0h1m108 0h1m12 0h1m143 0h1m2 0h3m21 0h1m2 0h1m6 0h2m-1761 1h2m1 0h3m126 0h1m11 0h1m8 0h2m18 0h2m2 0h1m141 0h2m6 0h1m7 0h1m159 0h1m90 0h2m10 0h1m121 0h1m4 0h1m18 0h1m3 0h1m14 0h1m130 0h1m82 0h1m11 0h1m5 0h1m32 0h1m118 0h1m4 0h1m112 0h1m8 0h2m23 0h1m9 0h1m4 0h2m104 0h1m21 0h1m1 0h1m3 0h1m117 0h1m14 0h1m153 0h1m27 0h1m-1750 1h3m148 0h1m142 0h1m49 0h1m123 0h1m115 0h1m16 0h1m5 0h2m251 0h1m7 0h1m95 0h1m23 0h1m183 0h1m125 0h2m251 0h1m16 0h1m171 0h1m9 0h5m-1774 1h1m454 0h2m24 1h1m6 0h1m121 0h1m-614 1h1m19 0h1m149 0h1m276 0h1m23 0h1m509 0h1m25 0h1m14 0h1m425 0h2m159 0h1m140 0h1m-1758 1h1m4 0h1m4 0h1m16 0h2m23 0h1m89 0h1m12 0h1m2 0h1m24 0h1m155 0h1m25 0h1m86 0h1m16 0h1m17 0h1m7 0h1m81 0h1m168 0h2m1 0h1m16 0h1m114 0h1m127 0h1m1 0h2m14 0h1m285 0h1m8 0h2m118 0h1m26 0h1m122 0h1m15 0h2m15 0h3m-1641 1h1m14 0h1m1 0h1m9 0h3m29 0h1m97 0h1m15 0h1m147 0h1m43 0h1m108 0h2m114 0h1m148 0h1m4 0h1m10 0h2m7 0h1m6 0h2m4 0h1m119 0h1m13 0h1m115 0h1m3 0h1m26 0h1m122 0h1m2 0h2m2 0h1m121 0h1m169 0h1m14 0h1m89 0h2m8 0h1m2 0h2m2 0h1m2 0h1m4 0h1m5 0h2m30 0h1m113 0h1m1 0h1m12 0h1m4 0h1m-1890 1h1m90 0h1m15 0h1m16 0h1m2 0h3m8 0h1m1 0h1m107 0h1m4 0h1m7 0h1m5 0h1m10 0h1m1 0h1m3 0h1m122 0h2m2 0h1m12 0h1m5 0h2m8 0h1m3 0h1m121 0h1m7 0h1m3 0h1m118 0h2m6 0h3m15 0h1m5 0h1m116 0h1m4 0h1m11 0h1m108 0h1m11 0h1m1 0h5m7 0h1m6 0h1m5 0h3m12 0h2m85 0h1m5 0h2m2 0h1m2 0h1m3 0h1m31 0h1m14 0h1m82 0h1m35 0h1m4 0h1m102 0h1m17 0h1m2 0h1m9 0h1m1 0h1m4 0h1m12 0h3m112 0h1m121 0h1m3 0h1m7 0h1m4 0h1m30 0h1m110 0h1m1 0h2m8 0h1m13 0h2m15 0h2m-1894 1h1m88 0h1m14 0h1m3 0h1m3 0h1m4 0h1m2 0h1m1 0h1m6 0h1m8 0h1m7 0h1m6 0h2m66 0h1m47 0h2m8 0h1m16 0h1m4 0h1m115 0h2m3 0h1m27 0h1m3 0h2m86 0h1m14 0h1m2 0h2m2 0h1m6 0h1m18 0h2m112 0h2m2 0h1m24 0h1m117 0h1m3 0h1m1 0h1m7 0h1m1 0h1m4 0h2m95 0h1m2 0h1m7 0h1m14 0h1m18 0h1m6 0h1m80 0h1m3 0h1m10 0h1m3 0h1m1 0h1m7 0h1m3 0h1m28 0h1m5 0h1m78 0h1m5 0h2m1 0h1m9 0h1m10 0h1m18 0h2m4 0h1m3 0h1m91 0h1m9 0h1m1 0h2m10 0h1m15 0h1m1 0h1m101 0h1m8 0h2m8 0h1m3 0h1m1 0h2m2 0h2m1 0h1m91 0h1m9 0h1m2 0h1m5 0h1m2 0h2m2 0h1m3 0h1m17 0h2m6 0h1m9 0h1m110 0h1m11 0h1m1 0h1m9 0h1m5 0h1m12 0h1m-1883 1h1m81 0h1m5 0h1m1 0h1m6 0h2m2 0h2m6 0h1m2 0h1m32 0h1m72 0h1m19 0h1m3 0h1m2 0h1m7 0h1m2 0h1m1 0h1m4 0h2m6 0h1m2 0h1m14 0h1m138 0h1m109 0h1m17 0h1m1 0h1m10 0h1m119 0h1m2 0h2m23 0h1m1 0h1m4 0h1m90 0h3m3 0h1m1 0h1m7 0h1m3 0h5m3 0h1m2 0h1m4 0h1m3 0h1m7 0h1m90 0h1m4 0h2m4 0h1m2 0h2m4 0h1m3 0h2m8 0h1m102 0h2m1 0h1m5 0h1m3 0h1m3 0h1m2 0h1m2 0h2m1 0h1m1 0h2m1 0h1m3 0h1m2 0h1m11 0h1m5 0h3m88 0h1m11 0h1m2 0h2m8 0h1m8 0h2m12 0h1m102 0h2m3 0h2m4 0h1m4 0h1m4 0h3m5 0h1m12 0h1m4 0h1m2 0h2m79 0h1m23 0h2m19 0h1m11 0h2m80 0h1m1 0h1m9 0h1m11 0h1m9 0h1m1 0h2m10 0h1m14 0h1m124 0h1m8 0h1m6 0h1m-1774 1h1m2 0h1m6 0h4m5 0h1m99 0h1m4 0h1m3 0h2m7 0h2m24 0h3m5 0h1m7 0h2m3 0h1m102 0h1m7 0h2m27 0h2m6 0h2m127 0h1m2 0h1m11 0h1m108 0h2m6 0h1m5 0h2m132 0h2m5 0h1m6 0h2m12 0h1m2 0h1m1 0h1m2 0h1m19 0h1m69 0h1m2 0h1m1 0h1m3 0h1m5 0h1m1 0h1m1 0h2m6 0h1m1 0h4m8 0h3m86 0h1m8 0h2m3 0h2m7 0h1m1 0h2m2 0h2m1 0h1m1 0h1m1 0h2m2 0h2m1 0h3m4 0h1m2 0h2m5 0h3m2 0h1m98 0h1m1 0h2m9 0h1m1 0h3m1 0h1m1 0h2m7 0h1m5 0h1m7 0h1m3 0h2m10 0h1m74 0h2m1 0h1m7 0h1m6 0h1m2 0h1m23 0h1m4 0h1m82 0h1m17 0h1m1 0h3m12 0h1m14 0h1m3 0h1m3 0h1m82 0h1m3 0h1m1 0h1m2 0h1m3 0h1m8 0h1m8 0h1m3 0h1m8 0h2m3 0h1m1 0h1m9 0h1m12 0h2m92 0h1m4 0h1m25 0h1m6 0h1m10 0h1m4 0h1m6 0h1m3 0h1m-1803 1h1m4 0h1m2 0h1m1 0h1m1 0h2m19 0h1m93 0h1m7 0h1m5 0h1m32 0h1m120 0h1m9 0h1m21 0h1m11 0h2m114 0h1m20 0h2m100 0h1m4 0h2m16 0h1m12 0h1m4 0h1m91 0h1m23 0h2m5 0h1m1 0h1m9 0h1m11 0h1m5 0h1m4 0h1m82 0h2m5 0h1m2 0h1m1 0h1m5 0h1m9 0h2m5 0h2m1 0h2m18 0h1m89 0h1m5 0h1m1 0h1m2 0h2m4 0h1m3 0h1m2 0h1m5 0h1m11 0h1m1 0h1m5 0h1m101 0h1m5 0h1m12 0h1m1 0h2m2 0h1m2 0h1m1 0h1m5 0h2m6 0h1m79 0h1m8 0h2m14 0h1m3 0h1m12 0h5m4 0h1m4 0h2m4 0h1m98 0h2m7 0h2m8 0h1m86 0h1m18 0h2m6 0h1m2 0h1m7 0h1m5 0h1m1 0h1m8 0h1m3 0h1m2 0h1m3 0h1m2 0h1m123 0h1m32 0h2m-1803 1h1m27 0h1m2 0h1m4 0h2m7 0h1m9 0h1m81 0h1m18 0h1m2 0h1m5 0h1m8 0h1m28 0h1m123 0h1m162 0h2m139 0h1m3 0h1m2 0h1m124 0h1m12 0h2m3 0h1m2 0h1m1 0h1m3 0h1m85 0h1m14 0h1m2 0h2m5 0h1m4 0h1m1 0h1m9 0h3m1 0h1m8 0h1m81 0h1m12 0h1m8 0h1m1 0h1m1 0h1m2 0h2m5 0h1m13 0h1m100 0h2m13 0h1m2 0h1m11 0h1m11 0h1m101 0h1m13 0h1m9 0h1m5 0h1m7 0h1m3 0h1m11 0h1m9 0h1m84 0h1m14 0h3m5 0h1m123 0h1m8 0h1m1 0h1m3 0h1m4 0h1m2 0h1m4 0h1m5 0h1m14 0h1m107 0h1m10 0h1m4 0h1m6 0h1m1 0h2m4 0h1m3 0h1m-1758 1h1m115 0h1m3 0h1m3 0h2m13 0h1m335 0h1m239 0h1m4 0h2m11 0h1m6 0h1m2 0h1m3 0h1m96 0h1m9 0h1m3 0h1m7 0h1m13 0h2m92 0h1m5 0h1m3 0h2m7 0h1m2 0h1m1 0h1m6 0h2m1 0h1m7 0h2m19 0h1m115 0h1m117 0h1m7 0h1m8 0h1m7 0h2m13 0h2m3 0h1m91 0h1m5 0h1m4 0h1m4 0h1m17 0h1m11 0h1m103 0h1m3 0h1m11 0h1m1 0h2m4 0h1m13 0h1m122 0h1m33 0h1m3 0h1m-1034 1h1m127 0h1m1 0h2m7 0h1m4 0h1m115 0h1m25 0h1m2 0h1m3 0h2m124 0h1m123 0h2m2 0h1m15 0h1m138 0h1m132 0h1m14 0h1m178 0h1m-766 1h1m7 0h1m16 0h1m282 0h2m120 0h1m-452 1h2m23 0h1m299 0h1"/></g><path transform="translate(69.000 527.9) scale(0.51713 0.41060)" fill="#000" d="M0 0V-100h1V-51h1V-54h1V-30h1V-23h1V-26h1V-18h1V-32h1V-25h1V-17h1V-38h1V-27h1V-21h1V-21h1V-2h1V-17h1V-2h1V-3h1V-11h1V-3h1V-2h1V-5h1V-2h1V-2h1V-15h1V-9h1V-1h1V-1h1V-2h1V-3h1V-12h1V-9h1V-2h1V-7h1V-1h1V-12h1V-1h1V-2h1V-5h1V-5h1V-7h1V-1h1V-1h1V-7h1V-2h1V-6h1V-7h1V-2h1V-1h1V-1h1V-1h1V-1h1V-6h1V-1h1V-1h1V-1h1V-1h1V-1h1V-1h1V-0h1V-1h1V-1h1V-1h1V-1h1V-3h1V-1h1V-1h1V-1h1V-1h1V-1h1V-1h1V-1h1V-6h1V-1h1V-17h1V-2h1V-20h1V-16h1V-4h1V-24h1V-24h1V-31h1V-57h1V-66h1V-47h1V-55h1V-74h1V-61h1V-39h1V-122h1V-80h1V-59h1V-93h1V-115h1V-72h1V-90h1V-154h1V-24h1V-114h1V-61h1V-66h1V-83h1V-83h1V-75h1V-66h1V-76h1V-42h1V-107h1V-78h1V-87h1V-55h1V-141h1V-127h1V-100h1V-190h1V-66h1V-86h1V-82h1V-77h1V-70h1V-197h1V-100h1V-155h1V-200h1V-97h1V-180h1V-200h1V-94h1V-127h1V-127h1V-102h1V-106h1V-88h1V-83h1V-131h1V-84h1V-177h1V-178h1V-163h1V-109h1V-194h1V-117h1V-117h1V-74h1V-70h1V-82h1V-75h1V-100h1V-60h1V-58h1V-56h1V-90h1V-67h1V-85h1V-64h1V-59h1V-42h1V-143h1V-75h1V-61h1V-61h1V-90h1V-32h1V-48h1V-22h1V-62h1V-41h1V-64h1V-31h1V-15h1V-23h1V-30h1V-2h1V-2h1V-30h1V-10h1V-2h1V-23h1V-1h1V-4h1V-12h1V-18h1V-2h1V-15h1V-2h1V-2h1V-21h1V-1h1V-1h1V-3h1V-1h1V-1h1V-15h1V-1h1V-0h1V-1h1V-1h1V-2h1V-1h1V-1h1V-1h1V-0h1V-2h1V-0h1V-0h1V-0h1V-4h1V-0h1V-1h1V-1h1V-0h1V-0h1V-0h1V-0h1V-0h1V-1h1V-6h1V-2h1V-1h1V-2h1V-29h1V-36h1V-34h1V-7h1V-3h1V-33h1V-33h1V-35h1V-66h1V-70h1V-44h1V-41h1V-28h1V-40h1V-61h1V-61h1V-80h1V-60h1V-80h1V-81h1V-83h1V-113h1V-64h1V-135h1V-85h1V-70h1V-126h1V-100h1V-143h1V-112h1V-161h1V-200h1V-127h1V-146h1V-182h1V-76h1V-196h1V-143h1V-192h1V-235h1V-154h1V-154h1V-121h1V-220h1V-106h1V-141h1V-122h1V-148h1V-160h1V-101h1V-162h1V-124h1V-84h1V-106h1V-117h1V-144h1V-86h1V-134h1V-114h1V-200h1V-78h1V-120h1V-140h1V-95h1V-143h1V-148h1V-101h1V-192h1V-127h1V-48h1V-60h1V-70h1V-78h1V-63h1V-112h1V-63h1V-61h1V-55h1V-57h1V-54h1V-67h1V-60h1V-38h1V-72h1V-46h1V-51h1V-48h1V-59h1V-84h1V-51h1V-67h1V-57h1V-56h1V-17h1V-19h1V-23h1V-32h1V-38h1V-30h1V-46h1V-26h1V-43h1V-30h1V-5h1V-11h1V-3h1V-6h1V-3h1V-2h1V-3h1V-19h1V-2h1V-16h1V-8h1V-9h1V-1h1V-2h1V-9h1V-3h1V-8h1V-1h1V-8h1V-5h1V-8h1V-1h1V-1h1V-4h1V-11h1V-1h1V-1h1V-1h1V-6h1V-0h1V-4h1V-0h1V-3h1V-0h1V-1h1V-0h1V-12h1V-1h1V-0h1V-1h1V-0h1V-1h1V-1h1V-0h1V-0h1V-1h1V-1h1V-0h1V-1h1V-1h1V-1h1V-6h1V-2h1V-1h1V-1h1V-1h1V-2h1V-1h1V-12h1V-5h1V-3h1V-4h1V-2h1V-3h1V-21h1V-24h1V-25h1V-22h1V-47h1V-39h1V-48h1V-2h1V-5h1V-24h1V-47h1V-76h1V-14h1V-30h1V-42h1V-41h1V-79h1V-36h1V-42h1V-54h1V-46h1V-76h1V-60h1V-66h1V-51h1V-114h1V-74h1V-58h1V-59h1V-70h1V-138h1V-61h1V-50h1V-49h1V-220h1V-137h1V-77h1V-63h1V-50h1V-65h1V-109h1V-161h1V-110h1V-80h1V-69h1V-101h1V-79h1V-105h1V-202h1V-77h1V-73h1V-220h1V-93h1V-176h1V-163h1V-133h1V-60h1V-60h1V-86h1V-67h1V-87h1V-133h1V-54h1V-107h1V-64h1V-83h1V-90h1V-100h1V-74h1V-172h1V-39h1V-67h1V-118h1V-57h1V-70h1V-220h1V-97h1V-102h1V-89h1V-113h1V-80h1V-124h1V-40h1V-48h1V-57h1V-68h1V-82h1V-46h1V-82h1V-26h1V-35h1V-85h1V-33h1V-46h1V-35h1V-30h1V-78h1V-85h1V-6h1V-21h1V-22h1V-21h1V-3h1V-23h1V-22h1V-9h1V-1h1V-2h1V-2h1V-21h1V-12h1V-2h1V-10h1V-2h1V-2h1V-1h1V-1h1V-9h1V-1h1V-1h1V-2h1V-2h1V-2h1V-1h1V-4h1V-1h1V-1h1V-1h1V-1h1V-5h1V-1h1V-1h1V-7h1V-1h1V-7h1V-1h1V-0h1V-0h1V-0h1V-7h1V-1h1V-1h1V-1h1V-8h1V-7h1V-6h1V-2h1V-1h1V-2h1V-10h1V-1h1V-11h1V-2h1V-15h1V-26h1V-17h1V-3h1V-4h1V-24h1V-45h1V-44h1V-6h1V-66h1V-60h1V-48h1V-43h1V-56h1V-58h1V-72h1V-94h1V-79h1V-69h1V-65h1V-64h1V-102h1V-95h1V-158h1V-81h1V-113h1V-92h1V-190h1V-142h1V-78h1V-105h1V-126h1V-102h1V-98h1V-85h1V-122h1V-111h1V-101h1V-85h1V-117h1V-300h1V-208h1V-147h1V-300h1V-258h1V-202h1V-116h1V-250h1V-153h1V-184h1V-206h1V-287h1V-159h1V-155h1V-152h1V-132h1V-99h1V-79h1V-104h1V-167h1V-213h1V-106h1V-107h1V-93h1V-99h1V-75h1V-47h1V-84h1V-140h1V-90h1V-81h1V-64h1V-104h1V-79h1V-79h1V-84h1V-84h1V-93h1V-108h1V-66h1V-56h1V-54h1V-68h1V-40h1V-92h1V-49h1V-60h1V-39h1V-62h1V-82h1V-45h1V-37h1V-27h1V-38h1V-30h1V-32h1V-38h1V-7h1V-4h1V-52h1V-36h1V-43h1V-5h1V-21h1V-4h1V-3h1V-2h1V-3h1V-1h1V-1h1V-1h1V-8h1V-8h1V-13h1V-1h1V-1h1V-9h1V-4h1V-1h1V-4h1V-4h1V-0h1V-0h1V-2h1V-0h1V-4h1V-5h1V-7h1V-6h1V-2h1V-17h1V-4h1V-34h1V-3h1V-18h1V-48h1V-4h1V-40h1V-42h1V-48h1V-29h1V-37h1V-49h1V-71h1V-126h1V-64h1V-165h1V-73h1V-74h1V-280h1V-66h1V-69h1V-330h1V-68h1V-109h1V-123h1V-80h1V-77h1V-95h1V-122h1V-131h1V-78h1V-81h1V-94h1V-54h1V-84h1V-44h1V-78h1V-198h1V-148h1V-154h1V-181h1V-145h1V-103h1V-79h1V-140h1V-72h1V-92h1V-64h1V-90h1V-86h1V-141h1V-185h1V-87h1V-79h1V-139h1V-59h1V-103h1V-133h1V-74h1V-132h1V-61h1V-240h1V-115h1V-59h1V-69h1V-254h1V-52h1V-73h1V-119h1V-75h1V-93h1V-87h1V-71h1V-104h1V-71h1V-36h1V-49h1V-85h1V-77h1V-37h1V-43h1V-36h1V-47h1V-51h1V-32h1V-38h1V-37h1V-41h1V-7h1V-24h1V-39h1V-3h1V-2h1V-3h1V-2h1V-2h1V-2h1V-2h1V-1h1V-2h1V-24h1V-13h1V-10h1V-7h1V-12h1V-13h1V-20h1V-1h1V-2h1V-1h1V-10h1V-8h1V-2h1V-1h1V-1h1V-1h1V-20h1V-9h1V-1h1V-6h1V-5h1V-3h1V-1h1V-0h1V-1h1V-1h1V-1h1V-0h1V-1h1V-0h1V-3h1V-0h1V-1h1V-2h1V-5h1V-1h1V-1h1V-3h1V-2h1V-3h1V-16h1V-3h1V-6h1V-26h1V-36h1V-51h1V-39h1V-19h1V-55h1V-85h1V-30h1V-65h1V-47h1V-126h1V-48h1V-56h1V-53h1V-122h1V-89h1V-209h1V-108h1V-58h1V-203h1V-130h1V-168h1V-112h1V-207h1V-92h1V-195h1V-180h1V-196h1V-188h1V-171h1V-281h1V-177h1V-310h1V-196h1V-173h1V-170h1V-134h1V-291h1V-155h1V-192h1V-185h1V-256h1V-175h1V-143h1V-159h1V-137h1V-206h1V-242h1V-260h1V-139h1V-230h1V-105h1V-152h1V-164h1V-64h1V-212h1V-131h1V-263h1V-142h1V-197h1V-136h1V-123h1V-87h1V-310h1V-235h1V-200h1V-82h1V-111h1V-130h1V-222h1V-187h1V-107h1V-196h1V-91h1V-77h1V-77h1V-130h1V-129h1V-99h1V-109h1V-161h1V-84h1V-71h1V-75h1V-59h1V-63h1V-45h1V-63h1V-37h1V-57h1V-47h1V-47h1V-89h1V-84h1V-71h1V-49h1V-74h1V-63h1V-66h1V-51h1V-72h1V-26h1V-41h1V-30h1V-37h1V-23h1V-63h1V-24h1V-19h1V-29h1V-21h1V-3h1V-35h1V-6h1V-2h1V-1h1V-14h1V-11h1V-2h1V-1h1V-1h1V-7h1V-1h1V-1h1V-1h1V-1h1V-1h1V-1h1V-0h1V-10h1V-3h1V-20h1V-3h1V-23h1V-3h1V-52h1V-37h1V-31h1V-63h1V-56h1V-52h1V-71h1V-69h1V-57h1V-154h1V-109h1V-92h1V-163h1V-182h1V-153h1V-132h1V-105h1V-143h1V-138h1V-186h1V-198h1V-246h1V-165h1V-245h1V-275h1V-245h1V-197h1V-410h1V-265h1V-320h1V-188h1V-268h1V-190h1V-244h1V-372h1V-143h1V-187h1V-159h1V-268h1V-370h1V-163h1V-153h1V-149h1V-132h1V-299h1V-166h1V-116h1V-186h1V-163h1V-152h1V-193h1V-171h1V-98h1V-127h1V-103h1V-133h1V-94h1V-65h1V-275h1V-205h1V-239h1V-187h1V-130h1V-159h1V-78h1V-130h1V-183h1V-159h1V-126h1V-171h1V-220h1V-249h1V-61h1V-318h1V-107h1V-99h1V-121h1V-86h1V-69h1V-88h1V-62h1V-63h1V-107h1V-68h1V-84h1V-162h1V-83h1V-69h1V-91h1V-158h1V-81h1V-98h1V-47h1V-56h1V-84h1V-88h1V-51h1V-38h1V-34h1V-22h1V-17h1V-3h1V-14h1V-7h1V-19h1V-24h1V-2h1V-6h1V-3h1V-20h1V-2h1V-22h1V-2h1V-15h1V-3h1V-2h1V-9h1V-8h1V-8h1V-9h1V-2h1V-1h1V-5h1V-2h1V-8h1V-1h1V-5h1V-1h1V-1h1V-1h1V-6h1V-4h1V-1h1V-2h1V-40h1V-10h1V-11h1V-44h1V-96h1V-114h1V-99h1V-89h1V-156h1V-86h1V-106h1V-168h1V-209h1V-259h1V-276h1V-93h1V-145h1V-201h1V-337h1V-388h1V-189h1V-282h1V-291h1V-251h1V-234h1V-473h1V-366h1V-325h1V-204h1V-308h1V-265h1V-287h1V-329h1V-298h1V-470h1V-299h1V-130h1V-156h1V-413h1V-276h1V-490h1V-218h1V-256h1V-507h1V-507h1V-273h1V-379h1V-509h1V-189h1V-325h1V-216h1V-201h1V-510h1V-238h1V-347h1V-245h1V-269h1V-319h1V-329h1V-180h1V-276h1V-284h1V-480h1V-387h1V-318h1V-206h1V-313h1V-227h1V-366h1V-204h1V-180h1V-307h1V-131h1V-142h1V-112h1V-264h1V-147h1V-128h1V-122h1V-123h1V-171h1V-106h1V-126h1V-150h1V-107h1V-94h1V-106h1V-55h1V-187h1V-101h1V-108h1V-106h1V-61h1V-86h1V-80h1V-60h1V-92h1V-100h1V-61h1V-173h1V-110h1V-59h1V-56h1V-40h1V-22h1V-37h1V-68h1V-76h1V-49h1V-4h1V-4h1V-7h1V-31h1V-6h1V-25h1V-14h1V-2h1V-5h1V-17h1V-14h1V-17h1V-2h1V-2h1V-2h1V-2h1V-2h1V-1h1V-2h1V-1h1V-7h1V-1h1V-4h1V-5h1V-0h1V-1h1V-0h1V-0h1V-4h1V-0h1V-7h1V-1h1V-2h1V-1h1V-1h1V-16h1V-29h1V-52h1V-45h1V-42h1V-38h1V-58h1V-48h1V-87h1V-66h1V-61h1V-78h1V-76h1V-80h1V-120h1V-55h1V-64h1V-82h1V-77h1V-94h1V-72h1V-151h1V-102h1V-121h1V-189h1V-140h1V-174h1V-139h1V-300h1V-112h1V-125h1V-147h1V-299h1V-154h1V-146h1V-178h1V-168h1V-122h1V-195h1V-142h1V-131h1V-133h1V-102h1V-103h1V-193h1V-230h1V-231h1V-101h1V-137h1V-168h1V-100h1V-108h1V-144h1V-148h1V-208h1V-235h1V-138h1V-138h1V-206h1V-106h1V-253h1V-102h1V-175h1V-206h1V-127h1V-174h1V-272h1V-125h1V-204h1V-162h1V-94h1V-107h1V-117h1V-110h1V-72h1V-178h1V-106h1V-128h1V-100h1V-74h1V-149h1V-91h1V-44h1V-148h1V-70h1V-116h1V-44h1V-60h1V-66h1V-55h1V-44h1V-98h1V-59h1V-53h1V-73h1V-61h1V-72h1V-59h1V-39h1V-74h1V-32h1V-46h1V-52h1V-50h1V-50h1V-63h1V-43h1V-6h1V-34h1V-44h1V-21h1V-26h1V-37h1V-15h1V-65h1V-15h1V-3h1V-4h1V-3h1V-3h1V-1h1V-2h1V-16h1V-1h1V-2h1V-11h1V-1h1V-5h1V-20h1V-13h1V-4h1V-2h1V-13h1V-1h1V-2h1V-1h1V-7h1V-2h1V-3h1V-2h1V-4h1V-1h1V-1h1V-6h1V-5h1V-1h1V-1h1V-1h1V-1h1V-9h1V-4h1V-4h1V-1h1V-3h1V-10h1V-4h1V-15h1V-4h1V-51h1V-46h1V-50h1V-69h1V-81h1V-97h1V-108h1V-72h1V-77h1V-127h1V-94h1V-92h1V-235h1V-122h1V-118h1V-303h1V-174h1V-175h1V-298h1V-225h1V-224h1V-275h1V-205h1V-340h1V-376h1V-238h1V-260h1V-241h1V-281h1V-263h1V-343h1V-355h1V-381h1V-172h1V-385h1V-202h1V-334h1V-157h1V-131h1V-244h1V-303h1V-281h1V-370h1V-262h1V-237h1V-368h1V-385h1V-276h1V-219h1V-317h1V-239h1V-380h1V-400h1V-125h1V-176h1V-213h1V-142h1V-205h1V-299h1V-400h1V-211h1V-207h1V-112h1V-172h1V-242h1V-152h1V-324h1V-279h1V-123h1V-134h1V-137h1V-78h1V-125h1V-68h1V-122h1V-42h1V-98h1V-86h1V-126h1V-56h1V-197h1V-72h1V-150h1V-172h1V-77h1V-115h1V-69h1V-74h1V-39h1V-29h1V-37h1V-5h1V-42h1V-18h1V-11h1V-2h1V-1h1V-3h1V-2h1V-19h1V-17h1V-2h1V-2h1V-2h1V-2h1V-1h1V-8h1V-1h1V-7h1V-1h1V-1h1V-1h1V-0h1V-1h1V-1h1V-1h1V-1h1V-2h1V-1h1V-1h1V-2h1V-1h1V-1h1V-1h1V-0h1V-2h1V-1h1V-0h1V-0h1V-10h1V-12h1V-3h1V-2h1V-3h1V-5h1V-40h1V-38h1V-74h1V-215h1V-93h1V-114h1V-101h1V-179h1V-186h1V-210h1V-339h1V-283h1V-247h1V-155h1V-166h1V-113h1V-283h1V-266h1V-370h1V-291h1V-368h1V-231h1V-227h1V-205h1V-117h1V-360h1V-155h1V-307h1V-361h1V-127h1V-250h1V-173h1V-202h1V-184h1V-206h1V-194h1V-222h1V-341h1V-111h1V-254h1V-112h1V-111h1V-370h1V-212h1V-273h1V-143h1V-177h1V-176h1V-369h1V-120h1V-353h1V-261h1V-151h1V-210h1V-93h1V-142h1V-86h1V-311h1V-174h1V-89h1V-166h1V-117h1V-176h1V-98h1V-110h1V-161h1V-175h1V-95h1V-50h1V-77h1V-71h1V-47h1V-48h1V-40h1V-27h1V-90h1V-35h1V-37h1V-85h1V-42h1V-41h1V-4h1V-27h1V-42h1V-35h1V-5h1V-25h1V-17h1V-18h1V-5h1V-17h1V-16h1V-17h1V-3h1V-2h1V-19h1V-19h1V-2h1V-11h1V-9h1V-1h1V-8h1V-8h1V-1h1V-1h1V-1h1V-1h1V-1h1V-1h1V-0h1V-0h1V-4h1V-1h1V-0h1V-1h1V-1h1V-2h1V-0h1V-1h1V-0h1V-4h1V-2h1V-2h1V-1h1V-0h1V-0h1V-0h1V-0h1V-0h1V-0h1V-1h1V-1h1V-1h1V-2h1V-1h1V-13h1V-10h1V-16h1V-9h1V-22h1V-3h1V-31h1V-41h1V-48h1V-49h1V-64h1V-133h1V-68h1V-74h1V-107h1V-100h1V-126h1V-78h1V-86h1V-201h1V-268h1V-196h1V-120h1V-167h1V-194h1V-158h1V-248h1V-277h1V-227h1V-235h1V-224h1V-174h1V-290h1V-236h1V-174h1V-145h1V-148h1V-143h1V-270h1V-289h1V-248h1V-283h1V-219h1V-244h1V-123h1V-151h1V-185h1V-189h1V-100h1V-118h1V-229h1V-138h1V-109h1V-289h1V-290h1V-157h1V-173h1V-256h1V-144h1V-193h1V-150h1V-195h1V-283h1V-204h1V-275h1V-199h1V-152h1V-98h1V-120h1V-96h1V-122h1V-142h1V-150h1V-146h1V-133h1V-165h1V-122h1V-111h1V-99h1V-215h1V-113h1V-55h1V-137h1V-72h1V-132h1V-123h1V-66h1V-130h1V-67h1V-43h1V-105h1V-57h1V-75h1V-60h1V-89h1V-94h1V-55h1V-48h1V-90h1V-67h1V-107h1V-58h1V-48h1V-90h1V-61h1V-50h1V-66h1V-60h1V-47h1V-61h1V-45h1V-51h1V-31h1V-61h1V-8h1V-34h1V-56h1V-39h1V-40h1V-4h1V-12h1V-4h1V-21h1V-23h1V-2h1V-3h1V-2h1V-3h1V-19h1V-3h1V-16h1V-2h1V-3h1V-2h1V-2h1V-10h1V-1h1V-1h1V-6h1V-1h1V-2h1V-1h1V-1h1V-2h1V-1h1V-8h1V-1h1V-1h1V-1h1V-1h1V-1h1V-1h1V-5h1V-1h1V-5h1V-1h1V-0h1V-3h1V-1h1V-0h1V-1h1V-3h1V-9h1V-2h1V-21h1V-4h1V-7h1V-35h1V-42h1V-38h1V-11h1V-41h1V-63h1V-70h1V-46h1V-97h1V-82h1V-115h1V-117h1V-55h1V-128h1V-48h1V-52h1V-82h1V-65h1V-159h1V-97h1V-140h1V-45h1V-140h1V-76h1V-94h1V-85h1V-34h1V-67h1V-101h1V-119h1V-85h1V-105h1V-56h1V-98h1V-170h1V-72h1V-171h1V-118h1V-166h1V-164h1V-96h1V-86h1V-54h1V-77h1V-159h1V-138h1V-119h1V-96h1V-74h1V-180h1V-180h1V-116h1V-170h1V-81h1V-129h1V-122h1V-107h1V-140h1V-96h1V-108h1V-124h1V-180h1V-61h1V-67h1V-116h1V-42h1V-55h1V-64h1V-82h1V-67h1V-82h1V-70h1V-111h1V-78h1V-43h1V-72h1V-42h1V-72h1V-63h1V-147h1V-154h1V-58h1V-129h1V-71h1V-33h1V-51h1V-33h1V0Z"/></g>
<path d="M108.75 38.25V243.75M178.00 38.25V243.75M247.25 38.25V243.75M316.50 38.25V243.75M385.75 38.25V243.75M455.00 38.25V243.75M524.25 38.25V243.75M593.50 38.25V243.75M662.75 38.25V243.75M732.00 38.25V243.75M801.25 38.25V243.75M870.50 38.25V243.75M939.75 38.25V243.75M1009.00 38.25V243.75M108.75 322.6V527.9M178.00 322.6V527.9M247.25 322.6V527.9M316.50 322.6V527.9M385.75 322.6V527.9M455.00 322.6V527.9M524.25 322.6V527.9M593.50 322.6V527.9M662.75 322.6V527.9M732.00 322.6V527.9M801.25 322.6V527.9M870.50 322.6V527.9M939.75 322.6V527.9M1009.00 322.6V527.9" stroke="#111" stroke-width="1.15" fill="none"/><path d="M39.75 88.9H1077.75M39.75 140.7H1077.75M39.75 192.0H1077.75M39.75 362.8H1077.75M39.75 404.1H1077.75M39.75 445.4H1077.75M39.75 486.7H1077.75" stroke="#222" stroke-width="1.4" fill="none"/>
<rect x="39.75" y="38.25" width="1038.0" height="205.5" fill="none" stroke="#333" stroke-width="1.4"/><rect x="39.75" y="322.6" width="1038.0" height="205.29999999999995" fill="none" stroke="#333" stroke-width="1.4"/>
<g stroke="none"><rect x="836" y="22.5" width="10.5" height="10.5" fill="#000"/><rect x="913.8" y="22.7" width="10" height="10" fill="#f00" stroke="#333" stroke-width="0.6"/><rect x="991.3" y="22.7" width="10" height="10" fill="#ff0" stroke="#333" stroke-width="0.6"/></g>
<text x="61.00" y="33.20" font-size="18" textLength="589.6" lengthAdjust="spacingAndGlyphs">SUNSPOT AREA IN EQUAL AREA LATITUDE STRIPS (% OF STRIP AREA)</text><text x="849.80" y="33.00" font-size="20" textLength="11.6" lengthAdjust="spacingAndGlyphs" stroke-width="0.9">&gt;</text><text x="867.90" y="33.10" font-size="18" textLength="35.2" lengthAdjust="spacingAndGlyphs">0.0%</text><text x="927.20" y="33.00" font-size="20" textLength="11.6" lengthAdjust="spacingAndGlyphs" stroke-width="0.9">&gt;</text><text x="945.00" y="33.10" font-size="18" textLength="35.6" lengthAdjust="spacingAndGlyphs">0.1%</text><text x="1005.00" y="33.00" font-size="20" textLength="11.6" lengthAdjust="spacingAndGlyphs" stroke-width="0.9">&gt;</text><text x="1023.00" y="33.10" font-size="18" textLength="35.0" lengthAdjust="spacingAndGlyphs">1.0%</text><text x="4.20" y="41.40" font-size="18" textLength="30" lengthAdjust="spacingAndGlyphs">90N</text><text x="4.20" y="92.90" font-size="18" textLength="30" lengthAdjust="spacingAndGlyphs">30N</text><text x="9.60" y="144.60" font-size="18" textLength="24.6" lengthAdjust="spacingAndGlyphs">EQ</text><text x="6.80" y="196.40" font-size="18" textLength="27.4" lengthAdjust="spacingAndGlyphs">30S</text><text x="7.00" y="247.70" font-size="18" textLength="27.2" lengthAdjust="spacingAndGlyphs">90S</text><text x="23.10" y="260.60" font-size="18" textLength="33.8" lengthAdjust="spacingAndGlyphs">1870</text><text x="23.10" y="544.80" font-size="18" textLength="33.8" lengthAdjust="spacingAndGlyphs">1870</text><text x="92.35" y="260.60" font-size="18" textLength="33.8" lengthAdjust="spacingAndGlyphs">1880</text><text x="92.35" y="544.80" font-size="18" textLength="33.8" lengthAdjust="spacingAndGlyphs">1880</text><text x="161.60" y="260.60" font-size="18" textLength="33.8" lengthAdjust="spacingAndGlyphs">1890</text><text x="161.60" y="544.80" font-size="18" textLength="33.8" lengthAdjust="spacingAndGlyphs">1890</text><text x="230.85" y="260.60" font-size="18" textLength="33.8" lengthAdjust="spacingAndGlyphs">1900</text><text x="230.85" y="544.80" font-size="18" textLength="33.8" lengthAdjust="spacingAndGlyphs">1900</text><text x="300.10" y="260.60" font-size="18" textLength="33.8" lengthAdjust="spacingAndGlyphs">1910</text><text x="300.10" y="544.80" font-size="18" textLength="33.8" lengthAdjust="spacingAndGlyphs">1910</text><text x="369.35" y="260.60" font-size="18" textLength="33.8" lengthAdjust="spacingAndGlyphs">1920</text><text x="369.35" y="544.80" font-size="18" textLength="33.8" lengthAdjust="spacingAndGlyphs">1920</text><text x="438.60" y="260.60" font-size="18" textLength="33.8" lengthAdjust="spacingAndGlyphs">1930</text><text x="438.60" y="544.80" font-size="18" textLength="33.8" lengthAdjust="spacingAndGlyphs">1930</text><text x="507.85" y="260.60" font-size="18" textLength="33.8" lengthAdjust="spacingAndGlyphs">1940</text><text x="507.85" y="544.80" font-size="18" textLength="33.8" lengthAdjust="spacingAndGlyphs">1940</text><text x="577.10" y="260.60" font-size="18" textLength="33.8" lengthAdjust="spacingAndGlyphs">1950</text><text x="577.10" y="544.80" font-size="18" textLength="33.8" lengthAdjust="spacingAndGlyphs">1950</text><text x="646.35" y="260.60" font-size="18" textLength="33.8" lengthAdjust="spacingAndGlyphs">1960</text><text x="646.35" y="544.80" font-size="18" textLength="33.8" lengthAdjust="spacingAndGlyphs">1960</text><text x="715.60" y="260.60" font-size="18" textLength="33.8" lengthAdjust="spacingAndGlyphs">1970</text><text x="715.60" y="544.80" font-size="18" textLength="33.8" lengthAdjust="spacingAndGlyphs">1970</text><text x="784.85" y="260.60" font-size="18" textLength="33.8" lengthAdjust="spacingAndGlyphs">1980</text><text x="784.85" y="544.80" font-size="18" textLength="33.8" lengthAdjust="spacingAndGlyphs">1980</text><text x="854.10" y="260.60" font-size="18" textLength="33.8" lengthAdjust="spacingAndGlyphs">1990</text><text x="854.10" y="544.80" font-size="18" textLength="33.8" lengthAdjust="spacingAndGlyphs">1990</text><text x="923.35" y="260.60" font-size="18" textLength="33.8" lengthAdjust="spacingAndGlyphs">2000</text><text x="923.35" y="544.80" font-size="18" textLength="33.8" lengthAdjust="spacingAndGlyphs">2000</text><text x="992.60" y="260.60" font-size="18" textLength="33.8" lengthAdjust="spacingAndGlyphs">2010</text><text x="992.60" y="544.80" font-size="18" textLength="33.8" lengthAdjust="spacingAndGlyphs">2010</text><text x="1061.85" y="260.60" font-size="18" textLength="33.8" lengthAdjust="spacingAndGlyphs">2020</text><text x="1061.85" y="544.80" font-size="18" textLength="33.8" lengthAdjust="spacingAndGlyphs">2020</text><text x="536.10" y="275.70" font-size="18" textLength="45.6" lengthAdjust="spacingAndGlyphs">DATE</text><text x="52.40" y="317.60" font-size="18" textLength="526.2" lengthAdjust="spacingAndGlyphs">AVERAGE DAILY SUNSPOT AREA (% OF VISIBLE HEMISPHERE)</text><text x="13.10" y="325.70" font-size="18" textLength="20.5" lengthAdjust="spacingAndGlyphs">0.5</text><text x="13.10" y="367.08" font-size="18" textLength="20.5" lengthAdjust="spacingAndGlyphs">0.4</text><text x="13.10" y="408.46" font-size="18" textLength="20.5" lengthAdjust="spacingAndGlyphs">0.3</text><text x="13.10" y="449.84" font-size="18" textLength="20.5" lengthAdjust="spacingAndGlyphs">0.2</text><text x="13.10" y="491.22" font-size="18" textLength="20.5" lengthAdjust="spacingAndGlyphs">0.1</text><text x="13.10" y="532.60" font-size="18" textLength="20.5" lengthAdjust="spacingAndGlyphs">0.0</text><text x="536.10" y="560.40" font-size="18" textLength="45.6" lengthAdjust="spacingAndGlyphs">DATE</text><text x="39.90" y="576.00" font-size="14" textLength="197.9" lengthAdjust="spacingAndGlyphs">http://solarscience.msfc.nasa.gov/</text><text x="861.10" y="575.80" font-size="14" textLength="78" lengthAdjust="spacingAndGlyphs">HATHAWAY</text><text x="950.10" y="575.80" font-size="14" textLength="67.9" lengthAdjust="spacingAndGlyphs">NASA/ARC</text><text x="1028.40" y="575.80" font-size="14" textLength="45.4" lengthAdjust="spacingAndGlyphs">2016/10</text><text x="124.65" y="527.10" font-size="18" textLength="16.3" lengthAdjust="spacingAndGlyphs" fill="#fff" stroke-width="0">12</text><text x="197.05" y="527.10" font-size="18" textLength="16.3" lengthAdjust="spacingAndGlyphs" fill="#fff" stroke-width="0">13</text><text x="284.85" y="527.10" font-size="18" textLength="16.3" lengthAdjust="spacingAndGlyphs" fill="#fff" stroke-width="0">14</text><text x="361.85" y="527.10" font-size="18" textLength="16.3" lengthAdjust="spacingAndGlyphs" fill="#fff" stroke-width="0">15</text><text x="429.85" y="527.10" font-size="18" textLength="16.3" lengthAdjust="spacingAndGlyphs" fill="#fff" stroke-width="0">16</text><text x="506.95" y="527.10" font-size="18" textLength="16.3" lengthAdjust="spacingAndGlyphs" fill="#fff" stroke-width="0">17</text><text x="574.65" y="527.10" font-size="18" textLength="16.3" lengthAdjust="spacingAndGlyphs" fill="#fff" stroke-width="0">18</text><text x="647.15" y="527.10" font-size="18" textLength="16.3" lengthAdjust="spacingAndGlyphs" fill="#fff" stroke-width="0">19</text><text x="724.55" y="527.10" font-size="18" textLength="16.3" lengthAdjust="spacingAndGlyphs" fill="#fff" stroke-width="0">20</text><text x="801.25" y="527.10" font-size="18" textLength="16.3" lengthAdjust="spacingAndGlyphs" fill="#fff" stroke-width="0">21</text><text x="868.95" y="527.10" font-size="18" textLength="16.3" lengthAdjust="spacingAndGlyphs" fill="#fff" stroke-width="0">22</text><text x="946.25" y="527.10" font-size="18" textLength="16.3" lengthAdjust="spacingAndGlyphs" fill="#fff" stroke-width="0">23</text>
</svg>
</body></html>
